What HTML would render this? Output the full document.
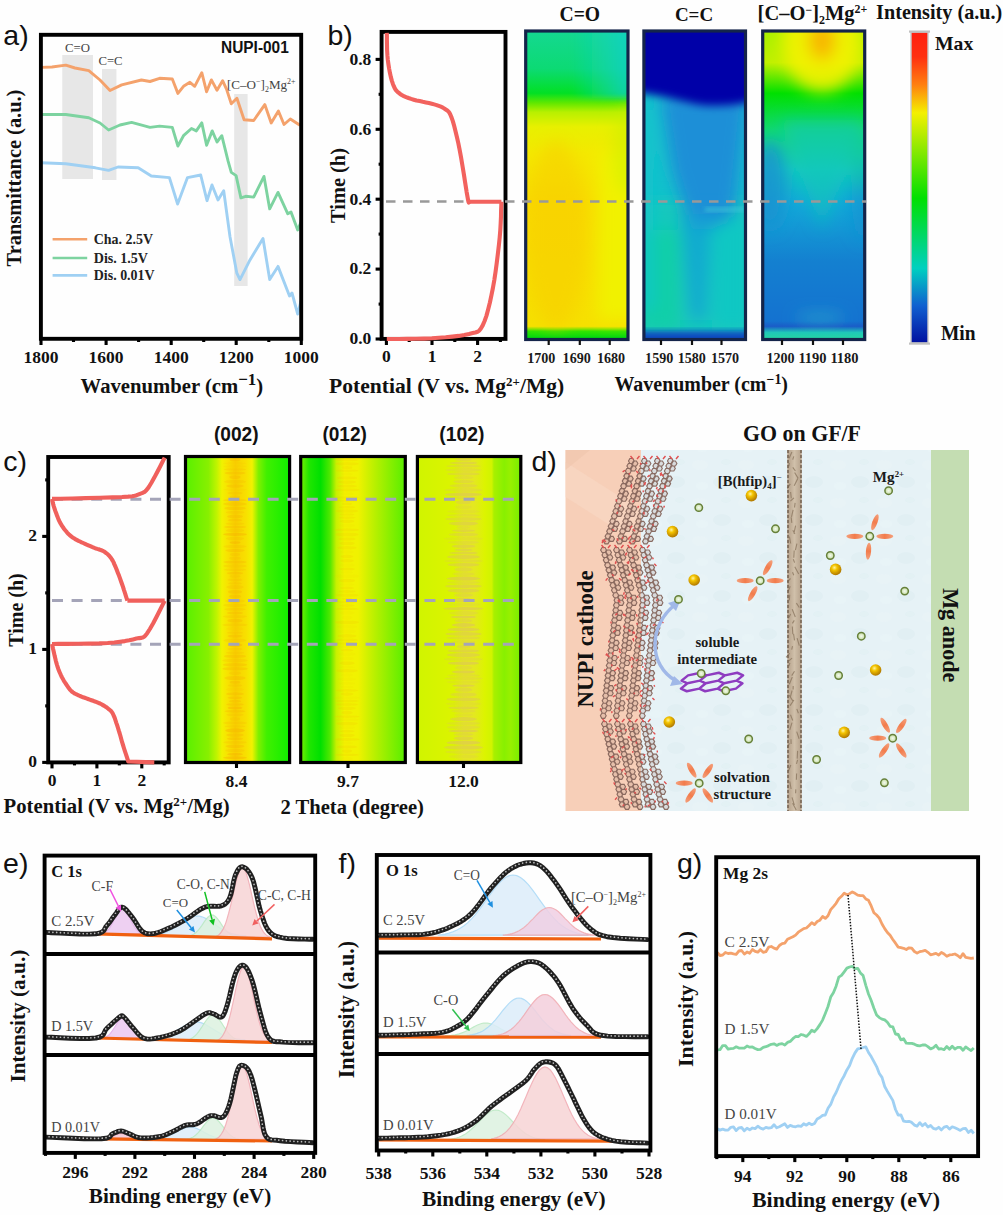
<!DOCTYPE html>
<html><head><meta charset="utf-8"><style>
html,body{margin:0;padding:0;background:#fff;width:1003px;height:1215px;overflow:hidden}
svg{display:block}
</style></head><body>
<svg width="1003" height="1215" viewBox="0 0 1003 1215">
<rect width="1003" height="1215" fill="#fefefe"/>
<rect x="62.3" y="55" width="30.7" height="124" fill="#dcdcdc" opacity="0.68"/>
<rect x="102" y="69" width="14.4" height="111" fill="#dcdcdc" opacity="0.68"/>
<rect x="234.2" y="94" width="13.4" height="192" fill="#dcdcdc" opacity="0.68"/>
<path d="M41,67.4 L52,67 L65.8,65.1 L75,68 L88.8,70.7 L100,80 L110,90.5 L121.7,84.9 L141.4,80 L150,81.5 L159.6,78.3 L172.3,79 L177.9,93.4 L183.5,86.3 L189.9,82.3 L194.7,86.3 L201.8,72.7 L206.6,91.8 L211.4,79.9 L217,90.2 L222.6,80.7 L226.6,89.4 L231.3,103.8 L236.9,98.2 L244.1,119.7 L253.7,120.5 L264.8,104.6 L271.2,122.9 L278.4,111 L284,124.5 L290.3,119 L300,125.3" fill="none" stroke="#f4a26c" stroke-width="2.9" stroke-linejoin="round"/>
<path d="M41,114.5 L65.8,114.5 L88.8,117.8 L100,123 L108.6,130 L120,125 L131.6,122.4 L150,127.4 L159.6,126.1 L172.3,127.4 L177.9,146 L183.5,135.7 L191.5,128.5 L196.3,130.9 L201.8,122.9 L206.6,145.3 L212.2,130.9 L217,142 L221.8,135.7 L228.1,161.2 L231.3,172.4 L236.1,175.6 L240.9,197.9 L245.7,196.3 L253.7,197.1 L264,176.4 L269.7,208.9 L278,192.4 L287.8,213.8 L291,212 L297.7,230 L301,222" fill="none" stroke="#7dd3a0" stroke-width="2.9" stroke-linejoin="round"/>
<path d="M41,162.8 L65.8,163.8 L95.4,167.8 L108.6,170.4 L118,167 L138.2,167.8 L151.3,176 L169.4,177.6 L177.6,204 L187.5,177.6 L200.7,175 L207,200.7 L212,185 L218,200 L223.7,190.8 L230,236.8 L236.8,273 L240,279.6 L250,259.9 L263,238.5 L269.7,279.6 L278,266.4 L289.5,296 L292,293 L297.7,314 L301,301" fill="none" stroke="#9fd0f3" stroke-width="2.9" stroke-linejoin="round"/>
<rect x="40.9" y="34.8" width="260.3" height="304" fill="none" stroke="#000" stroke-width="3.9"/>
<line x1="41" y1="339" x2="41" y2="345" stroke="#000" stroke-width="3.1"/>
<line x1="73.5" y1="339" x2="73.5" y2="342" stroke="#000" stroke-width="3.1"/>
<line x1="106.1" y1="339" x2="106.1" y2="345" stroke="#000" stroke-width="3.1"/>
<line x1="138.6" y1="339" x2="138.6" y2="342" stroke="#000" stroke-width="3.1"/>
<line x1="171.2" y1="339" x2="171.2" y2="345" stroke="#000" stroke-width="3.1"/>
<line x1="203.7" y1="339" x2="203.7" y2="342" stroke="#000" stroke-width="3.1"/>
<line x1="236.2" y1="339" x2="236.2" y2="345" stroke="#000" stroke-width="3.1"/>
<line x1="268.8" y1="339" x2="268.8" y2="342" stroke="#000" stroke-width="3.1"/>
<line x1="301.3" y1="339" x2="301.3" y2="345" stroke="#000" stroke-width="3.1"/>
<text id="tx1" x="41" y="362.7" font-family='"Liberation Serif", serif' font-size="17.50" font-weight="bold" text-anchor="middle" fill="#111">1800</text>
<text id="tx2" x="106.1" y="362.7" font-family='"Liberation Serif", serif' font-size="17.50" font-weight="bold" text-anchor="middle" fill="#111">1600</text>
<text id="tx3" x="171.2" y="362.7" font-family='"Liberation Serif", serif' font-size="17.50" font-weight="bold" text-anchor="middle" fill="#111">1400</text>
<text id="tx4" x="236.2" y="362.7" font-family='"Liberation Serif", serif' font-size="17.50" font-weight="bold" text-anchor="middle" fill="#111">1200</text>
<text id="tx5" x="301.3" y="362.7" font-family='"Liberation Serif", serif' font-size="17.50" font-weight="bold" text-anchor="middle" fill="#111">1000</text>
<text id="tx6" x="80.6" y="392.5" font-family='"Liberation Serif", serif' font-size="20.80" font-weight="bold" text-anchor="start" fill="#111" textLength="182.6" lengthAdjust="spacingAndGlyphs">Wavenumber (cm<tspan dy="-8" font-size="17">−1</tspan><tspan dy="8">)</tspan></text>
<text id="tx7" x="20.9" y="266.4" font-family='"Liberation Serif", serif' font-size="20.50" font-weight="bold" text-anchor="start" fill="#111" transform="rotate(-90 20.9 266.4)" textLength="176.8" lengthAdjust="spacingAndGlyphs">Transmittance (a.u.)</text>
<text id="tx8" x="65" y="51.6" font-family='"Liberation Serif", serif' font-size="13.32" font-weight="normal" text-anchor="start" fill="#444" textLength="25" lengthAdjust="spacingAndGlyphs">C=O</text>
<text id="tx9" x="98.4" y="65.3" font-family='"Liberation Serif", serif' font-size="13.18" font-weight="normal" text-anchor="start" fill="#444" textLength="24.2" lengthAdjust="spacingAndGlyphs">C=C</text>
<text id="tx10" x="227" y="89" font-family='"Liberation Serif", serif' font-size="13.17" font-weight="normal" text-anchor="start" fill="#444" textLength="68.5" lengthAdjust="spacingAndGlyphs">[C–O<tspan dy="-5" font-size="8">−</tspan><tspan dy="5">]</tspan><tspan dy="3" font-size="8">2</tspan><tspan dy="-3">Mg</tspan><tspan dy="-5" font-size="8">2+</tspan></text>
<text id="tx11" x="221" y="52.8" font-family='"Liberation Sans", sans-serif' font-size="15.60" font-weight="bold" text-anchor="start" fill="#111" textLength="67.8" lengthAdjust="spacingAndGlyphs">NUPI-001</text>
<line x1="52.6" y1="239.2" x2="87.2" y2="239.2" stroke="#f4a26c" stroke-width="2.6"/>
<text id="tx12" x="93.8" y="244.2" font-family='"Liberation Serif", serif' font-size="14.17" font-weight="bold" text-anchor="start" fill="#222" textLength="59.2" lengthAdjust="spacingAndGlyphs">Cha. 2.5V</text>
<line x1="52.6" y1="258" x2="87.2" y2="258" stroke="#7dd3a0" stroke-width="2.6"/>
<text id="tx13" x="93.8" y="263" font-family='"Liberation Serif", serif' font-size="14.09" font-weight="bold" text-anchor="start" fill="#222" textLength="54.2" lengthAdjust="spacingAndGlyphs">Dis. 1.5V</text>
<line x1="52.6" y1="275.4" x2="87.2" y2="275.4" stroke="#9fd0f3" stroke-width="2.6"/>
<text id="tx14" x="93.8" y="280.4" font-family='"Liberation Serif", serif' font-size="14.18" font-weight="bold" text-anchor="start" fill="#222" textLength="60.8" lengthAdjust="spacingAndGlyphs">Dis. 0.01V</text>
<text id="tx15" x="3.3" y="44.6" font-family='"Liberation Sans", sans-serif' font-size="28.50" font-weight="normal" text-anchor="start" fill="#111">a)</text>
<defs><linearGradient id="coV" gradientUnits="userSpaceOnUse" x1="0" y1="32" x2="0" y2="338">
<stop offset="0" stop-color="#14d890"/><stop offset="0.12" stop-color="#0cda74"/><stop offset="0.2" stop-color="#02e024"/>
<stop offset="0.232" stop-color="#60e800"/><stop offset="0.262" stop-color="#b8f000"/><stop offset="0.31" stop-color="#e8f000"/><stop offset="0.4" stop-color="#f4e800"/><stop offset="0.55" stop-color="#f8dc00"/>
<stop offset="0.962" stop-color="#f6e000"/><stop offset="0.978" stop-color="#30e400"/><stop offset="1" stop-color="#00d810"/></linearGradient>
<linearGradient id="coTeal" x1="0" y1="0" x2="1" y2="0"><stop offset="0" stop-color="#14d2c4" stop-opacity="0"/><stop offset="0.45" stop-color="#14d2c4" stop-opacity="0"/><stop offset="1" stop-color="#10d0c8" stop-opacity="0.85"/></linearGradient>
<linearGradient id="mgV" gradientUnits="userSpaceOnUse" x1="0" y1="32" x2="0" y2="338">
<stop offset="0" stop-color="#a8f000"/><stop offset="0.1" stop-color="#c0f000"/><stop offset="0.2" stop-color="#00e000"/>
<stop offset="0.32" stop-color="#10d870"/><stop offset="0.45" stop-color="#10c8c0"/><stop offset="0.56" stop-color="#12a8d8"/>
<stop offset="0.75" stop-color="#1480d0"/><stop offset="0.945" stop-color="#1472d0"/><stop offset="0.962" stop-color="#1a5cc8"/>
<stop offset="0.982" stop-color="#20c8b8"/><stop offset="1" stop-color="#24d4a4"/></linearGradient>
<filter id="blur4" x="-20%" y="-20%" width="140%" height="140%"><feGaussianBlur stdDeviation="4"/></filter>
<filter id="blur6" x="-20%" y="-20%" width="140%" height="140%"><feGaussianBlur stdDeviation="6"/></filter>
<filter id="blur8" x="-50%" y="-50%" width="200%" height="200%"><feGaussianBlur stdDeviation="8"/></filter>
<filter id="blur3" x="-20%" y="-20%" width="140%" height="140%"><feGaussianBlur stdDeviation="3"/></filter>
<filter id="blur2" x="-20%" y="-20%" width="140%" height="140%"><feGaussianBlur stdDeviation="2"/></filter>
<clipPath id="clipCO"><rect x="526" y="31.5" width="102" height="307.5"/></clipPath>
<clipPath id="clipCC"><rect x="644" y="31.5" width="101.5" height="307.5"/></clipPath>
<clipPath id="clipMG"><rect x="763" y="31.5" width="102" height="307.5"/></clipPath>
<linearGradient id="cbar" x1="0" y1="0" x2="0" y2="1">
<stop offset="0" stop-color="#ff2010"/><stop offset="0.08" stop-color="#ff3010"/><stop offset="0.17" stop-color="#ff8010"/><stop offset="0.26" stop-color="#f4f000"/>
<stop offset="0.535" stop-color="#00e000"/><stop offset="0.76" stop-color="#00d0c0"/><stop offset="0.88" stop-color="#1060d0"/><stop offset="1" stop-color="#0010a0"/></linearGradient>
</defs>
<g clip-path="url(#clipCO)">
<rect x="524" y="30" width="106" height="311" fill="url(#coV)"/>
<rect x="524" y="28" width="106" height="70" fill="url(#coTeal)" filter="url(#blur3)"/>
<g filter="url(#blur8)">
<ellipse cx="556" cy="235" rx="30" ry="95" fill="#f8c800" opacity="0.42"/>
<rect x="598" y="150" width="50" height="170" fill="#f0f400" opacity="0.85"/>
<ellipse cx="630" cy="150" rx="18" ry="45" fill="#c8f000" opacity="0.5"/>
</g></g>
<rect x="525.7" y="31" width="102.3" height="308.5" fill="none" stroke="#14244a" stroke-width="3.2"/>
<g clip-path="url(#clipCC)">
<rect x="642" y="30" width="106" height="311" fill="#14c0cc"/>
<rect x="642" y="200" width="106" height="140" fill="#12c8bc" filter="url(#blur8)"/>
<g filter="url(#blur8)">
<rect x="636" y="230" width="44" height="100" fill="#10d0a4" opacity="0.85"/>
<rect x="712" y="215" width="40" height="115" fill="#10c8c4" opacity="0.9"/>
<path d="M660,95 L748,95 L735,215 L712,228 L690,228 L672,170 Z" fill="#1a8cd8" opacity="0.95"/>
<path d="M680,215 L712,215 L706,320 L690,320 Z" fill="#14a4d4" opacity="0.8"/>
<rect x="640" y="110" width="14" height="200" fill="#12c6cc" opacity="0.8"/>
</g>
<rect x="705" y="207" width="42" height="5" fill="#40c8d8" opacity="0.6" filter="url(#blur2)"/>
<path d="M630,20 L760,20 L760,100 C735,106 710,108 690,103 C670,98 655,94 630,92 Z" fill="#0000a8" filter="url(#blur4)"/>
<rect x="630" y="331" width="130" height="20" fill="#1048c0" filter="url(#blur3)"/>
</g>
<rect x="643.9" y="31" width="101.6" height="308.5" fill="none" stroke="#14244a" stroke-width="3.2"/>
<g clip-path="url(#clipMG)">
<rect x="761" y="30" width="106" height="311" fill="url(#mgV)"/>
<g filter="url(#blur8)">
<ellipse cx="822" cy="40" rx="40" ry="52" fill="#f4f200" opacity="0.9"/>
<ellipse cx="822" cy="40" rx="13" ry="20" fill="#f8b400"/>
<path d="M780,120 L865,120 L822,230 Z" fill="#10c8b8" opacity="0.6"/>
<ellipse cx="770" cy="185" rx="16" ry="45" fill="#1890d0" opacity="0.8"/>
<ellipse cx="864" cy="200" rx="12" ry="40" fill="#1890d0" opacity="0.6"/>
<ellipse cx="862" cy="160" rx="10" ry="30" fill="#10c8a0" opacity="0.6"/>
<ellipse cx="820" cy="318" rx="25" ry="4" fill="#30c8c8" opacity="0.6"/>
</g></g>
<rect x="762.7" y="31" width="102" height="308.5" fill="none" stroke="#14244a" stroke-width="3.2"/>
<line x1="548.7" y1="340" x2="548.7" y2="345" stroke="#111" stroke-width="2.2"/>
<text id="tx16" x="541.3" y="362.5" font-family='"Liberation Serif", serif' font-size="14.50" font-weight="bold" text-anchor="middle" fill="#1a1a1a" textLength="28.2" lengthAdjust="spacingAndGlyphs">1700</text>
<line x1="579.8" y1="340" x2="579.8" y2="345" stroke="#111" stroke-width="2.2"/>
<text id="tx17" x="576.7" y="362.5" font-family='"Liberation Serif", serif' font-size="14.50" font-weight="bold" text-anchor="middle" fill="#1a1a1a" textLength="28.2" lengthAdjust="spacingAndGlyphs">1690</text>
<line x1="609.7" y1="340" x2="609.7" y2="345" stroke="#111" stroke-width="2.2"/>
<text id="tx18" x="611" y="362.5" font-family='"Liberation Serif", serif' font-size="14.50" font-weight="bold" text-anchor="middle" fill="#1a1a1a" textLength="28.2" lengthAdjust="spacingAndGlyphs">1680</text>
<line x1="661" y1="340" x2="661" y2="345" stroke="#111" stroke-width="2.2"/>
<text id="tx19" x="659.2" y="362.5" font-family='"Liberation Serif", serif' font-size="14.50" font-weight="bold" text-anchor="middle" fill="#1a1a1a" textLength="28.2" lengthAdjust="spacingAndGlyphs">1590</text>
<line x1="692" y1="340" x2="692" y2="345" stroke="#111" stroke-width="2.2"/>
<text id="tx20" x="691.8" y="362.5" font-family='"Liberation Serif", serif' font-size="14.50" font-weight="bold" text-anchor="middle" fill="#1a1a1a" textLength="28.2" lengthAdjust="spacingAndGlyphs">1580</text>
<line x1="721.5" y1="340" x2="721.5" y2="345" stroke="#111" stroke-width="2.2"/>
<text id="tx21" x="725" y="362.5" font-family='"Liberation Serif", serif' font-size="14.50" font-weight="bold" text-anchor="middle" fill="#1a1a1a" textLength="28.2" lengthAdjust="spacingAndGlyphs">1570</text>
<line x1="782" y1="340" x2="782" y2="345" stroke="#111" stroke-width="2.2"/>
<text id="tx22" x="780.5" y="362.5" font-family='"Liberation Serif", serif' font-size="14.50" font-weight="bold" text-anchor="middle" fill="#1a1a1a" textLength="28.2" lengthAdjust="spacingAndGlyphs">1200</text>
<line x1="813" y1="340" x2="813" y2="345" stroke="#111" stroke-width="2.2"/>
<text id="tx23" x="812.5" y="362.5" font-family='"Liberation Serif", serif' font-size="14.50" font-weight="bold" text-anchor="middle" fill="#1a1a1a" textLength="28.2" lengthAdjust="spacingAndGlyphs">1190</text>
<line x1="843" y1="340" x2="843" y2="345" stroke="#111" stroke-width="2.2"/>
<text id="tx24" x="844.5" y="362.5" font-family='"Liberation Serif", serif' font-size="14.50" font-weight="bold" text-anchor="middle" fill="#1a1a1a" textLength="28.2" lengthAdjust="spacingAndGlyphs">1180</text>
<text id="tx25" x="614.5" y="390.5" font-family='"Liberation Serif", serif' font-size="20.07" font-weight="bold" text-anchor="start" fill="#111" textLength="173.5" lengthAdjust="spacingAndGlyphs">Wavenumber (cm<tspan dy="-7" font-size="14">−1</tspan><tspan dy="7">)</tspan></text>
<text id="tx26" x="559.5" y="20.6" font-family='"Liberation Serif", serif' font-size="20.10" font-weight="bold" text-anchor="start" fill="#111" textLength="40.6" lengthAdjust="spacingAndGlyphs">C=O</text>
<text id="tx27" x="674.9" y="20.6" font-family='"Liberation Serif", serif' font-size="19.51" font-weight="bold" text-anchor="start" fill="#111" textLength="38.3" lengthAdjust="spacingAndGlyphs">C=C</text>
<text id="tx28" x="757.6" y="19.5" font-family='"Liberation Serif", serif' font-size="20.61" font-weight="bold" text-anchor="start" fill="#111" textLength="109.7" lengthAdjust="spacingAndGlyphs">[C–O<tspan dy="-6" font-size="12">−</tspan><tspan dy="6">]</tspan><tspan dy="4" font-size="12">2</tspan><tspan dy="-4">Mg</tspan><tspan dy="-7" font-size="12">2+</tspan></text>
<text id="tx29" x="876.1" y="18.9" font-family='"Liberation Serif", serif' font-size="20.35" font-weight="bold" text-anchor="start" fill="#111" textLength="126.2" lengthAdjust="spacingAndGlyphs">Intensity (a.u.)</text>
<rect x="911" y="32" width="17" height="311" fill="url(#cbar)" stroke="#c8c8c8" stroke-width="1.4"/><rect x="909" y="30.5" width="21" height="2.2" fill="#c0c0c0"/><rect x="909" y="342.5" width="21" height="2.2" fill="#c0c0c0"/>
<text id="tx30" x="935" y="50" font-family='"Liberation Serif", serif' font-size="19.78" font-weight="bold" text-anchor="start" fill="#111" textLength="38.3" lengthAdjust="spacingAndGlyphs">Max</text>
<text id="tx31" x="941" y="340" font-family='"Liberation Serif", serif' font-size="20.02" font-weight="bold" text-anchor="start" fill="#111" textLength="34.6" lengthAdjust="spacingAndGlyphs">Min</text>
<rect x="381.6" y="31.9" width="123.9" height="307" fill="none" stroke="#000" stroke-width="3.9"/>
<line x1="375.6" y1="339" x2="381.6" y2="339" stroke="#000" stroke-width="3.1"/>
<text id="tx32" x="371.3" y="344.3" font-family='"Liberation Serif", serif' font-size="17.50" font-weight="bold" text-anchor="end" fill="#111">0.0</text>
<line x1="378.6" y1="304.1" x2="381.6" y2="304.1" stroke="#000" stroke-width="3.1"/>
<line x1="375.6" y1="269.1" x2="381.6" y2="269.1" stroke="#000" stroke-width="3.1"/>
<text id="tx33" x="371.3" y="274.4" font-family='"Liberation Serif", serif' font-size="17.50" font-weight="bold" text-anchor="end" fill="#111">0.2</text>
<line x1="378.6" y1="234.1" x2="381.6" y2="234.1" stroke="#000" stroke-width="3.1"/>
<line x1="375.6" y1="199.2" x2="381.6" y2="199.2" stroke="#000" stroke-width="3.1"/>
<text id="tx34" x="371.3" y="204.5" font-family='"Liberation Serif", serif' font-size="17.50" font-weight="bold" text-anchor="end" fill="#111">0.4</text>
<line x1="378.6" y1="164.2" x2="381.6" y2="164.2" stroke="#000" stroke-width="3.1"/>
<line x1="375.6" y1="129.3" x2="381.6" y2="129.3" stroke="#000" stroke-width="3.1"/>
<text id="tx35" x="371.3" y="134.6" font-family='"Liberation Serif", serif' font-size="17.50" font-weight="bold" text-anchor="end" fill="#111">0.6</text>
<line x1="378.6" y1="94.3" x2="381.6" y2="94.3" stroke="#000" stroke-width="3.1"/>
<line x1="375.6" y1="59.4" x2="381.6" y2="59.4" stroke="#000" stroke-width="3.1"/>
<text id="tx36" x="371.3" y="64.7" font-family='"Liberation Serif", serif' font-size="17.50" font-weight="bold" text-anchor="end" fill="#111">0.8</text>
<line x1="386.4" y1="339" x2="386.4" y2="345" stroke="#000" stroke-width="3.1"/>
<text id="tx37" x="386.4" y="362.2" font-family='"Liberation Serif", serif' font-size="17.50" font-weight="bold" text-anchor="middle" fill="#111">0</text>
<line x1="409.2" y1="339" x2="409.2" y2="342" stroke="#000" stroke-width="3.1"/>
<line x1="432" y1="339" x2="432" y2="345" stroke="#000" stroke-width="3.1"/>
<text id="tx38" x="432" y="362.2" font-family='"Liberation Serif", serif' font-size="17.50" font-weight="bold" text-anchor="middle" fill="#111">1</text>
<line x1="454.8" y1="339" x2="454.8" y2="342" stroke="#000" stroke-width="3.1"/>
<line x1="477.6" y1="339" x2="477.6" y2="345" stroke="#000" stroke-width="3.1"/>
<text id="tx39" x="477.6" y="362.2" font-family='"Liberation Serif", serif' font-size="17.50" font-weight="bold" text-anchor="middle" fill="#111">2</text>
<line x1="500.4" y1="339" x2="500.4" y2="342" stroke="#000" stroke-width="3.1"/>
<line x1="386" y1="201.5" x2="866" y2="201.5" stroke="#999" stroke-width="2.6" stroke-dasharray="9.5 7.5"/>
<path d="M386.8,32.9 L386.9,35.9 L386.9,40 L387,44.9 L387.1,50.1 L387.4,55.2 L387.8,59.8 L388.4,64.1 L389.1,68.5 L389.9,72.8 L390.8,76.9 L391.8,80.6 L392.8,83.7 L393.8,86.2 L394.7,88.2 L395.7,89.8 L396.9,91.2 L398.2,92.4 L399.8,93.7 L401.7,95 L403.8,96.1 L406.1,97.1 L408.5,98 L411.1,98.9 L413.7,99.7 L416.5,100.5 L419.6,101.1 L422.8,101.8 L425.9,102.4 L428.9,103 L431.7,103.7 L434.2,104.4 L436.6,105.1 L438.8,105.9 L440.9,106.7 L442.9,107.6 L444.6,108.7 L446.1,109.7 L447.3,110.5 L448.4,111.5 L449.4,112.8 L450.4,114.7 L451.6,117.6 L452.9,121.4 L454.2,126 L455.5,131.2 L456.9,136.9 L458.3,143.1 L459.6,149.6 L461,157.2 L462.5,166 L464,175.2 L465.4,184.1 L466.6,191.8 L467.6,197.4 L468.2,200.7 L468.6,202.2 L468.8,202.5 L468.9,202.2 L468.9,201.7 L469,201.7" fill="none" stroke="#f2625e" stroke-width="4.1" stroke-linejoin="round"/>
<path d="M469,201.7 L501.4,201.7" fill="none" stroke="#f2625e" stroke-width="4.1"/>
<path d="M501.4,201.7 L501.3,205.4 L501.1,210.4 L501,216.3 L500.7,223 L500.3,230.1 L499.7,237.3 L498.9,245 L497.9,253.6 L496.8,262.5 L495.6,271.5 L494.3,280.1 L492.9,288 L491.4,295.3 L489.9,302.5 L488.2,309.3 L486.5,315.6 L484.6,321 L482.7,325.4 L480.9,328.5 L479.3,330.6 L477.5,331.8 L475.4,332.5 L472.7,333.1 L469,334 L464.3,335 L458.7,335.9 L452.4,336.6 L445.7,337.3 L438.8,337.8 L431.9,338.3 L424.3,338.6 L415.8,338.8 L407,338.9 L398.8,339 L391.8,339 L386.8,339" fill="none" stroke="#f2625e" stroke-width="4.1" stroke-linejoin="round"/>
<text id="tx40" x="329" y="392.7" font-family='"Liberation Serif", serif' font-size="21.69" font-weight="bold" text-anchor="start" fill="#111" textLength="235.3" lengthAdjust="spacingAndGlyphs">Potential (V vs. Mg<tspan dy="-7" font-size="13">2+</tspan><tspan dy="7">/Mg)</tspan></text>
<text id="tx41" x="345" y="223" font-family='"Liberation Serif", serif' font-size="20.67" font-weight="bold" text-anchor="start" fill="#111" transform="rotate(-90 345 223)" textLength="75" lengthAdjust="spacingAndGlyphs">Time (h)</text>
<text id="tx42" x="327.5" y="44.9" font-family='"Liberation Sans", sans-serif' font-size="28.50" font-weight="normal" text-anchor="start" fill="#111">b)</text>
<defs>
<linearGradient id="h002" x1="0" y1="0" x2="1" y2="0">
<stop offset="0" stop-color="#58f000"/><stop offset="0.22" stop-color="#88f000"/><stop offset="0.3" stop-color="#c0f400"/><stop offset="0.35" stop-color="#f0f200"/>
<stop offset="0.4" stop-color="#f8e400"/><stop offset="0.48" stop-color="#f8d000"/><stop offset="0.58" stop-color="#f8e000"/><stop offset="0.64" stop-color="#f0f200"/><stop offset="0.7" stop-color="#80f000"/><stop offset="0.78" stop-color="#40f000"/><stop offset="1" stop-color="#10ee00"/></linearGradient>
<linearGradient id="h012" x1="0" y1="0" x2="1" y2="0">
<stop offset="0" stop-color="#78f000"/><stop offset="0.08" stop-color="#20e600"/><stop offset="0.19" stop-color="#00e000"/><stop offset="0.28" stop-color="#50e800"/>
<stop offset="0.34" stop-color="#c8f000"/><stop offset="0.42" stop-color="#f4f200"/><stop offset="0.55" stop-color="#f0f200"/><stop offset="0.71" stop-color="#b8f000"/><stop offset="1" stop-color="#58ee00"/></linearGradient>
<linearGradient id="h102" x1="0" y1="0" x2="1" y2="0">
<stop offset="0" stop-color="#d0f400"/><stop offset="0.35" stop-color="#dcf400"/><stop offset="0.45" stop-color="#e4e820"/><stop offset="0.55" stop-color="#e4e820"/><stop offset="0.65" stop-color="#dcf400"/>
<stop offset="0.72" stop-color="#d0f400"/><stop offset="0.74" stop-color="#a8f000"/><stop offset="0.84" stop-color="#88f000"/><stop offset="0.9" stop-color="#98f000"/><stop offset="1" stop-color="#78ee00"/></linearGradient>
</defs>
<rect x="185.5" y="456.5" width="104.1" height="306" fill="url(#h002)"/>
<g opacity="0.9"><ellipse cx="235" cy="459.8" rx="5.3" ry="1.6" fill="#f4a800" opacity="0.3"/><ellipse cx="235" cy="463.3" rx="12.1" ry="1.3" fill="#f4a800" opacity="0.1"/><ellipse cx="235" cy="466.4" rx="11.7" ry="1.3" fill="#f4a800" opacity="0.1"/><ellipse cx="235" cy="469.6" rx="11.2" ry="1.4" fill="#f4a800" opacity="0.2"/><ellipse cx="235" cy="473.1" rx="10.8" ry="1.5" fill="#f4a800" opacity="0.3"/><ellipse cx="235" cy="477.1" rx="5.7" ry="1.9" fill="#f4a800" opacity="0.3"/><ellipse cx="235" cy="481.7" rx="11.1" ry="2" fill="#f4a800" opacity="0.2"/><ellipse cx="235" cy="486" rx="8.7" ry="1.7" fill="#f4a800" opacity="0.3"/><ellipse cx="235" cy="489.6" rx="11.8" ry="1.3" fill="#f4a800" opacity="0.1"/><ellipse cx="235" cy="493.1" rx="7.7" ry="1.6" fill="#f4a800" opacity="0.2"/><ellipse cx="235" cy="496.8" rx="5.2" ry="1.5" fill="#f4a800" opacity="0.2"/><ellipse cx="235" cy="500.2" rx="12" ry="1.3" fill="#f4a800" opacity="0.3"/><ellipse cx="235" cy="504" rx="11.9" ry="1.9" fill="#f4a800" opacity="0.3"/><ellipse cx="235" cy="508.3" rx="10.9" ry="1.8" fill="#f4a800" opacity="0.3"/><ellipse cx="235" cy="512.4" rx="9.5" ry="1.6" fill="#f4a800" opacity="0.2"/><ellipse cx="235" cy="516.4" rx="8" ry="1.8" fill="#f4a800" opacity="0.3"/><ellipse cx="235" cy="520.2" rx="7.4" ry="1.4" fill="#f4a800" opacity="0.3"/><ellipse cx="235" cy="523.7" rx="9.5" ry="1.5" fill="#f4a800" opacity="0.2"/><ellipse cx="235" cy="527" rx="11.3" ry="1.3" fill="#f4a800" opacity="0.3"/><ellipse cx="235" cy="530.5" rx="9.4" ry="1.7" fill="#f4a800" opacity="0.2"/><ellipse cx="235" cy="534.4" rx="12" ry="1.6" fill="#f4a800" opacity="0.4"/><ellipse cx="235" cy="538.6" rx="9.3" ry="1.9" fill="#f4a800" opacity="0.2"/><ellipse cx="235" cy="542.6" rx="5.5" ry="1.4" fill="#f4a800" opacity="0.4"/><ellipse cx="235" cy="546.5" rx="11.6" ry="1.8" fill="#f4a800" opacity="0.2"/><ellipse cx="235" cy="550.5" rx="9.7" ry="1.6" fill="#f4a800" opacity="0.3"/><ellipse cx="235" cy="554.4" rx="5.2" ry="1.6" fill="#f4a800" opacity="0.2"/><ellipse cx="235" cy="558.3" rx="6.1" ry="1.7" fill="#f4a800" opacity="0.2"/><ellipse cx="235" cy="562.1" rx="11.8" ry="1.5" fill="#f4a800" opacity="0.3"/><ellipse cx="235" cy="566" rx="11.8" ry="1.7" fill="#f4a800" opacity="0.2"/><ellipse cx="235" cy="569.8" rx="11.3" ry="1.5" fill="#f4a800" opacity="0.2"/><ellipse cx="235" cy="573.2" rx="8.3" ry="1.4" fill="#f4a800" opacity="0.3"/><ellipse cx="235" cy="576.5" rx="5.5" ry="1.4" fill="#f4a800" opacity="0.2"/><ellipse cx="235" cy="579.9" rx="7.6" ry="1.5" fill="#f4a800" opacity="0.2"/><ellipse cx="235" cy="583.3" rx="7.1" ry="1.3" fill="#f4a800" opacity="0.2"/><ellipse cx="235" cy="587.1" rx="8.9" ry="2" fill="#f4a800" opacity="0.2"/><ellipse cx="235" cy="591.8" rx="7.2" ry="1.9" fill="#f4a800" opacity="0.3"/><ellipse cx="235" cy="596.4" rx="6.2" ry="2" fill="#f4a800" opacity="0.3"/><ellipse cx="235" cy="601" rx="10.1" ry="1.9" fill="#f4a800" opacity="0.2"/><ellipse cx="235" cy="605.3" rx="11.9" ry="1.8" fill="#f4a800" opacity="0.2"/><ellipse cx="235" cy="609.3" rx="11" ry="1.6" fill="#f4a800" opacity="0.2"/><ellipse cx="235" cy="613" rx="8.2" ry="1.5" fill="#f4a800" opacity="0.3"/><ellipse cx="235" cy="616.6" rx="12.4" ry="1.5" fill="#f4a800" opacity="0.2"/><ellipse cx="235" cy="620.7" rx="7.7" ry="1.9" fill="#f4a800" opacity="0.3"/><ellipse cx="235" cy="624.9" rx="12.5" ry="1.6" fill="#f4a800" opacity="0.2"/><ellipse cx="235" cy="628.9" rx="8.6" ry="1.9" fill="#f4a800" opacity="0.1"/><ellipse cx="235" cy="632.7" rx="8.1" ry="1.3" fill="#f4a800" opacity="0.2"/><ellipse cx="235" cy="636.1" rx="7.5" ry="1.6" fill="#f4a800" opacity="0.3"/><ellipse cx="235" cy="640.4" rx="11.6" ry="2" fill="#f4a800" opacity="0.2"/><ellipse cx="235" cy="645" rx="7.4" ry="1.8" fill="#f4a800" opacity="0.4"/><ellipse cx="235" cy="649.1" rx="7.8" ry="1.6" fill="#f4a800" opacity="0.2"/><ellipse cx="235" cy="652.7" rx="9.2" ry="1.4" fill="#f4a800" opacity="0.2"/><ellipse cx="235" cy="656.3" rx="11.1" ry="1.7" fill="#f4a800" opacity="0.3"/><ellipse cx="235" cy="660.5" rx="12.7" ry="1.9" fill="#f4a800" opacity="0.2"/><ellipse cx="235" cy="664.7" rx="12.3" ry="1.7" fill="#f4a800" opacity="0.3"/><ellipse cx="235" cy="668.8" rx="12.7" ry="1.7" fill="#f4a800" opacity="0.3"/><ellipse cx="235" cy="673.2" rx="6.2" ry="2" fill="#f4a800" opacity="0.2"/><ellipse cx="235" cy="678" rx="10.8" ry="2" fill="#f4a800" opacity="0.3"/><ellipse cx="235" cy="682.2" rx="5.4" ry="1.5" fill="#f4a800" opacity="0.3"/><ellipse cx="235" cy="685.5" rx="7.4" ry="1.3" fill="#f4a800" opacity="0.2"/><ellipse cx="235" cy="689.5" rx="9" ry="2.1" fill="#f4a800" opacity="0.1"/><ellipse cx="235" cy="693.9" rx="8.9" ry="1.7" fill="#f4a800" opacity="0.3"/><ellipse cx="235" cy="697.7" rx="7.3" ry="1.5" fill="#f4a800" opacity="0.3"/><ellipse cx="235" cy="701.2" rx="6.2" ry="1.5" fill="#f4a800" opacity="0.3"/><ellipse cx="235" cy="704.5" rx="8.9" ry="1.3" fill="#f4a800" opacity="0.3"/><ellipse cx="235" cy="707.9" rx="7.4" ry="1.5" fill="#f4a800" opacity="0.4"/><ellipse cx="235" cy="711.3" rx="10.6" ry="1.4" fill="#f4a800" opacity="0.3"/><ellipse cx="235" cy="714.8" rx="8.9" ry="1.6" fill="#f4a800" opacity="0.2"/><ellipse cx="235" cy="718.9" rx="5.2" ry="1.9" fill="#f4a800" opacity="0.2"/><ellipse cx="235" cy="723" rx="12.1" ry="1.6" fill="#f4a800" opacity="0.2"/><ellipse cx="235" cy="726.4" rx="10.7" ry="1.3" fill="#f4a800" opacity="0.2"/><ellipse cx="235" cy="730.4" rx="9.9" ry="2.1" fill="#f4a800" opacity="0.4"/><ellipse cx="235" cy="735" rx="8.7" ry="1.8" fill="#f4a800" opacity="0.3"/><ellipse cx="235" cy="738.8" rx="8.1" ry="1.5" fill="#f4a800" opacity="0.3"/><ellipse cx="235" cy="742.4" rx="11.8" ry="1.5" fill="#f4a800" opacity="0.2"/><ellipse cx="235" cy="746.3" rx="9.5" ry="1.8" fill="#f4a800" opacity="0.3"/><ellipse cx="235" cy="750.5" rx="9.9" ry="1.7" fill="#f4a800" opacity="0.2"/><ellipse cx="235" cy="754.3" rx="7.9" ry="1.4" fill="#f4a800" opacity="0.4"/><ellipse cx="235" cy="757.8" rx="12.1" ry="1.5" fill="#f4a800" opacity="0.4"/><ellipse cx="235" cy="761.8" rx="7.4" ry="1.8" fill="#f4a800" opacity="0.3"/></g>
<rect x="185.5" y="456.5" width="104.1" height="306" fill="none" stroke="#000" stroke-width="3.2"/>
<rect x="300.7" y="456.5" width="104.6" height="306" fill="url(#h012)"/>
<g opacity="0.9"><ellipse cx="347" cy="459.9" rx="12.1" ry="1.6" fill="#f0c000" opacity="0.2"/><ellipse cx="347" cy="463.7" rx="11.9" ry="1.7" fill="#f0c000" opacity="0.2"/><ellipse cx="347" cy="467.5" rx="5.4" ry="1.5" fill="#f0c000" opacity="0.2"/><ellipse cx="347" cy="470.7" rx="11.6" ry="1.3" fill="#f0c000" opacity="0.2"/><ellipse cx="347" cy="474.1" rx="6.1" ry="1.5" fill="#f0c000" opacity="0.1"/><ellipse cx="347" cy="477.9" rx="10.2" ry="1.7" fill="#f0c000" opacity="0.2"/><ellipse cx="347" cy="482.1" rx="9.3" ry="1.8" fill="#f0c000" opacity="0.2"/><ellipse cx="347" cy="486.2" rx="9.8" ry="1.6" fill="#f0c000" opacity="0.2"/><ellipse cx="347" cy="489.9" rx="12.6" ry="1.6" fill="#f0c000" opacity="0.2"/><ellipse cx="347" cy="493.9" rx="6.9" ry="1.7" fill="#f0c000" opacity="0.1"/><ellipse cx="347" cy="497.5" rx="12" ry="1.3" fill="#f0c000" opacity="0.2"/><ellipse cx="347" cy="500.6" rx="10.9" ry="1.3" fill="#f0c000" opacity="0.2"/><ellipse cx="347" cy="503.9" rx="5.3" ry="1.4" fill="#f0c000" opacity="0.2"/><ellipse cx="347" cy="507.3" rx="8.4" ry="1.4" fill="#f0c000" opacity="0.2"/><ellipse cx="347" cy="511" rx="11.4" ry="1.7" fill="#f0c000" opacity="0.2"/><ellipse cx="347" cy="514.5" rx="7.4" ry="1.3" fill="#f0c000" opacity="0.2"/><ellipse cx="347" cy="517.6" rx="8.6" ry="1.3" fill="#f0c000" opacity="0.2"/><ellipse cx="347" cy="521.2" rx="7.5" ry="1.7" fill="#f0c000" opacity="0.2"/><ellipse cx="347" cy="525.5" rx="7.9" ry="2" fill="#f0c000" opacity="0.1"/><ellipse cx="347" cy="529.9" rx="12.4" ry="1.7" fill="#f0c000" opacity="0.2"/><ellipse cx="347" cy="534.5" rx="11.8" ry="2.1" fill="#f0c000" opacity="0.2"/><ellipse cx="347" cy="539" rx="8.5" ry="1.7" fill="#f0c000" opacity="0.2"/><ellipse cx="347" cy="543.4" rx="7.7" ry="1.9" fill="#f0c000" opacity="0.2"/><ellipse cx="347" cy="547.7" rx="9.6" ry="1.7" fill="#f0c000" opacity="0.2"/><ellipse cx="347" cy="552" rx="6.9" ry="1.9" fill="#f0c000" opacity="0.1"/><ellipse cx="347" cy="556.4" rx="6.3" ry="1.8" fill="#f0c000" opacity="0.2"/><ellipse cx="347" cy="560.7" rx="6.9" ry="1.8" fill="#f0c000" opacity="0.2"/><ellipse cx="347" cy="565.1" rx="7.9" ry="1.9" fill="#f0c000" opacity="0.1"/><ellipse cx="347" cy="569.1" rx="8" ry="1.5" fill="#f0c000" opacity="0.2"/><ellipse cx="347" cy="572.4" rx="6" ry="1.3" fill="#f0c000" opacity="0.1"/><ellipse cx="347" cy="576.2" rx="12.4" ry="1.9" fill="#f0c000" opacity="0.1"/><ellipse cx="347" cy="580.7" rx="8.2" ry="1.9" fill="#f0c000" opacity="0.2"/><ellipse cx="347" cy="584.6" rx="7.4" ry="1.4" fill="#f0c000" opacity="0.1"/><ellipse cx="347" cy="588" rx="7.2" ry="1.5" fill="#f0c000" opacity="0.2"/><ellipse cx="347" cy="591.5" rx="8.8" ry="1.5" fill="#f0c000" opacity="0.2"/><ellipse cx="347" cy="595.3" rx="11.7" ry="1.7" fill="#f0c000" opacity="0.2"/><ellipse cx="347" cy="598.9" rx="5.2" ry="1.4" fill="#f0c000" opacity="0.2"/><ellipse cx="347" cy="602.1" rx="10.3" ry="1.3" fill="#f0c000" opacity="0.2"/><ellipse cx="347" cy="605.5" rx="7.7" ry="1.5" fill="#f0c000" opacity="0.2"/><ellipse cx="347" cy="608.9" rx="12.1" ry="1.3" fill="#f0c000" opacity="0.2"/><ellipse cx="347" cy="612.8" rx="7.6" ry="2" fill="#f0c000" opacity="0.1"/><ellipse cx="347" cy="617.6" rx="5.1" ry="2.1" fill="#f0c000" opacity="0.1"/><ellipse cx="347" cy="622.3" rx="12.2" ry="1.9" fill="#f0c000" opacity="0.2"/><ellipse cx="347" cy="626.7" rx="10.2" ry="1.8" fill="#f0c000" opacity="0.1"/><ellipse cx="347" cy="631.3" rx="9.3" ry="2.1" fill="#f0c000" opacity="0.1"/><ellipse cx="347" cy="635.9" rx="9.5" ry="1.8" fill="#f0c000" opacity="0.2"/><ellipse cx="347" cy="639.9" rx="10.8" ry="1.6" fill="#f0c000" opacity="0.2"/><ellipse cx="347" cy="643.4" rx="11.3" ry="1.4" fill="#f0c000" opacity="0.2"/><ellipse cx="347" cy="646.8" rx="11.9" ry="1.5" fill="#f0c000" opacity="0.1"/><ellipse cx="347" cy="650.2" rx="6.4" ry="1.4" fill="#f0c000" opacity="0.2"/><ellipse cx="347" cy="654.1" rx="8.4" ry="1.8" fill="#f0c000" opacity="0.1"/><ellipse cx="347" cy="658.5" rx="6.9" ry="1.9" fill="#f0c000" opacity="0.1"/><ellipse cx="347" cy="663.2" rx="7.9" ry="2" fill="#f0c000" opacity="0.2"/><ellipse cx="347" cy="667.1" rx="7.8" ry="1.3" fill="#f0c000" opacity="0.1"/><ellipse cx="347" cy="670.7" rx="11" ry="1.7" fill="#f0c000" opacity="0.2"/><ellipse cx="347" cy="675" rx="6.1" ry="1.8" fill="#f0c000" opacity="0.1"/><ellipse cx="347" cy="679.3" rx="9" ry="1.8" fill="#f0c000" opacity="0.1"/><ellipse cx="347" cy="683.4" rx="8" ry="1.7" fill="#f0c000" opacity="0.1"/><ellipse cx="347" cy="687.1" rx="7.1" ry="1.4" fill="#f0c000" opacity="0.1"/><ellipse cx="347" cy="690.4" rx="11.5" ry="1.4" fill="#f0c000" opacity="0.2"/><ellipse cx="347" cy="694.1" rx="6.5" ry="1.8" fill="#f0c000" opacity="0.2"/><ellipse cx="347" cy="697.8" rx="12.9" ry="1.4" fill="#f0c000" opacity="0.1"/><ellipse cx="347" cy="701.1" rx="12.1" ry="1.4" fill="#f0c000" opacity="0.2"/><ellipse cx="347" cy="704.5" rx="11.4" ry="1.5" fill="#f0c000" opacity="0.2"/><ellipse cx="347" cy="708.2" rx="9" ry="1.7" fill="#f0c000" opacity="0.2"/><ellipse cx="347" cy="712.7" rx="5.6" ry="2" fill="#f0c000" opacity="0.2"/><ellipse cx="347" cy="716.6" rx="12.9" ry="1.3" fill="#f0c000" opacity="0.2"/><ellipse cx="347" cy="719.7" rx="12.1" ry="1.4" fill="#f0c000" opacity="0.1"/><ellipse cx="347" cy="723.6" rx="10.9" ry="1.9" fill="#f0c000" opacity="0.2"/><ellipse cx="347" cy="727.6" rx="8.4" ry="1.5" fill="#f0c000" opacity="0.1"/><ellipse cx="347" cy="731.2" rx="7.7" ry="1.5" fill="#f0c000" opacity="0.2"/><ellipse cx="347" cy="735.3" rx="7.9" ry="1.9" fill="#f0c000" opacity="0.2"/><ellipse cx="347" cy="739.4" rx="12.6" ry="1.5" fill="#f0c000" opacity="0.2"/><ellipse cx="347" cy="743" rx="5.8" ry="1.5" fill="#f0c000" opacity="0.1"/><ellipse cx="347" cy="746.9" rx="10.3" ry="1.7" fill="#f0c000" opacity="0.2"/><ellipse cx="347" cy="751.1" rx="5.1" ry="1.8" fill="#f0c000" opacity="0.2"/><ellipse cx="347" cy="754.8" rx="12.7" ry="1.3" fill="#f0c000" opacity="0.2"/><ellipse cx="347" cy="758.7" rx="5.8" ry="1.9" fill="#f0c000" opacity="0.1"/></g>
<rect x="300.7" y="456.5" width="104.6" height="306" fill="none" stroke="#000" stroke-width="3.2"/>
<rect x="417.4" y="456.5" width="103.4" height="306" fill="url(#h102)"/>
<g opacity="0.9"><ellipse cx="463.5" cy="459.7" rx="8.6" ry="1.4" fill="#dcc060" opacity="0.4"/><ellipse cx="463.5" cy="463" rx="14" ry="1.3" fill="#dcc060" opacity="0.5"/><ellipse cx="463.5" cy="466.1" rx="17.9" ry="1.3" fill="#dcc060" opacity="0.4"/><ellipse cx="463.5" cy="469.9" rx="18" ry="1.8" fill="#dcc060" opacity="0.3"/><ellipse cx="463.5" cy="473.9" rx="16.6" ry="1.6" fill="#dcc060" opacity="0.4"/><ellipse cx="463.5" cy="477.7" rx="10" ry="1.6" fill="#dcc060" opacity="0.3"/><ellipse cx="463.5" cy="481.6" rx="10.6" ry="1.6" fill="#dcc060" opacity="0.4"/><ellipse cx="463.5" cy="485.7" rx="14" ry="1.8" fill="#dcc060" opacity="0.4"/><ellipse cx="463.5" cy="490" rx="19" ry="1.9" fill="#dcc060" opacity="0.3"/><ellipse cx="463.5" cy="494.4" rx="18.6" ry="1.8" fill="#dcc060" opacity="0.6"/><ellipse cx="463.5" cy="498.1" rx="13.7" ry="1.4" fill="#dcc060" opacity="0.4"/><ellipse cx="463.5" cy="502.2" rx="7.9" ry="2.1" fill="#dcc060" opacity="0.4"/><ellipse cx="463.5" cy="507.1" rx="8.7" ry="1.9" fill="#dcc060" opacity="0.2"/><ellipse cx="463.5" cy="511.6" rx="16.4" ry="1.8" fill="#dcc060" opacity="0.2"/><ellipse cx="463.5" cy="515.3" rx="17.3" ry="1.3" fill="#dcc060" opacity="0.3"/><ellipse cx="463.5" cy="519" rx="18.3" ry="1.7" fill="#dcc060" opacity="0.4"/><ellipse cx="463.5" cy="523.5" rx="14.5" ry="2" fill="#dcc060" opacity="0.5"/><ellipse cx="463.5" cy="527.5" rx="6.8" ry="1.3" fill="#dcc060" opacity="0.3"/><ellipse cx="463.5" cy="530.7" rx="11.7" ry="1.3" fill="#dcc060" opacity="0.5"/><ellipse cx="463.5" cy="534.5" rx="14.7" ry="1.8" fill="#dcc060" opacity="0.4"/><ellipse cx="463.5" cy="538.7" rx="19.7" ry="1.6" fill="#dcc060" opacity="0.2"/><ellipse cx="463.5" cy="542.4" rx="15.5" ry="1.5" fill="#dcc060" opacity="0.3"/><ellipse cx="463.5" cy="546.3" rx="11.8" ry="1.7" fill="#dcc060" opacity="0.5"/><ellipse cx="463.5" cy="549.9" rx="9.2" ry="1.3" fill="#dcc060" opacity="0.5"/><ellipse cx="463.5" cy="553" rx="14.4" ry="1.3" fill="#dcc060" opacity="0.5"/><ellipse cx="463.5" cy="556.9" rx="16.4" ry="2" fill="#dcc060" opacity="0.5"/><ellipse cx="463.5" cy="560.9" rx="19.6" ry="1.4" fill="#dcc060" opacity="0.3"/><ellipse cx="463.5" cy="564.8" rx="15.9" ry="1.8" fill="#dcc060" opacity="0.5"/><ellipse cx="463.5" cy="569.4" rx="9.2" ry="2.1" fill="#dcc060" opacity="0.4"/><ellipse cx="463.5" cy="574" rx="11" ry="1.8" fill="#dcc060" opacity="0.3"/><ellipse cx="463.5" cy="578.6" rx="16.7" ry="2" fill="#dcc060" opacity="0.6"/><ellipse cx="463.5" cy="582.6" rx="16.4" ry="1.4" fill="#dcc060" opacity="0.3"/><ellipse cx="463.5" cy="586.3" rx="18.3" ry="1.7" fill="#dcc060" opacity="0.5"/><ellipse cx="463.5" cy="590.7" rx="15.8" ry="2" fill="#dcc060" opacity="0.5"/><ellipse cx="463.5" cy="595.2" rx="9.6" ry="1.9" fill="#dcc060" opacity="0.4"/><ellipse cx="463.5" cy="599.9" rx="10.1" ry="2.1" fill="#dcc060" opacity="0.5"/><ellipse cx="463.5" cy="604.5" rx="17.4" ry="1.8" fill="#dcc060" opacity="0.2"/><ellipse cx="463.5" cy="608.6" rx="19.9" ry="1.7" fill="#dcc060" opacity="0.6"/><ellipse cx="463.5" cy="613.1" rx="14.8" ry="2" fill="#dcc060" opacity="0.3"/><ellipse cx="463.5" cy="617.1" rx="12.8" ry="1.4" fill="#dcc060" opacity="0.6"/><ellipse cx="463.5" cy="620.8" rx="8.9" ry="1.7" fill="#dcc060" opacity="0.4"/><ellipse cx="463.5" cy="625" rx="11.7" ry="1.9" fill="#dcc060" opacity="0.6"/><ellipse cx="463.5" cy="629.5" rx="15.9" ry="1.9" fill="#dcc060" opacity="0.6"/><ellipse cx="463.5" cy="633.9" rx="18.3" ry="1.8" fill="#dcc060" opacity="0.5"/><ellipse cx="463.5" cy="637.9" rx="16.9" ry="1.5" fill="#dcc060" opacity="0.4"/><ellipse cx="463.5" cy="642" rx="12.1" ry="1.9" fill="#dcc060" opacity="0.3"/><ellipse cx="463.5" cy="646.7" rx="7" ry="2" fill="#dcc060" opacity="0.4"/><ellipse cx="463.5" cy="650.9" rx="16" ry="1.5" fill="#dcc060" opacity="0.5"/><ellipse cx="463.5" cy="655" rx="16.6" ry="2" fill="#dcc060" opacity="0.5"/><ellipse cx="463.5" cy="659.3" rx="19.5" ry="1.7" fill="#dcc060" opacity="0.3"/><ellipse cx="463.5" cy="663.3" rx="15.5" ry="1.7" fill="#dcc060" opacity="0.6"/><ellipse cx="463.5" cy="667.7" rx="8.8" ry="2" fill="#dcc060" opacity="0.3"/><ellipse cx="463.5" cy="672" rx="11.7" ry="1.6" fill="#dcc060" opacity="0.6"/><ellipse cx="463.5" cy="675.4" rx="16.3" ry="1.3" fill="#dcc060" opacity="0.3"/><ellipse cx="463.5" cy="678.5" rx="19.2" ry="1.4" fill="#dcc060" opacity="0.3"/><ellipse cx="463.5" cy="682.1" rx="17.4" ry="1.6" fill="#dcc060" opacity="0.2"/><ellipse cx="463.5" cy="685.7" rx="11.4" ry="1.3" fill="#dcc060" opacity="0.6"/><ellipse cx="463.5" cy="689.7" rx="9" ry="2.1" fill="#dcc060" opacity="0.4"/><ellipse cx="463.5" cy="694.6" rx="13.2" ry="2.1" fill="#dcc060" opacity="0.4"/><ellipse cx="463.5" cy="699.3" rx="16.9" ry="1.9" fill="#dcc060" opacity="0.5"/><ellipse cx="463.5" cy="703.8" rx="18.1" ry="2" fill="#dcc060" opacity="0.2"/><ellipse cx="463.5" cy="707.8" rx="15.1" ry="1.4" fill="#dcc060" opacity="0.5"/><ellipse cx="463.5" cy="711.2" rx="12.2" ry="1.6" fill="#dcc060" opacity="0.3"/><ellipse cx="463.5" cy="715" rx="9.8" ry="1.6" fill="#dcc060" opacity="0.2"/><ellipse cx="463.5" cy="719.1" rx="13.5" ry="2" fill="#dcc060" opacity="0.5"/><ellipse cx="463.5" cy="723.3" rx="17.1" ry="1.6" fill="#dcc060" opacity="0.3"/><ellipse cx="463.5" cy="727.2" rx="16.7" ry="1.7" fill="#dcc060" opacity="0.3"/><ellipse cx="463.5" cy="731" rx="14.9" ry="1.5" fill="#dcc060" opacity="0.6"/><ellipse cx="463.5" cy="734.4" rx="10.1" ry="1.4" fill="#dcc060" opacity="0.4"/><ellipse cx="463.5" cy="738.3" rx="9.8" ry="1.8" fill="#dcc060" opacity="0.5"/><ellipse cx="463.5" cy="742.7" rx="16.8" ry="2" fill="#dcc060" opacity="0.6"/><ellipse cx="463.5" cy="747.5" rx="19.5" ry="2" fill="#dcc060" opacity="0.5"/><ellipse cx="463.5" cy="752" rx="18.2" ry="1.8" fill="#dcc060" opacity="0.3"/><ellipse cx="463.5" cy="756.6" rx="15" ry="2" fill="#dcc060" opacity="0.2"/><ellipse cx="463.5" cy="761.5" rx="8.6" ry="2.1" fill="#dcc060" opacity="0.3"/></g>
<rect x="417.4" y="456.5" width="103.4" height="306" fill="none" stroke="#000" stroke-width="3.2"/>
<rect x="48.2" y="457" width="120.5" height="305.4" fill="none" stroke="#000" stroke-width="3.9"/>
<line x1="42.2" y1="762.4" x2="48.2" y2="762.4" stroke="#000" stroke-width="3.1"/>
<text id="tx43" x="37" y="767.4" font-family='"Liberation Serif", serif' font-size="17.50" font-weight="bold" text-anchor="end" fill="#111">0</text>
<line x1="45.2" y1="705.9" x2="48.2" y2="705.9" stroke="#000" stroke-width="3.1"/>
<line x1="42.2" y1="649.4" x2="48.2" y2="649.4" stroke="#000" stroke-width="3.1"/>
<text id="tx44" x="37" y="654.4" font-family='"Liberation Serif", serif' font-size="17.50" font-weight="bold" text-anchor="end" fill="#111">1</text>
<line x1="45.2" y1="592.9" x2="48.2" y2="592.9" stroke="#000" stroke-width="3.1"/>
<line x1="42.2" y1="536.4" x2="48.2" y2="536.4" stroke="#000" stroke-width="3.1"/>
<text id="tx45" x="37" y="541.4" font-family='"Liberation Serif", serif' font-size="17.50" font-weight="bold" text-anchor="end" fill="#111">2</text>
<line x1="45.2" y1="479.9" x2="48.2" y2="479.9" stroke="#000" stroke-width="3.1"/>
<line x1="52" y1="762.4" x2="52" y2="768.4" stroke="#000" stroke-width="3.1"/>
<text id="tx46" x="52" y="785.8" font-family='"Liberation Serif", serif' font-size="17.50" font-weight="bold" text-anchor="middle" fill="#111">0</text>
<line x1="74.5" y1="762.4" x2="74.5" y2="765.4" stroke="#000" stroke-width="3.1"/>
<line x1="96.9" y1="762.4" x2="96.9" y2="768.4" stroke="#000" stroke-width="3.1"/>
<text id="tx47" x="96.9" y="785.8" font-family='"Liberation Serif", serif' font-size="17.50" font-weight="bold" text-anchor="middle" fill="#111">1</text>
<line x1="119.3" y1="762.4" x2="119.3" y2="765.4" stroke="#000" stroke-width="3.1"/>
<line x1="141.8" y1="762.4" x2="141.8" y2="768.4" stroke="#000" stroke-width="3.1"/>
<text id="tx48" x="141.8" y="785.8" font-family='"Liberation Serif", serif' font-size="17.50" font-weight="bold" text-anchor="middle" fill="#111">2</text>
<line x1="164.2" y1="762.4" x2="164.2" y2="765.4" stroke="#000" stroke-width="3.1"/>
<line x1="236.5" y1="762.4" x2="236.5" y2="768" stroke="#000" stroke-width="3.1"/>
<text id="tx49" x="236.5" y="786.5" font-family='"Liberation Serif", serif' font-size="17.50" font-weight="bold" text-anchor="middle" fill="#111">8.4</text>
<line x1="348" y1="762.4" x2="348" y2="768" stroke="#000" stroke-width="3.1"/>
<text id="tx50" x="348" y="786.5" font-family='"Liberation Serif", serif' font-size="17.50" font-weight="bold" text-anchor="middle" fill="#111">9.7</text>
<line x1="463.5" y1="762.4" x2="463.5" y2="768" stroke="#000" stroke-width="3.1"/>
<text id="tx51" x="463.5" y="786.5" font-family='"Liberation Serif", serif' font-size="17.50" font-weight="bold" text-anchor="middle" fill="#111">12.0</text>
<line x1="52" y1="499.2" x2="515" y2="499.2" stroke="#a4a4b8" stroke-width="2.9" stroke-dasharray="11 8.6"/>
<line x1="52" y1="600.5" x2="515" y2="600.5" stroke="#a4a4b8" stroke-width="2.9" stroke-dasharray="11 8.6"/>
<line x1="52" y1="644.3" x2="515" y2="644.3" stroke="#a4a4b8" stroke-width="2.9" stroke-dasharray="11 8.6"/>
<path d="M52,644 L52.2,644.8 L52.4,645.9 L52.7,647.2 L53,648.7 L53.4,650.3 L53.8,652 L54.2,653.9 L54.7,656.1 L55.3,658.4 L55.8,660.7 L56.4,662.9 L57,665 L57.6,666.9 L58.2,668.7 L58.9,670.5 L59.6,672.2 L60.3,673.8 L61,675.4 L61.8,677 L62.6,678.4 L63.4,679.9 L64.2,681.3 L65.1,682.7 L66,684 L66.9,685.3 L67.8,686.7 L68.7,688 L69.7,689.3 L70.7,690.4 L71.8,691.5 L73,692.4 L74.3,693.3 L75.7,694 L77.1,694.7 L78.5,695.3 L80,696 L81.5,696.6 L83.1,697.3 L84.7,697.8 L86.4,698.4 L88,699 L89.7,699.6 L91.4,700.2 L93.2,700.8 L95,701.5 L96.7,702.1 L98.4,702.8 L100,703.5 L101.5,704.3 L102.9,705.1 L104.3,705.9 L105.6,706.8 L106.9,707.6 L108,708.5 L109,709.3 L109.9,710 L110.7,710.7 L111.4,711.5 L112.2,712.6 L113,714 L113.8,715.8 L114.7,717.9 L115.5,720.3 L116.3,722.8 L117.2,725.4 L118,728 L118.8,730.7 L119.7,733.5 L120.5,736.3 L121.3,739.3 L122.1,742.2 L123,745 L123.9,748 L124.9,751.1 L126,754.3 L126.9,757.2 L127.7,759.7 L128.3,761.5 L154.3,762.4" fill="none" stroke="#f0605c" stroke-width="4.1" stroke-linejoin="round"/>
<path d="M52,644 L58.4,643.9 L67.4,643.9 L78.1,643.8 L89.1,643.6 L99.3,643.4 L107.7,643 L114.3,642.5 L119.9,641.8 L124.9,641.1 L129.2,640.3 L133,639.4 L136.4,638.6 L139.2,638.1 L141.1,637.9 L142.5,637.6 L143.8,637 L145.2,635.7 L147.2,633.2 L149.9,629 L153.2,623.2 L156.6,616.7 L159.9,610.3 L162.7,604.7 L164.7,600.9" fill="none" stroke="#f0605c" stroke-width="4.1" stroke-linejoin="round"/>
<path d="M164.7,600.6 L127.4,600.6" fill="none" stroke="#f0605c" stroke-width="4.1"/>
<path d="M127.4,600.6 L126.8,598.8 L126,596.3 L125.1,593.3 L124,590.1 L123,586.9 L122,584 L121,581.2 L120,578.4 L119,575.6 L117.9,572.9 L116.9,570.3 L116,568 L115.1,565.9 L114.3,564.1 L113.6,562.4 L112.8,560.9 L111.9,559.4 L111,558 L110,556.7 L108.9,555.4 L107.7,554.3 L106.5,553.3 L105.2,552.3 L104,551.5 L102.7,550.8 L101.3,550.2 L100,549.8 L98.6,549.3 L97.2,548.9 L96,548.5 L94.9,548.1 L93.9,547.7 L93,547.3 L92,546.9 L90.9,546.4 L89.7,545.9 L88.3,545.3 L86.7,544.6 L85,543.8 L83.2,543 L81.6,542.3 L80,541.5 L78.5,540.8 L77.1,540.1 L75.7,539.4 L74.4,538.6 L73.1,537.8 L71.8,536.9 L70.6,535.9 L69.4,534.9 L68.2,533.7 L67.1,532.6 L66.1,531.3 L65,530 L64,528.7 L63,527.3 L62,525.9 L61.1,524.3 L60.1,522.7 L59.2,520.8 L58.2,518.6 L57.2,516.1 L56.3,513.5 L55.3,510.9 L54.5,508.5 L53.8,506.4 L53.3,504.7 L52.9,503.1 L52.6,501.7 L52.3,500.6 L52.2,499.6 L52,498.9" fill="none" stroke="#f0605c" stroke-width="4.1" stroke-linejoin="round"/>
<path d="M52,498.9 L60.2,498.7 L72.1,498.5 L85.9,498.1 L99.9,497.8 L112.5,497.4 L122,497 L128.1,496.6 L132.2,496.2 L134.8,495.7 L136.6,495.2 L138.1,494.6 L140,493.8 L141.9,493.1 L143.4,492.5 L144.6,491.9 L145.8,490.8 L147.2,489.2 L149,486.7 L151.4,482.8 L154.3,477.6 L157.4,471.7 L160.4,466 L162.9,461 L164.7,457.6" fill="none" stroke="#f0605c" stroke-width="4.1" stroke-linejoin="round"/>
<text id="tx52" x="3.6" y="812.8" font-family='"Liberation Serif", serif' font-size="20.79" font-weight="bold" text-anchor="start" fill="#111" textLength="226.1" lengthAdjust="spacingAndGlyphs">Potential (V vs. Mg<tspan dy="-7" font-size="13">2+</tspan><tspan dy="7">/Mg)</tspan></text>
<text id="tx53" x="280.4" y="813.5" font-family='"Liberation Serif", serif' font-size="20.79" font-weight="bold" text-anchor="start" fill="#111" textLength="143.6" lengthAdjust="spacingAndGlyphs">2 Theta (degree)</text>
<text id="tx54" x="22.6" y="646.8" font-family='"Liberation Serif", serif' font-size="20.31" font-weight="bold" text-anchor="start" fill="#111" transform="rotate(-90 22.6 646.8)" textLength="73.6" lengthAdjust="spacingAndGlyphs">Time (h)</text>
<text id="tx55" x="213.9" y="441" font-family='"Liberation Sans", sans-serif' font-size="19.57" font-weight="bold" text-anchor="start" fill="#111" textLength="44.7" lengthAdjust="spacingAndGlyphs">(002)</text>
<text id="tx56" x="322.4" y="441" font-family='"Liberation Sans", sans-serif' font-size="19.55" font-weight="bold" text-anchor="start" fill="#111" textLength="44.6" lengthAdjust="spacingAndGlyphs">(012)</text>
<text id="tx57" x="439.3" y="441" font-family='"Liberation Sans", sans-serif' font-size="19.75" font-weight="bold" text-anchor="start" fill="#111" textLength="45.1" lengthAdjust="spacingAndGlyphs">(102)</text>
<text id="tx58" x="3.3" y="471.4" font-family='"Liberation Sans", sans-serif' font-size="28.50" font-weight="normal" text-anchor="start" fill="#111">c)</text>
<defs>
<radialGradient id="goldG" cx="0.4" cy="0.35" r="0.65"><stop offset="0" stop-color="#fff4a0"/><stop offset="0.35" stop-color="#f4c400"/><stop offset="1" stop-color="#b07800"/></radialGradient>
<radialGradient id="grnG" cx="0.5" cy="0.5" r="0.5"><stop offset="0" stop-color="#f4faf0"/><stop offset="1" stop-color="#c4dca0"/></radialGradient>
<linearGradient id="petalG" x1="0" y1="0" x2="1" y2="0"><stop offset="0" stop-color="#f4a07c"/><stop offset="0.5" stop-color="#f27c4c"/><stop offset="1" stop-color="#f4a07c"/></linearGradient>
<linearGradient id="sepG" x1="0" y1="0" x2="1" y2="0"><stop offset="0" stop-color="#b4a08a"/><stop offset="0.5" stop-color="#d0c0aa"/><stop offset="1" stop-color="#b4a08a"/></linearGradient>
<pattern id="elecTex" width="46" height="38" patternUnits="userSpaceOnUse">
<rect width="46" height="38" fill="#e6f2f6"/>
<ellipse cx="10" cy="9" rx="8" ry="5" fill="#eaf4f7" opacity="0.6"/>
<ellipse cx="32" cy="26" rx="9" ry="6" fill="#dcecf1" opacity="0.45"/>
<ellipse cx="36" cy="6" rx="5" ry="3" fill="#dcecf1" opacity="0.35"/>
<ellipse cx="12" cy="30" rx="6" ry="4" fill="#eaf5f8" opacity="0.5"/>
</pattern>
</defs>
<rect x="565.5" y="450" width="75.5" height="361" fill="#f7cfb8"/>
<path d="M565.5,462 L641,510 L641,545 L565.5,497 Z" fill="#f9d8c4" opacity="0.6"/>
<path d="M565.5,450 L590,450 L565.5,470 Z" fill="#eec4ac" opacity="0.6"/>
<rect x="641" y="450" width="146.5" height="361" fill="url(#elecTex)"/>
<rect x="801.5" y="450" width="130" height="361" fill="url(#elecTex)"/>
<rect x="931" y="450" width="38" height="361" fill="#c4ddb2"/>
<rect x="787.3" y="450" width="14.4" height="361" fill="url(#sepG)"/>
<path d="M791.9,452 l-2.8,6.3 M793.8,456.4 l-1.1,3.3 M789.3,462.9 l-0.5,3.3 M792.8,467.4 l2.6,3.6 M794.6,472.5 l3.6,5.9 M797.8,478.5 l-3.6,7.3 M790.3,483.9 l-3.1,4.5 M790.6,492 l0.7,6.2 M793.9,497.8 l-3.5,3.3 M795.1,502.9 l-0.6,4.6 M793.1,509.8 l-1.6,7 M791.2,517.3 l0.6,5.6 M795.6,525.7 l-1.7,7.9 M792.8,530.3 l2.1,3.8 M789.4,536.7 l1.3,6.8 M796.9,543.6 l-1.5,6.5 M794.2,550.5 l-0.4,7.2 M793.3,559.3 l1.3,3.3 M794.8,566.8 l3.9,7.1 M792.5,572.2 l1.3,3.1 M790.5,578.5 l-3.1,3.3 M790.2,586.3 l-2,5 M789.7,594.7 l-0.4,5.7 M796.4,603.1 l2.9,4.4 M792.2,609.2 l3.1,7.8 M790.6,614 l-2.1,4.2 M794.3,620.4 l-1.9,3 M792.3,626.5 l0.5,7.8 M793.6,633.9 l0.9,6.4 M797.1,638.2 l2.2,7.4 M792.5,646.2 l-0.8,3.5 M789.6,653.4 l-3.5,4 M792.1,658.2 l-3.6,3 M789.9,662.9 l-1.1,3.1 M794.5,671.3 l-2.8,4.3 M792.3,677 l-3,7.2 M793.2,686 l-0.1,3.4 M792.1,690.5 l-1.9,7.1 M789.2,695.3 l3.6,5.6 M793.9,700 l-3.8,5.6 M796.8,708.9 l1.6,4.3 M790.5,714.8 l2.2,5.7 M792,722.7 l-2.2,7.1 M796.7,731.6 l2.4,7.1 M791,739.3 l0.1,4.8 M789.3,743.4 l-1.8,4.3 M797.6,750.9 l-0.4,7.7 M797.6,759.8 l-1.1,4.1 M790.8,765 l-2.4,6.1 M796.6,773.5 l-0.2,6.3 M789.8,781.5 l1.3,7.5 M795.8,789.4 l-0.2,3.9 M792,797.3 l2.4,7.9 M792.6,803.3 l3.6,6.6" stroke="#8c7862" stroke-width="1.1" fill="none" opacity="0.8"/>
<line x1="788" y1="450" x2="788" y2="811" stroke="#6e5c4c" stroke-width="1.4" stroke-dasharray="3 2"/>
<line x1="801" y1="450" x2="801" y2="811" stroke="#6e5c4c" stroke-width="1.4" stroke-dasharray="3 2"/>
<path d="M634.3,461 L632.8,463.5 L629.9,463.5 L628.5,461 L629.9,458.5 L632.8,458.5Z M637.9,463.5 L636.4,466 L633.5,466 L632.1,463.5 L633.5,461 L636.4,461Z M632.7,466 L631.3,468.5 L628.4,468.5 L626.9,466 L628.4,463.5 L631.3,463.5Z M636.3,468.5 L634.8,471 L631.9,471 L630.5,468.5 L631.9,466 L634.8,466Z M631.2,471 L629.7,473.6 L626.8,473.6 L625.4,471 L626.8,468.5 L629.7,468.5Z M629.6,476.1 L628.2,478.6 L625.3,478.6 L623.8,476.1 L625.3,473.6 L628.2,473.6Z M633.2,478.6 L631.7,481.1 L628.8,481.1 L627.4,478.6 L628.8,476.1 L631.7,476.1Z M628.1,481.1 L626.6,483.6 L623.7,483.6 L622.3,481.1 L623.7,478.6 L626.6,478.6Z M631.6,483.6 L630.2,486.1 L627.3,486.1 L625.8,483.6 L627.3,481.1 L630.2,481.1Z M626.5,486.1 L625,488.6 L622.1,488.6 L620.7,486.1 L622.1,483.6 L625,483.6Z M624.9,491.1 L623.5,493.6 L620.6,493.6 L619.1,491.1 L620.6,488.6 L623.5,488.6Z M628.5,493.6 L627.1,496.2 L624.2,496.2 L622.7,493.6 L624.2,491.1 L627.1,491.1Z M623.4,496.2 L621.9,498.7 L619,498.7 L617.6,496.2 L619,493.6 L621.9,493.6Z M627,498.7 L625.5,501.2 L622.6,501.2 L621.2,498.7 L622.6,496.2 L625.5,496.2Z M621.8,501.2 L620.4,503.7 L617.5,503.7 L616,501.2 L617.5,498.7 L620.4,498.7Z M620.3,506.2 L618.8,508.7 L615.9,508.7 L614.5,506.2 L615.9,503.7 L618.8,503.7Z M623.8,508.7 L622.4,511.2 L619.5,511.2 L618,508.7 L619.5,506.2 L622.4,506.2Z M618.7,511.2 L617.3,513.7 L614.4,513.7 L612.9,511.2 L614.4,508.7 L617.3,508.7Z M622.3,513.7 L620.8,516.3 L617.9,516.3 L616.5,513.7 L617.9,511.2 L620.8,511.2Z M617.2,516.3 L615.7,518.8 L612.8,518.8 L611.4,516.3 L612.8,513.7 L615.7,513.7Z M615.6,521.3 L614.1,523.8 L611.2,523.8 L609.8,521.3 L611.2,518.8 L614.1,518.8Z M619.2,523.8 L617.7,526.3 L614.8,526.3 L613.4,523.8 L614.8,521.3 L617.7,521.3Z M614,526.3 L612.6,528.8 L609.7,528.8 L608.2,526.3 L609.7,523.8 L612.6,523.8Z M617.6,528.8 L616.2,531.3 L613.3,531.3 L611.8,528.8 L613.3,526.3 L616.2,526.3Z M612.5,531.3 L611,533.8 L608.1,533.8 L606.7,531.3 L608.1,528.8 L611,528.8Z M610.9,536.3 L609.5,538.9 L606.6,538.9 L605.1,536.3 L606.6,533.8 L609.5,533.8Z M614.5,538.9 L613,541.4 L610.1,541.4 L608.7,538.9 L610.1,536.3 L613,536.3Z M609.4,541.4 L607.9,543.9 L605,543.9 L603.6,541.4 L605,538.9 L607.9,538.9Z M647.3,461 L645.8,463.5 L642.9,463.5 L641.5,461 L642.9,458.5 L645.8,458.5Z M650.9,463.5 L649.4,466 L646.5,466 L645.1,463.5 L646.5,461 L649.4,461Z M645.7,466 L644.3,468.5 L641.4,468.5 L639.9,466 L641.4,463.5 L644.3,463.5Z M649.3,468.5 L647.8,471 L644.9,471 L643.5,468.5 L644.9,466 L647.8,466Z M644.2,471 L642.7,473.6 L639.8,473.6 L638.4,471 L639.8,468.5 L642.7,468.5Z M642.6,476.1 L641.2,478.6 L638.3,478.6 L636.8,476.1 L638.3,473.6 L641.2,473.6Z M646.2,478.6 L644.7,481.1 L641.8,481.1 L640.4,478.6 L641.8,476.1 L644.7,476.1Z M641.1,481.1 L639.6,483.6 L636.7,483.6 L635.3,481.1 L636.7,478.6 L639.6,478.6Z M644.6,483.6 L643.2,486.1 L640.3,486.1 L638.8,483.6 L640.3,481.1 L643.2,481.1Z M639.5,486.1 L638,488.6 L635.1,488.6 L633.7,486.1 L635.1,483.6 L638,483.6Z M637.9,491.1 L636.5,493.6 L633.6,493.6 L632.1,491.1 L633.6,488.6 L636.5,488.6Z M641.5,493.6 L640.1,496.2 L637.2,496.2 L635.7,493.6 L637.2,491.1 L640.1,491.1Z M636.4,496.2 L634.9,498.7 L632,498.7 L630.6,496.2 L632,493.6 L634.9,493.6Z M640,498.7 L638.5,501.2 L635.6,501.2 L634.2,498.7 L635.6,496.2 L638.5,496.2Z M634.8,501.2 L633.4,503.7 L630.5,503.7 L629,501.2 L630.5,498.7 L633.4,498.7Z M633.3,506.2 L631.8,508.7 L628.9,508.7 L627.5,506.2 L628.9,503.7 L631.8,503.7Z M636.8,508.7 L635.4,511.2 L632.5,511.2 L631,508.7 L632.5,506.2 L635.4,506.2Z M631.7,511.2 L630.3,513.7 L627.4,513.7 L625.9,511.2 L627.4,508.7 L630.3,508.7Z M635.3,513.7 L633.8,516.3 L630.9,516.3 L629.5,513.7 L630.9,511.2 L633.8,511.2Z M630.2,516.3 L628.7,518.8 L625.8,518.8 L624.4,516.3 L625.8,513.7 L628.7,513.7Z M628.6,521.3 L627.1,523.8 L624.2,523.8 L622.8,521.3 L624.2,518.8 L627.1,518.8Z M632.2,523.8 L630.7,526.3 L627.8,526.3 L626.4,523.8 L627.8,521.3 L630.7,521.3Z M627,526.3 L625.6,528.8 L622.7,528.8 L621.2,526.3 L622.7,523.8 L625.6,523.8Z M630.6,528.8 L629.2,531.3 L626.3,531.3 L624.8,528.8 L626.3,526.3 L629.2,526.3Z M625.5,531.3 L624,533.8 L621.1,533.8 L619.7,531.3 L621.1,528.8 L624,528.8Z M623.9,536.3 L622.5,538.9 L619.6,538.9 L618.1,536.3 L619.6,533.8 L622.5,533.8Z M627.5,538.9 L626,541.4 L623.1,541.4 L621.7,538.9 L623.1,536.3 L626,536.3Z M622.4,541.4 L620.9,543.9 L618,543.9 L616.6,541.4 L618,538.9 L620.9,538.9Z M660.3,461 L658.8,463.5 L655.9,463.5 L654.5,461 L655.9,458.5 L658.8,458.5Z M663.9,463.5 L662.4,466 L659.5,466 L658.1,463.5 L659.5,461 L662.4,461Z M658.7,466 L657.3,468.5 L654.4,468.5 L652.9,466 L654.4,463.5 L657.3,463.5Z M662.3,468.5 L660.8,471 L657.9,471 L656.5,468.5 L657.9,466 L660.8,466Z M657.2,471 L655.7,473.6 L652.8,473.6 L651.4,471 L652.8,468.5 L655.7,468.5Z M655.6,476.1 L654.2,478.6 L651.3,478.6 L649.8,476.1 L651.3,473.6 L654.2,473.6Z M659.2,478.6 L657.7,481.1 L654.8,481.1 L653.4,478.6 L654.8,476.1 L657.7,476.1Z M654.1,481.1 L652.6,483.6 L649.7,483.6 L648.3,481.1 L649.7,478.6 L652.6,478.6Z M657.6,483.6 L656.2,486.1 L653.3,486.1 L651.8,483.6 L653.3,481.1 L656.2,481.1Z M652.5,486.1 L651,488.6 L648.1,488.6 L646.7,486.1 L648.1,483.6 L651,483.6Z M650.9,491.1 L649.5,493.6 L646.6,493.6 L645.1,491.1 L646.6,488.6 L649.5,488.6Z M654.5,493.6 L653.1,496.2 L650.2,496.2 L648.7,493.6 L650.2,491.1 L653.1,491.1Z M649.4,496.2 L647.9,498.7 L645,498.7 L643.6,496.2 L645,493.6 L647.9,493.6Z M653,498.7 L651.5,501.2 L648.6,501.2 L647.2,498.7 L648.6,496.2 L651.5,496.2Z M647.8,501.2 L646.4,503.7 L643.5,503.7 L642,501.2 L643.5,498.7 L646.4,498.7Z M646.3,506.2 L644.8,508.7 L641.9,508.7 L640.5,506.2 L641.9,503.7 L644.8,503.7Z M649.8,508.7 L648.4,511.2 L645.5,511.2 L644,508.7 L645.5,506.2 L648.4,506.2Z M644.7,511.2 L643.3,513.7 L640.4,513.7 L638.9,511.2 L640.4,508.7 L643.3,508.7Z M648.3,513.7 L646.8,516.3 L643.9,516.3 L642.5,513.7 L643.9,511.2 L646.8,511.2Z M643.2,516.3 L641.7,518.8 L638.8,518.8 L637.4,516.3 L638.8,513.7 L641.7,513.7Z M641.6,521.3 L640.1,523.8 L637.2,523.8 L635.8,521.3 L637.2,518.8 L640.1,518.8Z M645.2,523.8 L643.7,526.3 L640.8,526.3 L639.4,523.8 L640.8,521.3 L643.7,521.3Z M640,526.3 L638.6,528.8 L635.7,528.8 L634.2,526.3 L635.7,523.8 L638.6,523.8Z M643.6,528.8 L642.2,531.3 L639.3,531.3 L637.8,528.8 L639.3,526.3 L642.2,526.3Z M638.5,531.3 L637,533.8 L634.1,533.8 L632.7,531.3 L634.1,528.8 L637,528.8Z M636.9,536.3 L635.5,538.9 L632.6,538.9 L631.1,536.3 L632.6,533.8 L635.5,533.8Z M640.5,538.9 L639,541.4 L636.1,541.4 L634.7,538.9 L636.1,536.3 L639,536.3Z M635.4,541.4 L633.9,543.9 L631,543.9 L629.6,541.4 L631,538.9 L633.9,538.9Z M673.3,461 L671.8,463.5 L668.9,463.5 L667.5,461 L668.9,458.5 L671.8,458.5Z M676.9,463.5 L675.4,466 L672.5,466 L671.1,463.5 L672.5,461 L675.4,461Z M671.7,466 L670.3,468.5 L667.4,468.5 L665.9,466 L667.4,463.5 L670.3,463.5Z M675.3,468.5 L673.8,471 L670.9,471 L669.5,468.5 L670.9,466 L673.8,466Z M670.2,471 L668.7,473.6 L665.8,473.6 L664.4,471 L665.8,468.5 L668.7,468.5Z M668.6,476.1 L667.2,478.6 L664.3,478.6 L662.8,476.1 L664.3,473.6 L667.2,473.6Z M672.2,478.6 L670.7,481.1 L667.8,481.1 L666.4,478.6 L667.8,476.1 L670.7,476.1Z M667.1,481.1 L665.6,483.6 L662.7,483.6 L661.3,481.1 L662.7,478.6 L665.6,478.6Z M670.6,483.6 L669.2,486.1 L666.3,486.1 L664.8,483.6 L666.3,481.1 L669.2,481.1Z M665.5,486.1 L664,488.6 L661.1,488.6 L659.7,486.1 L661.1,483.6 L664,483.6Z M663.9,491.1 L662.5,493.6 L659.6,493.6 L658.1,491.1 L659.6,488.6 L662.5,488.6Z M667.5,493.6 L666.1,496.2 L663.2,496.2 L661.7,493.6 L663.2,491.1 L666.1,491.1Z M662.4,496.2 L660.9,498.7 L658,498.7 L656.6,496.2 L658,493.6 L660.9,493.6Z M666,498.7 L664.5,501.2 L661.6,501.2 L660.2,498.7 L661.6,496.2 L664.5,496.2Z M660.8,501.2 L659.4,503.7 L656.5,503.7 L655,501.2 L656.5,498.7 L659.4,498.7Z M659.3,506.2 L657.8,508.7 L654.9,508.7 L653.5,506.2 L654.9,503.7 L657.8,503.7Z M662.8,508.7 L661.4,511.2 L658.5,511.2 L657,508.7 L658.5,506.2 L661.4,506.2Z M657.7,511.2 L656.3,513.7 L653.4,513.7 L651.9,511.2 L653.4,508.7 L656.3,508.7Z M661.3,513.7 L659.8,516.3 L656.9,516.3 L655.5,513.7 L656.9,511.2 L659.8,511.2Z M656.2,516.3 L654.7,518.8 L651.8,518.8 L650.4,516.3 L651.8,513.7 L654.7,513.7Z M654.6,521.3 L653.1,523.8 L650.2,523.8 L648.8,521.3 L650.2,518.8 L653.1,518.8Z M658.2,523.8 L656.7,526.3 L653.8,526.3 L652.4,523.8 L653.8,521.3 L656.7,521.3Z M653,526.3 L651.6,528.8 L648.7,528.8 L647.2,526.3 L648.7,523.8 L651.6,523.8Z M656.6,528.8 L655.2,531.3 L652.3,531.3 L650.8,528.8 L652.3,526.3 L655.2,526.3Z M651.5,531.3 L650,533.8 L647.1,533.8 L645.7,531.3 L647.1,528.8 L650,528.8Z M649.9,536.3 L648.5,538.9 L645.6,538.9 L644.1,536.3 L645.6,533.8 L648.5,533.8Z M653.5,538.9 L652,541.4 L649.1,541.4 L647.7,538.9 L649.1,536.3 L652,536.3Z M648.4,541.4 L646.9,543.9 L644,543.9 L642.6,541.4 L644,538.9 L646.9,538.9Z M606.4,550 L605,552.5 L602.1,552.5 L600.6,550 L602.1,547.5 L605,547.5Z M611.5,552.5 L610,555 L607.1,555 L605.7,552.5 L607.1,550 L610,550Z M607.8,555 L606.3,557.5 L603.4,557.5 L602,555 L603.4,552.5 L606.3,552.5Z M612.8,557.5 L611.4,560 L608.5,560 L607,557.5 L608.5,555 L611.4,555Z M609.1,560 L607.7,562.6 L604.8,562.6 L603.3,560 L604.8,557.5 L607.7,557.5Z M610.5,565.1 L609,567.6 L606.1,567.6 L604.7,565.1 L606.1,562.6 L609,562.6Z M615.5,567.6 L614.1,570.1 L611.2,570.1 L609.7,567.6 L611.2,565.1 L614.1,565.1Z M611.8,570.1 L610.4,572.6 L607.5,572.6 L606,570.1 L607.5,567.6 L610.4,567.6Z M616.9,572.6 L615.4,575.1 L612.5,575.1 L611.1,572.6 L612.5,570.1 L615.4,570.1Z M613.2,575.1 L611.8,577.6 L608.9,577.6 L607.4,575.1 L608.9,572.6 L611.8,572.6Z M614.6,580.1 L613.1,582.6 L610.2,582.6 L608.8,580.1 L610.2,577.6 L613.1,577.6Z M619.6,582.6 L618.1,585.2 L615.2,585.2 L613.8,582.6 L615.2,580.1 L618.1,580.1Z M615.9,585.2 L614.5,587.7 L611.6,587.7 L610.1,585.2 L611.6,582.6 L614.5,582.6Z M620.9,587.7 L619.5,590.2 L616.6,590.2 L615.1,587.7 L616.6,585.2 L619.5,585.2Z M617.3,590.2 L615.8,592.7 L612.9,592.7 L611.5,590.2 L612.9,587.7 L615.8,587.7Z M618.6,595.2 L617.2,597.7 L614.3,597.7 L612.8,595.2 L614.3,592.7 L617.2,592.7Z M623.6,597.7 L622.2,600.2 L619.3,600.2 L617.8,597.7 L619.3,595.2 L622.2,595.2Z M619.9,600.2 L618.4,602.7 L615.5,602.7 L614.1,600.2 L615.5,597.7 L618.4,597.7Z M623.9,602.7 L622.5,605.3 L619.6,605.3 L618.1,602.7 L619.6,600.2 L622.5,600.2Z M619.3,605.3 L617.8,607.8 L614.9,607.8 L613.5,605.3 L614.9,602.7 L617.8,602.7Z M618.7,610.3 L617.2,612.8 L614.3,612.8 L612.9,610.3 L614.3,607.8 L617.2,607.8Z M622.7,612.8 L621.3,615.3 L618.4,615.3 L616.9,612.8 L618.4,610.3 L621.3,610.3Z M618.1,615.3 L616.6,617.8 L613.7,617.8 L612.3,615.3 L613.7,612.8 L616.6,612.8Z M622.1,617.8 L620.7,620.3 L617.8,620.3 L616.3,617.8 L617.8,615.3 L620.7,615.3Z M617.5,620.3 L616,622.8 L613.1,622.8 L611.7,620.3 L613.1,617.8 L616,617.8Z M616.9,625.3 L615.4,627.9 L612.5,627.9 L611.1,625.3 L612.5,622.8 L615.4,622.8Z M620.9,627.9 L619.5,630.4 L616.6,630.4 L615.1,627.9 L616.6,625.3 L619.5,625.3Z M616.3,630.4 L614.8,632.9 L611.9,632.9 L610.5,630.4 L611.9,627.9 L614.8,627.9Z M620.3,632.9 L618.9,635.4 L616,635.4 L614.5,632.9 L616,630.4 L618.9,630.4Z M615.7,635.4 L614.3,637.9 L611.4,637.9 L609.9,635.4 L611.4,632.9 L614.3,632.9Z M615.1,640.4 L613.7,642.9 L610.8,642.9 L609.3,640.4 L610.8,637.9 L613.7,637.9Z M619.2,642.9 L617.7,645.4 L614.8,645.4 L613.4,642.9 L614.8,640.4 L617.7,640.4Z M614.5,645.4 L613.1,647.9 L610.2,647.9 L608.7,645.4 L610.2,642.9 L613.1,642.9Z M618.6,647.9 L617.1,650.5 L614.2,650.5 L612.8,647.9 L614.2,645.4 L617.1,645.4Z M613.9,650.5 L612.5,653 L609.6,653 L608.1,650.5 L609.6,647.9 L612.5,647.9Z M613.3,655.5 L611.9,658 L609,658 L607.5,655.5 L609,653 L611.9,653Z M617.4,658 L615.9,660.5 L613,660.5 L611.6,658 L613,655.5 L615.9,655.5Z M612.7,660.5 L611.3,663 L608.4,663 L606.9,660.5 L608.4,658 L611.3,658Z M616.8,663 L615.3,665.5 L612.4,665.5 L611,663 L612.4,660.5 L615.3,660.5Z M612.1,665.5 L610.7,668 L607.8,668 L606.3,665.5 L607.8,663 L610.7,663Z M611.5,670.6 L610.1,673.1 L607.2,673.1 L605.7,670.6 L607.2,668 L610.1,668Z M615.6,673.1 L614.1,675.6 L611.2,675.6 L609.8,673.1 L611.2,670.6 L614.1,670.6Z M610.9,675.6 L609.5,678.1 L606.6,678.1 L605.1,675.6 L606.6,673.1 L609.5,673.1Z M615,678.1 L613.5,680.6 L610.6,680.6 L609.2,678.1 L610.6,675.6 L613.5,675.6Z M610.3,680.6 L608.9,683.1 L606,683.1 L604.5,680.6 L606,678.1 L608.9,678.1Z M609.7,685.6 L608.3,688.1 L605.4,688.1 L603.9,685.6 L605.4,683.1 L608.3,683.1Z M613.8,688.1 L612.3,690.6 L609.4,690.6 L608,688.1 L609.4,685.6 L612.3,685.6Z M609.1,690.6 L607.7,693.2 L604.8,693.2 L603.3,690.6 L604.8,688.1 L607.7,688.1Z M613.2,693.2 L611.7,695.7 L608.8,695.7 L607.4,693.2 L608.8,690.6 L611.7,690.6Z M608.5,695.7 L607.1,698.2 L604.2,698.2 L602.7,695.7 L604.2,693.2 L607.1,693.2Z M608,700.7 L606.5,703.2 L603.6,703.2 L602.2,700.7 L603.6,698.2 L606.5,698.2Z M612,703.2 L610.6,705.7 L607.7,705.7 L606.2,703.2 L607.7,700.7 L610.6,700.7Z M607.4,705.7 L605.9,708.2 L603,708.2 L601.6,705.7 L603,703.2 L605.9,703.2Z M611.4,708.2 L610,710.7 L607.1,710.7 L605.6,708.2 L607.1,705.7 L610,705.7Z M606.8,710.7 L605.3,713.2 L602.4,713.2 L601,710.7 L602.4,708.2 L605.3,708.2Z M606.2,715.8 L604.7,718.3 L601.8,718.3 L600.4,715.8 L601.8,713.2 L604.7,713.2Z M619.4,550 L618,552.5 L615.1,552.5 L613.6,550 L615.1,547.5 L618,547.5Z M624.5,552.5 L623,555 L620.1,555 L618.7,552.5 L620.1,550 L623,550Z M620.8,555 L619.3,557.5 L616.4,557.5 L615,555 L616.4,552.5 L619.3,552.5Z M625.8,557.5 L624.4,560 L621.5,560 L620,557.5 L621.5,555 L624.4,555Z M622.1,560 L620.7,562.6 L617.8,562.6 L616.3,560 L617.8,557.5 L620.7,557.5Z M623.5,565.1 L622,567.6 L619.1,567.6 L617.7,565.1 L619.1,562.6 L622,562.6Z M628.5,567.6 L627.1,570.1 L624.2,570.1 L622.7,567.6 L624.2,565.1 L627.1,565.1Z M624.8,570.1 L623.4,572.6 L620.5,572.6 L619,570.1 L620.5,567.6 L623.4,567.6Z M629.9,572.6 L628.4,575.1 L625.5,575.1 L624.1,572.6 L625.5,570.1 L628.4,570.1Z M626.2,575.1 L624.8,577.6 L621.9,577.6 L620.4,575.1 L621.9,572.6 L624.8,572.6Z M627.6,580.1 L626.1,582.6 L623.2,582.6 L621.8,580.1 L623.2,577.6 L626.1,577.6Z M632.6,582.6 L631.1,585.2 L628.2,585.2 L626.8,582.6 L628.2,580.1 L631.1,580.1Z M628.9,585.2 L627.5,587.7 L624.6,587.7 L623.1,585.2 L624.6,582.6 L627.5,582.6Z M633.9,587.7 L632.5,590.2 L629.6,590.2 L628.1,587.7 L629.6,585.2 L632.5,585.2Z M630.3,590.2 L628.8,592.7 L625.9,592.7 L624.5,590.2 L625.9,587.7 L628.8,587.7Z M631.6,595.2 L630.2,597.7 L627.3,597.7 L625.8,595.2 L627.3,592.7 L630.2,592.7Z M636.6,597.7 L635.2,600.2 L632.3,600.2 L630.8,597.7 L632.3,595.2 L635.2,595.2Z M632.9,600.2 L631.4,602.7 L628.5,602.7 L627.1,600.2 L628.5,597.7 L631.4,597.7Z M636.9,602.7 L635.5,605.3 L632.6,605.3 L631.1,602.7 L632.6,600.2 L635.5,600.2Z M632.3,605.3 L630.8,607.8 L627.9,607.8 L626.5,605.3 L627.9,602.7 L630.8,602.7Z M631.7,610.3 L630.2,612.8 L627.3,612.8 L625.9,610.3 L627.3,607.8 L630.2,607.8Z M635.7,612.8 L634.3,615.3 L631.4,615.3 L629.9,612.8 L631.4,610.3 L634.3,610.3Z M631.1,615.3 L629.6,617.8 L626.7,617.8 L625.3,615.3 L626.7,612.8 L629.6,612.8Z M635.1,617.8 L633.7,620.3 L630.8,620.3 L629.3,617.8 L630.8,615.3 L633.7,615.3Z M630.5,620.3 L629,622.8 L626.1,622.8 L624.7,620.3 L626.1,617.8 L629,617.8Z M629.9,625.3 L628.4,627.9 L625.5,627.9 L624.1,625.3 L625.5,622.8 L628.4,622.8Z M633.9,627.9 L632.5,630.4 L629.6,630.4 L628.1,627.9 L629.6,625.3 L632.5,625.3Z M629.3,630.4 L627.8,632.9 L624.9,632.9 L623.5,630.4 L624.9,627.9 L627.8,627.9Z M633.3,632.9 L631.9,635.4 L629,635.4 L627.5,632.9 L629,630.4 L631.9,630.4Z M628.7,635.4 L627.3,637.9 L624.4,637.9 L622.9,635.4 L624.4,632.9 L627.3,632.9Z M628.1,640.4 L626.7,642.9 L623.8,642.9 L622.3,640.4 L623.8,637.9 L626.7,637.9Z M632.2,642.9 L630.7,645.4 L627.8,645.4 L626.4,642.9 L627.8,640.4 L630.7,640.4Z M627.5,645.4 L626.1,647.9 L623.2,647.9 L621.7,645.4 L623.2,642.9 L626.1,642.9Z M631.6,647.9 L630.1,650.5 L627.2,650.5 L625.8,647.9 L627.2,645.4 L630.1,645.4Z M626.9,650.5 L625.5,653 L622.6,653 L621.1,650.5 L622.6,647.9 L625.5,647.9Z M626.3,655.5 L624.9,658 L622,658 L620.5,655.5 L622,653 L624.9,653Z M630.4,658 L628.9,660.5 L626,660.5 L624.6,658 L626,655.5 L628.9,655.5Z M625.7,660.5 L624.3,663 L621.4,663 L619.9,660.5 L621.4,658 L624.3,658Z M629.8,663 L628.3,665.5 L625.4,665.5 L624,663 L625.4,660.5 L628.3,660.5Z M625.1,665.5 L623.7,668 L620.8,668 L619.3,665.5 L620.8,663 L623.7,663Z M624.5,670.6 L623.1,673.1 L620.2,673.1 L618.7,670.6 L620.2,668 L623.1,668Z M628.6,673.1 L627.1,675.6 L624.2,675.6 L622.8,673.1 L624.2,670.6 L627.1,670.6Z M623.9,675.6 L622.5,678.1 L619.6,678.1 L618.1,675.6 L619.6,673.1 L622.5,673.1Z M628,678.1 L626.5,680.6 L623.6,680.6 L622.2,678.1 L623.6,675.6 L626.5,675.6Z M623.3,680.6 L621.9,683.1 L619,683.1 L617.5,680.6 L619,678.1 L621.9,678.1Z M622.7,685.6 L621.3,688.1 L618.4,688.1 L616.9,685.6 L618.4,683.1 L621.3,683.1Z M626.8,688.1 L625.3,690.6 L622.4,690.6 L621,688.1 L622.4,685.6 L625.3,685.6Z M622.1,690.6 L620.7,693.2 L617.8,693.2 L616.3,690.6 L617.8,688.1 L620.7,688.1Z M626.2,693.2 L624.7,695.7 L621.8,695.7 L620.4,693.2 L621.8,690.6 L624.7,690.6Z M621.5,695.7 L620.1,698.2 L617.2,698.2 L615.7,695.7 L617.2,693.2 L620.1,693.2Z M621,700.7 L619.5,703.2 L616.6,703.2 L615.2,700.7 L616.6,698.2 L619.5,698.2Z M625,703.2 L623.6,705.7 L620.7,705.7 L619.2,703.2 L620.7,700.7 L623.6,700.7Z M620.4,705.7 L618.9,708.2 L616,708.2 L614.6,705.7 L616,703.2 L618.9,703.2Z M624.4,708.2 L623,710.7 L620.1,710.7 L618.6,708.2 L620.1,705.7 L623,705.7Z M619.8,710.7 L618.3,713.2 L615.4,713.2 L614,710.7 L615.4,708.2 L618.3,708.2Z M619.2,715.8 L617.7,718.3 L614.8,718.3 L613.4,715.8 L614.8,713.2 L617.7,713.2Z M632.4,550 L631,552.5 L628.1,552.5 L626.6,550 L628.1,547.5 L631,547.5Z M637.5,552.5 L636,555 L633.1,555 L631.7,552.5 L633.1,550 L636,550Z M633.8,555 L632.3,557.5 L629.4,557.5 L628,555 L629.4,552.5 L632.3,552.5Z M638.8,557.5 L637.4,560 L634.5,560 L633,557.5 L634.5,555 L637.4,555Z M635.1,560 L633.7,562.6 L630.8,562.6 L629.3,560 L630.8,557.5 L633.7,557.5Z M636.5,565.1 L635,567.6 L632.1,567.6 L630.7,565.1 L632.1,562.6 L635,562.6Z M641.5,567.6 L640.1,570.1 L637.2,570.1 L635.7,567.6 L637.2,565.1 L640.1,565.1Z M637.8,570.1 L636.4,572.6 L633.5,572.6 L632,570.1 L633.5,567.6 L636.4,567.6Z M642.9,572.6 L641.4,575.1 L638.5,575.1 L637.1,572.6 L638.5,570.1 L641.4,570.1Z M639.2,575.1 L637.8,577.6 L634.9,577.6 L633.4,575.1 L634.9,572.6 L637.8,572.6Z M640.6,580.1 L639.1,582.6 L636.2,582.6 L634.8,580.1 L636.2,577.6 L639.1,577.6Z M645.6,582.6 L644.1,585.2 L641.2,585.2 L639.8,582.6 L641.2,580.1 L644.1,580.1Z M641.9,585.2 L640.5,587.7 L637.6,587.7 L636.1,585.2 L637.6,582.6 L640.5,582.6Z M646.9,587.7 L645.5,590.2 L642.6,590.2 L641.1,587.7 L642.6,585.2 L645.5,585.2Z M643.3,590.2 L641.8,592.7 L638.9,592.7 L637.5,590.2 L638.9,587.7 L641.8,587.7Z M644.6,595.2 L643.2,597.7 L640.3,597.7 L638.8,595.2 L640.3,592.7 L643.2,592.7Z M649.6,597.7 L648.2,600.2 L645.3,600.2 L643.8,597.7 L645.3,595.2 L648.2,595.2Z M645.9,600.2 L644.4,602.7 L641.5,602.7 L640.1,600.2 L641.5,597.7 L644.4,597.7Z M649.9,602.7 L648.5,605.3 L645.6,605.3 L644.1,602.7 L645.6,600.2 L648.5,600.2Z M645.3,605.3 L643.8,607.8 L640.9,607.8 L639.5,605.3 L640.9,602.7 L643.8,602.7Z M644.7,610.3 L643.2,612.8 L640.3,612.8 L638.9,610.3 L640.3,607.8 L643.2,607.8Z M648.7,612.8 L647.3,615.3 L644.4,615.3 L642.9,612.8 L644.4,610.3 L647.3,610.3Z M644.1,615.3 L642.6,617.8 L639.7,617.8 L638.3,615.3 L639.7,612.8 L642.6,612.8Z M648.1,617.8 L646.7,620.3 L643.8,620.3 L642.3,617.8 L643.8,615.3 L646.7,615.3Z M643.5,620.3 L642,622.8 L639.1,622.8 L637.7,620.3 L639.1,617.8 L642,617.8Z M642.9,625.3 L641.4,627.9 L638.5,627.9 L637.1,625.3 L638.5,622.8 L641.4,622.8Z M646.9,627.9 L645.5,630.4 L642.6,630.4 L641.1,627.9 L642.6,625.3 L645.5,625.3Z M642.3,630.4 L640.8,632.9 L637.9,632.9 L636.5,630.4 L637.9,627.9 L640.8,627.9Z M646.3,632.9 L644.9,635.4 L642,635.4 L640.5,632.9 L642,630.4 L644.9,630.4Z M641.7,635.4 L640.3,637.9 L637.4,637.9 L635.9,635.4 L637.4,632.9 L640.3,632.9Z M641.1,640.4 L639.7,642.9 L636.8,642.9 L635.3,640.4 L636.8,637.9 L639.7,637.9Z M645.2,642.9 L643.7,645.4 L640.8,645.4 L639.4,642.9 L640.8,640.4 L643.7,640.4Z M640.5,645.4 L639.1,647.9 L636.2,647.9 L634.7,645.4 L636.2,642.9 L639.1,642.9Z M644.6,647.9 L643.1,650.5 L640.2,650.5 L638.8,647.9 L640.2,645.4 L643.1,645.4Z M639.9,650.5 L638.5,653 L635.6,653 L634.1,650.5 L635.6,647.9 L638.5,647.9Z M639.3,655.5 L637.9,658 L635,658 L633.5,655.5 L635,653 L637.9,653Z M643.4,658 L641.9,660.5 L639,660.5 L637.6,658 L639,655.5 L641.9,655.5Z M638.7,660.5 L637.3,663 L634.4,663 L632.9,660.5 L634.4,658 L637.3,658Z M642.8,663 L641.3,665.5 L638.4,665.5 L637,663 L638.4,660.5 L641.3,660.5Z M638.1,665.5 L636.7,668 L633.8,668 L632.3,665.5 L633.8,663 L636.7,663Z M637.5,670.6 L636.1,673.1 L633.2,673.1 L631.7,670.6 L633.2,668 L636.1,668Z M641.6,673.1 L640.1,675.6 L637.2,675.6 L635.8,673.1 L637.2,670.6 L640.1,670.6Z M636.9,675.6 L635.5,678.1 L632.6,678.1 L631.1,675.6 L632.6,673.1 L635.5,673.1Z M641,678.1 L639.5,680.6 L636.6,680.6 L635.2,678.1 L636.6,675.6 L639.5,675.6Z M636.3,680.6 L634.9,683.1 L632,683.1 L630.5,680.6 L632,678.1 L634.9,678.1Z M635.7,685.6 L634.3,688.1 L631.4,688.1 L629.9,685.6 L631.4,683.1 L634.3,683.1Z M639.8,688.1 L638.3,690.6 L635.4,690.6 L634,688.1 L635.4,685.6 L638.3,685.6Z M635.1,690.6 L633.7,693.2 L630.8,693.2 L629.3,690.6 L630.8,688.1 L633.7,688.1Z M639.2,693.2 L637.7,695.7 L634.8,695.7 L633.4,693.2 L634.8,690.6 L637.7,690.6Z M634.5,695.7 L633.1,698.2 L630.2,698.2 L628.7,695.7 L630.2,693.2 L633.1,693.2Z M634,700.7 L632.5,703.2 L629.6,703.2 L628.2,700.7 L629.6,698.2 L632.5,698.2Z M638,703.2 L636.6,705.7 L633.7,705.7 L632.2,703.2 L633.7,700.7 L636.6,700.7Z M633.4,705.7 L631.9,708.2 L629,708.2 L627.6,705.7 L629,703.2 L631.9,703.2Z M637.4,708.2 L636,710.7 L633.1,710.7 L631.6,708.2 L633.1,705.7 L636,705.7Z M632.8,710.7 L631.3,713.2 L628.4,713.2 L627,710.7 L628.4,708.2 L631.3,708.2Z M632.2,715.8 L630.7,718.3 L627.8,718.3 L626.4,715.8 L627.8,713.2 L630.7,713.2Z M645.4,550 L644,552.5 L641.1,552.5 L639.6,550 L641.1,547.5 L644,547.5Z M650.5,552.5 L649,555 L646.1,555 L644.7,552.5 L646.1,550 L649,550Z M646.8,555 L645.3,557.5 L642.4,557.5 L641,555 L642.4,552.5 L645.3,552.5Z M651.8,557.5 L650.4,560 L647.5,560 L646,557.5 L647.5,555 L650.4,555Z M648.1,560 L646.7,562.6 L643.8,562.6 L642.3,560 L643.8,557.5 L646.7,557.5Z M649.5,565.1 L648,567.6 L645.1,567.6 L643.7,565.1 L645.1,562.6 L648,562.6Z M654.5,567.6 L653.1,570.1 L650.2,570.1 L648.7,567.6 L650.2,565.1 L653.1,565.1Z M650.8,570.1 L649.4,572.6 L646.5,572.6 L645,570.1 L646.5,567.6 L649.4,567.6Z M655.9,572.6 L654.4,575.1 L651.5,575.1 L650.1,572.6 L651.5,570.1 L654.4,570.1Z M652.2,575.1 L650.8,577.6 L647.9,577.6 L646.4,575.1 L647.9,572.6 L650.8,572.6Z M653.6,580.1 L652.1,582.6 L649.2,582.6 L647.8,580.1 L649.2,577.6 L652.1,577.6Z M658.6,582.6 L657.1,585.2 L654.2,585.2 L652.8,582.6 L654.2,580.1 L657.1,580.1Z M654.9,585.2 L653.5,587.7 L650.6,587.7 L649.1,585.2 L650.6,582.6 L653.5,582.6Z M659.9,587.7 L658.5,590.2 L655.6,590.2 L654.1,587.7 L655.6,585.2 L658.5,585.2Z M656.3,590.2 L654.8,592.7 L651.9,592.7 L650.5,590.2 L651.9,587.7 L654.8,587.7Z M657.6,595.2 L656.2,597.7 L653.3,597.7 L651.8,595.2 L653.3,592.7 L656.2,592.7Z M662.6,597.7 L661.2,600.2 L658.3,600.2 L656.8,597.7 L658.3,595.2 L661.2,595.2Z M658.9,600.2 L657.4,602.7 L654.5,602.7 L653.1,600.2 L654.5,597.7 L657.4,597.7Z M662.9,602.7 L661.5,605.3 L658.6,605.3 L657.1,602.7 L658.6,600.2 L661.5,600.2Z M658.3,605.3 L656.8,607.8 L653.9,607.8 L652.5,605.3 L653.9,602.7 L656.8,602.7Z M657.7,610.3 L656.2,612.8 L653.3,612.8 L651.9,610.3 L653.3,607.8 L656.2,607.8Z M661.7,612.8 L660.3,615.3 L657.4,615.3 L655.9,612.8 L657.4,610.3 L660.3,610.3Z M657.1,615.3 L655.6,617.8 L652.7,617.8 L651.3,615.3 L652.7,612.8 L655.6,612.8Z M661.1,617.8 L659.7,620.3 L656.8,620.3 L655.3,617.8 L656.8,615.3 L659.7,615.3Z M656.5,620.3 L655,622.8 L652.1,622.8 L650.7,620.3 L652.1,617.8 L655,617.8Z M655.9,625.3 L654.4,627.9 L651.5,627.9 L650.1,625.3 L651.5,622.8 L654.4,622.8Z M659.9,627.9 L658.5,630.4 L655.6,630.4 L654.1,627.9 L655.6,625.3 L658.5,625.3Z M655.3,630.4 L653.8,632.9 L650.9,632.9 L649.5,630.4 L650.9,627.9 L653.8,627.9Z M659.3,632.9 L657.9,635.4 L655,635.4 L653.5,632.9 L655,630.4 L657.9,630.4Z M654.7,635.4 L653.3,637.9 L650.4,637.9 L648.9,635.4 L650.4,632.9 L653.3,632.9Z M654.1,640.4 L652.7,642.9 L649.8,642.9 L648.3,640.4 L649.8,637.9 L652.7,637.9Z M658.2,642.9 L656.7,645.4 L653.8,645.4 L652.4,642.9 L653.8,640.4 L656.7,640.4Z M653.5,645.4 L652.1,647.9 L649.2,647.9 L647.7,645.4 L649.2,642.9 L652.1,642.9Z M657.6,647.9 L656.1,650.5 L653.2,650.5 L651.8,647.9 L653.2,645.4 L656.1,645.4Z M652.9,650.5 L651.5,653 L648.6,653 L647.1,650.5 L648.6,647.9 L651.5,647.9Z M652.3,655.5 L650.9,658 L648,658 L646.5,655.5 L648,653 L650.9,653Z M656.4,658 L654.9,660.5 L652,660.5 L650.6,658 L652,655.5 L654.9,655.5Z M651.7,660.5 L650.3,663 L647.4,663 L645.9,660.5 L647.4,658 L650.3,658Z M655.8,663 L654.3,665.5 L651.4,665.5 L650,663 L651.4,660.5 L654.3,660.5Z M651.1,665.5 L649.7,668 L646.8,668 L645.3,665.5 L646.8,663 L649.7,663Z M650.5,670.6 L649.1,673.1 L646.2,673.1 L644.7,670.6 L646.2,668 L649.1,668Z M654.6,673.1 L653.1,675.6 L650.2,675.6 L648.8,673.1 L650.2,670.6 L653.1,670.6Z M649.9,675.6 L648.5,678.1 L645.6,678.1 L644.1,675.6 L645.6,673.1 L648.5,673.1Z M654,678.1 L652.5,680.6 L649.6,680.6 L648.2,678.1 L649.6,675.6 L652.5,675.6Z M649.3,680.6 L647.9,683.1 L645,683.1 L643.5,680.6 L645,678.1 L647.9,678.1Z M648.7,685.6 L647.3,688.1 L644.4,688.1 L642.9,685.6 L644.4,683.1 L647.3,683.1Z M652.8,688.1 L651.3,690.6 L648.4,690.6 L647,688.1 L648.4,685.6 L651.3,685.6Z M648.1,690.6 L646.7,693.2 L643.8,693.2 L642.3,690.6 L643.8,688.1 L646.7,688.1Z M652.2,693.2 L650.7,695.7 L647.8,695.7 L646.4,693.2 L647.8,690.6 L650.7,690.6Z M647.5,695.7 L646.1,698.2 L643.2,698.2 L641.7,695.7 L643.2,693.2 L646.1,693.2Z M647,700.7 L645.5,703.2 L642.6,703.2 L641.2,700.7 L642.6,698.2 L645.5,698.2Z M651,703.2 L649.6,705.7 L646.7,705.7 L645.2,703.2 L646.7,700.7 L649.6,700.7Z M646.4,705.7 L644.9,708.2 L642,708.2 L640.6,705.7 L642,703.2 L644.9,703.2Z M650.4,708.2 L649,710.7 L646.1,710.7 L644.6,708.2 L646.1,705.7 L649,705.7Z M645.8,710.7 L644.3,713.2 L641.4,713.2 L640,710.7 L641.4,708.2 L644.3,708.2Z M645.2,715.8 L643.7,718.3 L640.8,718.3 L639.4,715.8 L640.8,713.2 L643.7,713.2Z M607.3,724 L605.9,726.5 L603,726.5 L601.5,724 L603,721.5 L605.9,721.5Z M612.2,726.5 L610.8,729 L607.9,729 L606.4,726.5 L607.9,724 L610.8,724Z M608.4,729 L607,731.5 L604.1,731.5 L602.6,729 L604.1,726.5 L607,726.5Z M613.3,731.5 L611.9,734 L609,734 L607.5,731.5 L609,729 L611.9,729Z M609.6,734 L608.1,736.6 L605.2,736.6 L603.8,734 L605.2,731.5 L608.1,731.5Z M610.7,739.1 L609.2,741.6 L606.3,741.6 L604.9,739.1 L606.3,736.6 L609.2,736.6Z M615.6,741.6 L614.1,744.1 L611.2,744.1 L609.8,741.6 L611.2,739.1 L614.1,739.1Z M611.8,744.1 L610.3,746.6 L607.4,746.6 L606,744.1 L607.4,741.6 L610.3,741.6Z M616.7,746.6 L615.2,749.1 L612.3,749.1 L610.9,746.6 L612.3,744.1 L615.2,744.1Z M612.9,749.1 L611.4,751.6 L608.5,751.6 L607.1,749.1 L608.5,746.6 L611.4,746.6Z M614,754.1 L612.5,756.6 L609.6,756.6 L608.2,754.1 L609.6,751.6 L612.5,751.6Z M618.9,756.6 L617.4,759.2 L614.5,759.2 L613.1,756.6 L614.5,754.1 L617.4,754.1Z M615.1,759.2 L613.6,761.7 L610.7,761.7 L609.3,759.2 L610.7,756.6 L613.6,756.6Z M620,761.7 L618.5,764.2 L615.6,764.2 L614.2,761.7 L615.6,759.2 L618.5,759.2Z M616.2,764.2 L614.7,766.7 L611.8,766.7 L610.4,764.2 L611.8,761.7 L614.7,761.7Z M617.3,769.2 L615.8,771.7 L612.9,771.7 L611.5,769.2 L612.9,766.7 L615.8,766.7Z M622.2,771.7 L620.7,774.2 L617.8,774.2 L616.4,771.7 L617.8,769.2 L620.7,769.2Z M618.4,774.2 L616.9,776.7 L614,776.7 L612.6,774.2 L614,771.7 L616.9,771.7Z M623.3,776.7 L621.8,779.3 L618.9,779.3 L617.5,776.7 L618.9,774.2 L621.8,774.2Z M619.5,779.3 L618,781.8 L615.1,781.8 L613.7,779.3 L615.1,776.7 L618,776.7Z M620.6,784.3 L619.2,786.8 L616.3,786.8 L614.8,784.3 L616.3,781.8 L619.2,781.8Z M625.5,786.8 L624.1,789.3 L621.2,789.3 L619.7,786.8 L621.2,784.3 L624.1,784.3Z M621.7,789.3 L620.3,791.8 L617.4,791.8 L615.9,789.3 L617.4,786.8 L620.3,786.8Z M626.6,791.8 L625.2,794.3 L622.3,794.3 L620.8,791.8 L622.3,789.3 L625.2,789.3Z M622.8,794.3 L621.4,796.8 L618.5,796.8 L617,794.3 L618.5,791.8 L621.4,791.8Z M623.9,799.3 L622.5,801.9 L619.6,801.9 L618.1,799.3 L619.6,796.8 L622.5,796.8Z M628.8,801.9 L627.4,804.4 L624.5,804.4 L623,801.9 L624.5,799.3 L627.4,799.3Z M625,804.4 L623.6,806.9 L620.7,806.9 L619.2,804.4 L620.7,801.9 L623.6,801.9Z M629.9,806.9 L628.5,809.4 L625.6,809.4 L624.1,806.9 L625.6,804.4 L628.5,804.4Z M620.3,724 L618.9,726.5 L616,726.5 L614.5,724 L616,721.5 L618.9,721.5Z M625.2,726.5 L623.8,729 L620.9,729 L619.4,726.5 L620.9,724 L623.8,724Z M621.4,729 L620,731.5 L617.1,731.5 L615.6,729 L617.1,726.5 L620,726.5Z M626.3,731.5 L624.9,734 L622,734 L620.5,731.5 L622,729 L624.9,729Z M622.6,734 L621.1,736.6 L618.2,736.6 L616.8,734 L618.2,731.5 L621.1,731.5Z M623.7,739.1 L622.2,741.6 L619.3,741.6 L617.9,739.1 L619.3,736.6 L622.2,736.6Z M628.6,741.6 L627.1,744.1 L624.2,744.1 L622.8,741.6 L624.2,739.1 L627.1,739.1Z M624.8,744.1 L623.3,746.6 L620.4,746.6 L619,744.1 L620.4,741.6 L623.3,741.6Z M629.7,746.6 L628.2,749.1 L625.3,749.1 L623.9,746.6 L625.3,744.1 L628.2,744.1Z M625.9,749.1 L624.4,751.6 L621.5,751.6 L620.1,749.1 L621.5,746.6 L624.4,746.6Z M627,754.1 L625.5,756.6 L622.6,756.6 L621.2,754.1 L622.6,751.6 L625.5,751.6Z M631.9,756.6 L630.4,759.2 L627.5,759.2 L626.1,756.6 L627.5,754.1 L630.4,754.1Z M628.1,759.2 L626.6,761.7 L623.7,761.7 L622.3,759.2 L623.7,756.6 L626.6,756.6Z M633,761.7 L631.5,764.2 L628.6,764.2 L627.2,761.7 L628.6,759.2 L631.5,759.2Z M629.2,764.2 L627.7,766.7 L624.8,766.7 L623.4,764.2 L624.8,761.7 L627.7,761.7Z M630.3,769.2 L628.8,771.7 L625.9,771.7 L624.5,769.2 L625.9,766.7 L628.8,766.7Z M635.2,771.7 L633.7,774.2 L630.8,774.2 L629.4,771.7 L630.8,769.2 L633.7,769.2Z M631.4,774.2 L629.9,776.7 L627,776.7 L625.6,774.2 L627,771.7 L629.9,771.7Z M636.3,776.7 L634.8,779.3 L631.9,779.3 L630.5,776.7 L631.9,774.2 L634.8,774.2Z M632.5,779.3 L631,781.8 L628.1,781.8 L626.7,779.3 L628.1,776.7 L631,776.7Z M633.6,784.3 L632.2,786.8 L629.3,786.8 L627.8,784.3 L629.3,781.8 L632.2,781.8Z M638.5,786.8 L637.1,789.3 L634.2,789.3 L632.7,786.8 L634.2,784.3 L637.1,784.3Z M634.7,789.3 L633.3,791.8 L630.4,791.8 L628.9,789.3 L630.4,786.8 L633.3,786.8Z M639.6,791.8 L638.2,794.3 L635.3,794.3 L633.8,791.8 L635.3,789.3 L638.2,789.3Z M635.8,794.3 L634.4,796.8 L631.5,796.8 L630,794.3 L631.5,791.8 L634.4,791.8Z M636.9,799.3 L635.5,801.9 L632.6,801.9 L631.1,799.3 L632.6,796.8 L635.5,796.8Z M641.8,801.9 L640.4,804.4 L637.5,804.4 L636,801.9 L637.5,799.3 L640.4,799.3Z M638,804.4 L636.6,806.9 L633.7,806.9 L632.2,804.4 L633.7,801.9 L636.6,801.9Z M642.9,806.9 L641.5,809.4 L638.6,809.4 L637.1,806.9 L638.6,804.4 L641.5,804.4Z M633.3,724 L631.9,726.5 L629,726.5 L627.5,724 L629,721.5 L631.9,721.5Z M638.2,726.5 L636.8,729 L633.9,729 L632.4,726.5 L633.9,724 L636.8,724Z M634.4,729 L633,731.5 L630.1,731.5 L628.6,729 L630.1,726.5 L633,726.5Z M639.3,731.5 L637.9,734 L635,734 L633.5,731.5 L635,729 L637.9,729Z M635.6,734 L634.1,736.6 L631.2,736.6 L629.8,734 L631.2,731.5 L634.1,731.5Z M636.7,739.1 L635.2,741.6 L632.3,741.6 L630.9,739.1 L632.3,736.6 L635.2,736.6Z M641.6,741.6 L640.1,744.1 L637.2,744.1 L635.8,741.6 L637.2,739.1 L640.1,739.1Z M637.8,744.1 L636.3,746.6 L633.4,746.6 L632,744.1 L633.4,741.6 L636.3,741.6Z M642.7,746.6 L641.2,749.1 L638.3,749.1 L636.9,746.6 L638.3,744.1 L641.2,744.1Z M638.9,749.1 L637.4,751.6 L634.5,751.6 L633.1,749.1 L634.5,746.6 L637.4,746.6Z M640,754.1 L638.5,756.6 L635.6,756.6 L634.2,754.1 L635.6,751.6 L638.5,751.6Z M644.9,756.6 L643.4,759.2 L640.5,759.2 L639.1,756.6 L640.5,754.1 L643.4,754.1Z M641.1,759.2 L639.6,761.7 L636.7,761.7 L635.3,759.2 L636.7,756.6 L639.6,756.6Z M646,761.7 L644.5,764.2 L641.6,764.2 L640.2,761.7 L641.6,759.2 L644.5,759.2Z M642.2,764.2 L640.7,766.7 L637.8,766.7 L636.4,764.2 L637.8,761.7 L640.7,761.7Z M643.3,769.2 L641.8,771.7 L638.9,771.7 L637.5,769.2 L638.9,766.7 L641.8,766.7Z M648.2,771.7 L646.7,774.2 L643.8,774.2 L642.4,771.7 L643.8,769.2 L646.7,769.2Z M644.4,774.2 L642.9,776.7 L640,776.7 L638.6,774.2 L640,771.7 L642.9,771.7Z M649.3,776.7 L647.8,779.3 L644.9,779.3 L643.5,776.7 L644.9,774.2 L647.8,774.2Z M645.5,779.3 L644,781.8 L641.1,781.8 L639.7,779.3 L641.1,776.7 L644,776.7Z M646.6,784.3 L645.2,786.8 L642.3,786.8 L640.8,784.3 L642.3,781.8 L645.2,781.8Z M651.5,786.8 L650.1,789.3 L647.2,789.3 L645.7,786.8 L647.2,784.3 L650.1,784.3Z M647.7,789.3 L646.3,791.8 L643.4,791.8 L641.9,789.3 L643.4,786.8 L646.3,786.8Z M652.6,791.8 L651.2,794.3 L648.3,794.3 L646.8,791.8 L648.3,789.3 L651.2,789.3Z M648.8,794.3 L647.4,796.8 L644.5,796.8 L643,794.3 L644.5,791.8 L647.4,791.8Z M649.9,799.3 L648.5,801.9 L645.6,801.9 L644.1,799.3 L645.6,796.8 L648.5,796.8Z M654.8,801.9 L653.4,804.4 L650.5,804.4 L649,801.9 L650.5,799.3 L653.4,799.3Z M651,804.4 L649.6,806.9 L646.7,806.9 L645.2,804.4 L646.7,801.9 L649.6,801.9Z M655.9,806.9 L654.5,809.4 L651.6,809.4 L650.1,806.9 L651.6,804.4 L654.5,804.4Z M646.3,724 L644.9,726.5 L642,726.5 L640.5,724 L642,721.5 L644.9,721.5Z M651.2,726.5 L649.8,729 L646.9,729 L645.4,726.5 L646.9,724 L649.8,724Z M647.4,729 L646,731.5 L643.1,731.5 L641.6,729 L643.1,726.5 L646,726.5Z M652.3,731.5 L650.9,734 L648,734 L646.5,731.5 L648,729 L650.9,729Z M648.6,734 L647.1,736.6 L644.2,736.6 L642.8,734 L644.2,731.5 L647.1,731.5Z M649.7,739.1 L648.2,741.6 L645.3,741.6 L643.9,739.1 L645.3,736.6 L648.2,736.6Z M654.6,741.6 L653.1,744.1 L650.2,744.1 L648.8,741.6 L650.2,739.1 L653.1,739.1Z M650.8,744.1 L649.3,746.6 L646.4,746.6 L645,744.1 L646.4,741.6 L649.3,741.6Z M655.7,746.6 L654.2,749.1 L651.3,749.1 L649.9,746.6 L651.3,744.1 L654.2,744.1Z M651.9,749.1 L650.4,751.6 L647.5,751.6 L646.1,749.1 L647.5,746.6 L650.4,746.6Z M653,754.1 L651.5,756.6 L648.6,756.6 L647.2,754.1 L648.6,751.6 L651.5,751.6Z M657.9,756.6 L656.4,759.2 L653.5,759.2 L652.1,756.6 L653.5,754.1 L656.4,754.1Z M654.1,759.2 L652.6,761.7 L649.7,761.7 L648.3,759.2 L649.7,756.6 L652.6,756.6Z M659,761.7 L657.5,764.2 L654.6,764.2 L653.2,761.7 L654.6,759.2 L657.5,759.2Z M655.2,764.2 L653.7,766.7 L650.8,766.7 L649.4,764.2 L650.8,761.7 L653.7,761.7Z M656.3,769.2 L654.8,771.7 L651.9,771.7 L650.5,769.2 L651.9,766.7 L654.8,766.7Z M661.2,771.7 L659.7,774.2 L656.8,774.2 L655.4,771.7 L656.8,769.2 L659.7,769.2Z M657.4,774.2 L655.9,776.7 L653,776.7 L651.6,774.2 L653,771.7 L655.9,771.7Z M662.3,776.7 L660.8,779.3 L657.9,779.3 L656.5,776.7 L657.9,774.2 L660.8,774.2Z M658.5,779.3 L657,781.8 L654.1,781.8 L652.7,779.3 L654.1,776.7 L657,776.7Z M659.6,784.3 L658.2,786.8 L655.3,786.8 L653.8,784.3 L655.3,781.8 L658.2,781.8Z M664.5,786.8 L663.1,789.3 L660.2,789.3 L658.7,786.8 L660.2,784.3 L663.1,784.3Z M660.7,789.3 L659.3,791.8 L656.4,791.8 L654.9,789.3 L656.4,786.8 L659.3,786.8Z M665.6,791.8 L664.2,794.3 L661.3,794.3 L659.8,791.8 L661.3,789.3 L664.2,789.3Z M661.8,794.3 L660.4,796.8 L657.5,796.8 L656,794.3 L657.5,791.8 L660.4,791.8Z M662.9,799.3 L661.5,801.9 L658.6,801.9 L657.1,799.3 L658.6,796.8 L661.5,796.8Z M667.8,801.9 L666.4,804.4 L663.5,804.4 L662,801.9 L663.5,799.3 L666.4,799.3Z M664,804.4 L662.6,806.9 L659.7,806.9 L658.2,804.4 L659.7,801.9 L662.6,801.9Z M668.9,806.9 L667.5,809.4 L664.6,809.4 L663.1,806.9 L664.6,804.4 L667.5,804.4Z" fill="#9a7a70" fill-opacity="0.2" stroke="#826258" stroke-width="1.15" opacity="0.92"/>
<path d="M633,459 l-2.5,-3 M637,459 l2.5,-3 M617.6,511.8 l-0.7,2.2 M612.2,529.3 l2.1,1.5 M616,499.2 l0.7,2.4 M636.3,471.1 l1.8,1.9 M625,470.2 l-2.4,1.7 M632.1,484.4 l-1.7,2.3 M629.6,473.1 l-0.3,1.6 M603.5,539.8 l-1.5,1.7 M603.2,540.6 l-1.1,2.5 M619.7,505.1 l0.6,1.7 M603.5,539.5 l2.3,2.4 M631.7,485.9 l-0.4,2.4 M646,459 l-2.5,-3 M650,459 l2.5,-3 M645.5,483.1 l-1,2.1 M646,462.3 l1,1.6 M643.3,490.4 l-0.1,1.8 M634.1,500.5 l-1.6,1.8 M622.8,537.1 l-0.7,1.9 M638.5,505.9 l-0.7,2.1 M640.3,462.7 l1,2.1 M616.9,538.4 l1.3,2.4 M628.7,537.4 l0.1,2.4 M645.8,482.1 l-2,2.2 M632.3,525.8 l-2.3,2.4 M649.8,469.3 l0.1,1.9 M659,459 l-2.5,-3 M663,459 l2.5,-3 M661.4,473.9 l2.1,2 M657.3,487 l-1,2.3 M643.5,512.1 l0.9,2.5 M649.6,474.9 l-2.1,2.1 M630.7,535.9 l-1.3,2.1 M644.6,528.1 l0.8,1.6 M634.8,540.3 l-2.3,2 M632.8,529.1 l2.4,2.1 M661.8,472.6 l-2,1.9 M661.4,473.9 l-1,2 M628.8,541.9 l2.4,2 M647,501.1 l-0.9,1.8 M672,459 l-2.5,-3 M676,459 l2.5,-3 M654.9,499.6 l-1.9,2.3 M653.4,504.5 l0.6,2 M658.2,489.1 l-0,2 M658.5,505.8 l-0.7,2.3 M652.9,524 l0.4,1.5 M664.5,486.5 l1,1.8 M660,500.9 l1.1,2.5 M658.1,489.2 l0.4,1.5 M664.5,505.8 l-0.9,1.8 M664.9,485.1 l0.7,2.3 M663.4,489.8 l-0.8,2.4 M656.4,494.7 l1.8,2.2 M604,548 l-2.5,-3 M608,548 l2.5,-3 M611.8,711.1 l0.1,2 M619.1,578.3 l2.2,2 M611.4,664.4 l0.9,1.9 M612.8,652.2 l0.1,2.4 M618.9,600.6 l1.4,2.1 M605.3,669.1 l-1.5,2.1 M607.2,653.3 l-1.4,2.2 M607,654.5 l2.4,2.5 M607.6,578.2 l-1.9,2.5 M615.4,630.2 l-2.3,2 M617.4,613.4 l-2.1,1.7 M616.8,668.8 l-2.5,1.9 M624.1,596.7 l1.8,2.2 M608.7,640.7 l0.2,1.8 M618.8,599.4 l-0.8,2.1 M600.7,708.2 l-0.4,2.3 M618.3,656.3 l-0.2,1.7 M623.4,613.8 l2.3,2.5 M619,650.8 l1.6,2.2 M623.4,613.6 l0.3,2.1 M612,574.1 l1.9,2.1 M611,621.4 l-0,2 M617,667.2 l2.3,2.4 M619.2,648.7 l1.2,1.8 M617,548 l-2.5,-3 M621,548 l2.5,-3 M624.4,592.2 l-0.9,2.5 M634.2,631.6 l-1.8,1.5 M631,659.2 l-1.3,1.5 M630.8,573.4 l-2.4,2 M636.9,595.9 l1.4,1.7 M625.1,594.9 l1.1,1.8 M634.2,631.7 l0.1,2.4 M615.2,695.4 l-2.4,1.6 M631.3,597.3 l-0.8,1.8 M633.5,637.9 l-0.8,2.2 M616.5,684.3 l-2.3,1.8 M623.4,625.7 l1.9,2 M625.5,553.4 l0.5,2.2 M619.3,707.3 l-0.1,2.4 M636.3,614.2 l0.9,2.2 M626.3,698.4 l1.7,1.6 M621.5,688.1 l1.4,2.1 M631.2,657.3 l2.1,1.6 M628.5,629.5 l1.9,2.5 M633.3,639.2 l0.4,2.3 M616.3,562.2 l-1.2,1.6 M616.1,561.3 l-0.8,1.9 M627.8,562.3 l1,1.5 M615.9,689.1 l0.6,2.3 M630,548 l-2.5,-3 M634,548 l2.5,-3 M631.2,569.2 l2.5,2.2 M636.8,622.8 l0.6,1.9 M638.9,577.4 l-1.4,2.1 M638,659.3 l-2.1,1.6 M639.6,645.3 l-0.5,2.1 M626.7,552.6 l-0.9,2.1 M641.3,631.3 l-0.6,1.6 M631.7,665.4 l0.3,2.2 M644.6,598.6 l0.2,1.7 M629.1,561.4 l-1.2,2.3 M635.3,635.8 l1.5,2.4 M648,625.3 l-1.6,2.2 M632.6,658.4 l0.4,1.5 M634,692.6 l0.5,1.7 M639.8,694.8 l2.3,1.6 M640.5,638 l1.1,1.6 M644.5,575.7 l0.9,1.7 M636.9,570 l-0,1.7 M643.2,666 l-0.7,1.7 M644.3,605.7 l1,2.3 M643.5,613 l1.7,2.1 M641.2,682.9 l2.3,1.9 M633.4,557 l-1.4,1.7 M629.1,561.4 l-2.3,1.7 M643,548 l-2.5,-3 M647,548 l2.5,-3 M652.5,557.5 l0.8,1.8 M661.5,621 l1.9,2.1 M661.5,621.3 l-0.2,1.7 M645.6,658.2 l-0.6,1.9 M641.2,695.4 l0.3,1.6 M653.9,685.2 l0.9,1.5 M652.4,698 l2.1,1.9 M645.6,704.8 l-2.4,2 M641.8,690.2 l-1.9,2.2 M657.7,598.7 l-1.3,2.5 M646.3,556.5 l-2.4,1.7 M654.3,563.8 l2.1,2.2 M645.1,662.6 l-0.2,1.8 M649.6,671.1 l-0.2,2.3 M647.1,579.8 l2.2,2.1 M661.4,621.6 l-2.5,1.6 M654.7,678.8 l-1.7,1.5 M647.6,688 l0.3,2.4 M644.4,668.5 l2,2 M640.1,704.5 l0.9,2.1 M648.6,632.6 l-2.3,2.3 M655.1,624.1 l-2.2,1.5 M639.4,710.3 l1,2.1 M647.6,581.8 l-2.1,1.8 M605,722 l-2.5,-3 M609,722 l2.5,-3 M608.6,733.9 l2.4,1.7 M608,731.2 l-1.4,1.5 M622.4,769.2 l-0.4,2.3 M610.6,767.8 l1.1,2.4 M618.2,750.2 l2,2.5 M611.2,770.5 l-0.9,1.6 M626.6,788.3 l-0.9,1.6 M602.6,731.7 l1,2.3 M624.1,804.4 l-1.3,1.6 M613.8,782.4 l1,2.3 M617.1,797.4 l-2.1,2.3 M613.5,756.1 l-2.5,1.8 M618,722 l-2.5,-3 M622,722 l2.5,-3 M631.1,802.1 l0.4,1.9 M634.4,792 l1.4,1.5 M626.5,728.9 l-1.2,2.3 M621.1,756.4 l-0.9,1.8 M628.1,736.3 l0.9,1.8 M620.8,730.2 l0.3,1.5 M615.1,729.2 l1.6,1.9 M624.3,746.2 l-2.4,2 M616.4,735.3 l-0.8,1.5 M624.7,772.9 l1.1,1.6 M623.7,768.5 l0.7,1.6 M639.5,787.7 l1.5,1.6 M631,722 l-2.5,-3 M635,722 l2.5,-3 M632.9,751 l-0.2,1.9 M640.6,761.2 l2.2,2 M650.2,804.5 l-2.5,1.6 M648,794.7 l-2.2,2.5 M633.3,727.7 l-1.3,2.2 M645.1,754.1 l-1.4,1.8 M636.3,741.5 l0.1,2.3 M652.8,789.4 l-0.7,1.7 M644.9,805.6 l0.6,1.9 M629.7,736.7 l-0,1.5 M630.2,738.9 l1.3,1.8 M655.3,800.5 l-0.1,2 M644,722 l-2.5,-3 M648,722 l2.5,-3 M649.8,768.8 l1.5,1.9 M645.8,725.8 l0.5,2.1 M654.8,791.7 l-0.9,1.5 M657.3,750.6 l0,2 M664.1,781.6 l2.4,2.3 M662.3,800.8 l0.3,1.6 M654.3,737 l-0.7,2.1 M657.9,780.7 l-1.5,1.8 M652.2,727.2 l0.6,2.4 M668.6,802.2 l-1,2.4 M650.6,747.5 l-1.3,1.5 M653.3,732.2 l2,2.2" fill="none" stroke="#e05050" stroke-width="1.4"/>
<path d="M676,604 C648,625 648,665 676,681" fill="none" stroke="#a0b8e8" stroke-width="3.4"/>
<path d="M681,599 L668,603 L676,611 Z" fill="#a0b8e8"/>
<path d="M683,684 L670,686 L674,676 Z" fill="#a0b8e8"/>
<g transform="matrix(1,0,-0.62,0.5,712,682)"><path d="M-13.8,-2.7 L-22.9,2.7 L-32.1,-2.7 L-32.1,-13.2 L-22.9,-18.5 L-13.8,-13.3Z M4.6,-2.7 L-4.6,2.7 L-13.8,-2.7 L-13.8,-13.2 L-4.6,-18.5 L4.6,-13.3Z M22.9,-2.7 L13.8,2.7 L4.6,-2.7 L4.6,-13.2 L13.8,-18.5 L22.9,-13.3Z M-4.6,13.2 L-13.8,18.5 L-22.9,13.2 L-22.9,2.6 L-13.8,-2.7 L-4.6,2.6Z M13.8,13.2 L4.6,18.5 L-4.6,13.2 L-4.6,2.6 L4.6,-2.7 L13.8,2.6Z M32.1,13.2 L22.9,18.5 L13.8,13.2 L13.8,2.6 L22.9,-2.7 L32.1,2.6Z" fill="none" stroke="#8e3cc0" stroke-width="2.5" stroke-linejoin="round" vector-effect="non-scaling-stroke"/></g>
<circle cx="751.4" cy="495.6" r="5.8" fill="url(#goldG)"/>
<circle cx="672.5" cy="531.6" r="5.8" fill="url(#goldG)"/>
<circle cx="694.2" cy="580" r="5.8" fill="url(#goldG)"/>
<circle cx="669.3" cy="722" r="5.8" fill="url(#goldG)"/>
<circle cx="835.6" cy="569.4" r="5.8" fill="url(#goldG)"/>
<circle cx="875.6" cy="670" r="5.8" fill="url(#goldG)"/>
<circle cx="844.2" cy="732.4" r="5.8" fill="url(#goldG)"/>
<circle cx="698.8" cy="507.6" r="3.7" fill="url(#grnG)" stroke="#66803a" stroke-width="1.5"/>
<circle cx="775.5" cy="528.8" r="3.7" fill="url(#grnG)" stroke="#66803a" stroke-width="1.5"/>
<circle cx="678.5" cy="599.4" r="3.7" fill="url(#grnG)" stroke="#66803a" stroke-width="1.5"/>
<circle cx="701.2" cy="673.5" r="3.7" fill="url(#grnG)" stroke="#66803a" stroke-width="1.5"/>
<circle cx="725.8" cy="690.8" r="3.7" fill="url(#grnG)" stroke="#66803a" stroke-width="1.5"/>
<circle cx="748.7" cy="739" r="3.7" fill="url(#grnG)" stroke="#66803a" stroke-width="1.5"/>
<circle cx="888.6" cy="490.7" r="3.7" fill="url(#grnG)" stroke="#66803a" stroke-width="1.5"/>
<circle cx="830.3" cy="555.5" r="3.7" fill="url(#grnG)" stroke="#66803a" stroke-width="1.5"/>
<circle cx="904.7" cy="591.1" r="3.7" fill="url(#grnG)" stroke="#66803a" stroke-width="1.5"/>
<circle cx="861.3" cy="636.2" r="3.7" fill="url(#grnG)" stroke="#66803a" stroke-width="1.5"/>
<circle cx="838.6" cy="675.5" r="3.7" fill="url(#grnG)" stroke="#66803a" stroke-width="1.5"/>
<circle cx="816.6" cy="759.5" r="3.7" fill="url(#grnG)" stroke="#66803a" stroke-width="1.5"/>
<circle cx="884.4" cy="782.8" r="3.7" fill="url(#grnG)" stroke="#66803a" stroke-width="1.5"/>
<ellipse cx="745.2" cy="580.7" rx="8.5" ry="2.6" fill="url(#petalG)" transform="rotate(-180 745.2 580.7)"/><ellipse cx="775.2" cy="580.7" rx="8.5" ry="2.6" fill="url(#petalG)" transform="rotate(0 775.2 580.7)"/><ellipse cx="767.7" cy="567.7" rx="8.5" ry="2.6" fill="url(#petalG)" transform="rotate(-60 767.7 567.7)"/><ellipse cx="752.7" cy="593.7" rx="8.5" ry="2.6" fill="url(#petalG)" transform="rotate(-240 752.7 593.7)"/><circle cx="760.2" cy="580.7" r="3.7" fill="url(#grnG)" stroke="#66803a" stroke-width="1.5"/>
<ellipse cx="854.8" cy="536.3" rx="8.5" ry="2.6" fill="url(#petalG)" transform="rotate(-180 854.8 536.3)"/><ellipse cx="884.8" cy="536.3" rx="8.5" ry="2.6" fill="url(#petalG)" transform="rotate(0 884.8 536.3)"/><ellipse cx="874.9" cy="522.2" rx="8.5" ry="2.6" fill="url(#petalG)" transform="rotate(-70 874.9 522.2)"/><ellipse cx="868.5" cy="551.2" rx="8.5" ry="2.6" fill="url(#petalG)" transform="rotate(-265 868.5 551.2)"/><circle cx="869.8" cy="536.3" r="3.7" fill="url(#grnG)" stroke="#66803a" stroke-width="1.5"/>
<ellipse cx="877.7" cy="738.2" rx="8.5" ry="2.6" fill="url(#petalG)" transform="rotate(-180 877.7 738.2)"/><ellipse cx="901.3" cy="725.9" rx="8.5" ry="2.6" fill="url(#petalG)" transform="rotate(-55 901.3 725.9)"/><ellipse cx="885.2" cy="725.2" rx="8.5" ry="2.6" fill="url(#petalG)" transform="rotate(-120 885.2 725.2)"/><ellipse cx="884.1" cy="750.5" rx="8.5" ry="2.6" fill="url(#petalG)" transform="rotate(-235 884.1 750.5)"/><ellipse cx="901.3" cy="750.5" rx="8.5" ry="2.6" fill="url(#petalG)" transform="rotate(-305 901.3 750.5)"/><circle cx="892.7" cy="738.2" r="3.7" fill="url(#grnG)" stroke="#66803a" stroke-width="1.5"/>
<ellipse cx="684.2" cy="783.2" rx="8.5" ry="2.6" fill="url(#petalG)" transform="rotate(-180 684.2 783.2)"/><ellipse cx="707.8" cy="770.9" rx="8.5" ry="2.6" fill="url(#petalG)" transform="rotate(-55 707.8 770.9)"/><ellipse cx="691.7" cy="770.2" rx="8.5" ry="2.6" fill="url(#petalG)" transform="rotate(-120 691.7 770.2)"/><ellipse cx="690.6" cy="795.5" rx="8.5" ry="2.6" fill="url(#petalG)" transform="rotate(-235 690.6 795.5)"/><ellipse cx="707.8" cy="795.5" rx="8.5" ry="2.6" fill="url(#petalG)" transform="rotate(-305 707.8 795.5)"/><circle cx="699.2" cy="783.2" r="3.7" fill="url(#grnG)" stroke="#66803a" stroke-width="1.5"/>
<text id="tx59" x="743" y="440.6" font-family='"Liberation Serif", serif' font-size="22.08" font-weight="bold" text-anchor="start" fill="#111" textLength="118" lengthAdjust="spacingAndGlyphs">GO on GF/F</text>
<text id="tx60" x="717.8" y="485.5" font-family='"Liberation Serif", serif' font-size="14.82" font-weight="bold" text-anchor="start" fill="#1a1a1a" textLength="63.7" lengthAdjust="spacingAndGlyphs">[B(hfip)<tspan dy="3" font-size="9">4</tspan><tspan dy="-3">]</tspan><tspan dy="-6" font-size="9" font-weight="normal">−</tspan></text>
<text id="tx61" x="872.8" y="481.5" font-family='"Liberation Serif", serif' font-size="15.56" font-weight="bold" text-anchor="start" fill="#1a1a1a" textLength="31.2" lengthAdjust="spacingAndGlyphs">Mg<tspan dy="-5" font-size="9">2+</tspan></text>
<text id="tx62" x="695.4" y="647.2" font-family='"Liberation Serif", serif' font-size="14.83" font-weight="bold" text-anchor="start" fill="#1a1a1a" textLength="43.9" lengthAdjust="spacingAndGlyphs">soluble</text>
<text id="tx63" x="677.3" y="664.4" font-family='"Liberation Serif", serif' font-size="14.78" font-weight="bold" text-anchor="start" fill="#1a1a1a" textLength="79.8" lengthAdjust="spacingAndGlyphs">intermediate</text>
<text id="tx64" x="714" y="782.1" font-family='"Liberation Serif", serif' font-size="14.68" font-weight="bold" text-anchor="start" fill="#1a1a1a" textLength="56" lengthAdjust="spacingAndGlyphs">solvation</text>
<text id="tx65" x="713.5" y="799.4" font-family='"Liberation Serif", serif' font-size="14.84" font-weight="bold" text-anchor="start" fill="#1a1a1a" textLength="57.6" lengthAdjust="spacingAndGlyphs">structure</text>
<text id="tx66" x="592.6" y="707.4" font-family='"Liberation Serif", serif' font-size="22.88" font-weight="bold" text-anchor="start" fill="#111" transform="rotate(-90 592.6 707.4)" textLength="136.9" lengthAdjust="spacingAndGlyphs">NUPI cathode</text>
<text id="tx67" x="942.7" y="588.2" font-family='"Liberation Serif", serif' font-size="22.40" font-weight="bold" text-anchor="start" fill="#111" transform="rotate(90 942.7 588.2)" textLength="94.2" lengthAdjust="spacingAndGlyphs">Mg anode</text>
<text id="tx68" x="531.5" y="470.5" font-family='"Liberation Sans", sans-serif' font-size="28.50" font-weight="normal" text-anchor="start" fill="#111">d)</text>
<path d="M100.7,933.6 L101.7,933.4 L102.8,933.1 L103.9,932.8 L105,932.2 L106.1,931.6 L107.2,930.7 L108.3,929.6 L109.4,928.3 L110.4,926.7 L111.5,924.9 L112.6,922.9 L113.7,920.7 L114.8,918.5 L115.9,916.2 L117,914 L118.1,912 L119.1,910.3 L120.2,909.1 L121.3,908.3 L122.4,908 L123.5,908.3 L124.6,909.1 L125.7,910.3 L126.8,912 L127.8,914 L128.9,916.2 L130,918.5 L131.1,920.7 L132.2,922.9 L133.3,924.9 L134.4,926.7 L135.4,928.3 L136.5,929.6 L137.6,930.7 L138.7,931.6 L139.8,932.2 L140.9,932.8 L142,933.1 L143.1,933.4 L144.2,933.6 Z" fill="#ecc8f0" stroke="#e0a8e8" stroke-width="1.2" opacity="0.85"/>
<path d="M147.7,935.7 L150.2,935.6 L152.6,935.3 L155.1,935 L157.6,934.6 L160,934.1 L162.5,933.5 L165,932.6 L167.4,931.6 L169.9,930.4 L172.3,929 L174.8,927.5 L177.3,925.8 L179.7,924.1 L182.2,922.3 L184.7,920.6 L187.1,919.1 L189.6,917.8 L192.1,916.8 L194.5,916.2 L197,916 L199.5,916.2 L201.9,916.8 L204.4,917.8 L206.9,919.1 L209.3,920.6 L211.8,922.3 L214.3,924.1 L216.7,925.8 L219.2,927.5 L221.7,929 L224.1,930.4 L226.6,931.6 L229,932.6 L231.5,933.5 L234,934.1 L236.4,934.6 L238.9,935 L241.4,935.3 L243.8,935.6 L246.3,935.7 Z" fill="#dcedfa" stroke="#a8d8f6" stroke-width="1.2" opacity="0.85"/>
<path d="M185.9,936.7 L187.2,936.5 L188.5,936.3 L189.8,935.9 L191.1,935.5 L192.4,934.9 L193.7,934.2 L195,933.3 L196.3,932.2 L197.6,930.8 L198.9,929.3 L200.3,927.6 L201.6,925.8 L202.9,923.9 L204.2,921.9 L205.5,920.1 L206.8,918.4 L208.1,917 L209.4,915.9 L210.7,915.2 L212,915 L213.3,915.2 L214.6,915.9 L215.9,917 L217.2,918.4 L218.5,920.1 L219.8,921.9 L221.1,923.9 L222.4,925.8 L223.7,927.6 L225.1,929.3 L226.4,930.8 L227.7,932.2 L229,933.3 L230.3,934.2 L231.6,934.9 L232.9,935.5 L234.2,935.9 L235.5,936.3 L236.8,936.5 L238.1,936.7 Z" fill="#dcf2e0" stroke="#b8e8c0" stroke-width="1.2" opacity="0.85"/>
<path d="M214.8,937 L216.2,936.4 L217.6,935.7 L219,934.6 L220.4,933.3 L221.7,931.4 L223.1,929.1 L224.5,926.2 L225.9,922.6 L227.2,918.4 L228.6,913.5 L230,908.1 L231.4,902.3 L232.8,896.2 L234.1,890.1 L235.5,884.2 L236.9,878.8 L238.3,874.3 L239.6,870.9 L241,868.7 L242.4,868 L243.8,868.7 L245.2,870.9 L246.5,874.3 L247.9,878.8 L249.3,884.2 L250.7,890.1 L252,896.2 L253.4,902.3 L254.8,908.1 L256.2,913.5 L257.6,918.4 L258.9,922.6 L260.3,926.2 L261.7,929.1 L263.1,931.4 L264.4,933.3 L265.8,934.6 L267.2,935.7 L268.6,936.4 L269.9,937 Z" fill="#f8d4d6" stroke="#f0a8b0" stroke-width="1.2" opacity="0.85"/>
<line x1="96" y1="933.8" x2="272" y2="938.8" stroke="#f06010" stroke-width="3.2"/>
<path d="M45.6,932.4 L51.5,932.7 L60.1,933.1 L70,933.6 L80.1,934 L89.1,934.1 L95.8,933.8 L100,933 L102.5,931.8 L104,930.4 L104.9,928.8 L105.7,927.1 L107,925.4 L108.6,923.6 L110.1,921.7 L111.5,919.7 L112.8,917.7 L114.1,915.9 L115.4,914.2 L116.6,912.6 L117.7,910.9 L118.8,909.4 L119.9,908.1 L121.1,907.3 L122.4,907.2 L123.9,907.8 L125.4,909.1 L127.1,910.8 L128.8,912.8 L130.4,914.9 L132.1,917 L133.7,919.2 L135.4,921.8 L137,924.4 L138.6,927 L140.3,929.3 L141.9,931 L143.5,932.2 L145,933 L146.5,933.5 L148.1,933.8 L149.8,933.9 L151.7,933.8 L153.7,933.6 L155.8,933.1 L158,932.5 L160.4,931.7 L162.9,930.7 L165.6,929.6 L168.5,928.3 L171.7,926.9 L175.1,925.2 L178.5,923.5 L181.9,921.7 L185.2,919.8 L188.5,917.7 L191.8,915.4 L195.1,913 L198.4,910.7 L201.6,908.7 L204.7,907.2 L207.8,906.4 L210.8,906.2 L213.8,906.2 L216.6,906.4 L219.2,906.3 L221.5,905.8 L223.4,905 L225,904.1 L226.3,903 L227.5,901.6 L228.7,899.8 L229.8,897.5 L230.9,894.4 L231.8,890.6 L232.7,886.3 L233.5,882 L234.4,878.2 L235.4,875.1 L236.5,872.7 L237.5,870.6 L238.6,868.9 L239.8,867.6 L241.1,866.9 L242.4,866.8 L243.9,867.3 L245.5,868.2 L247.2,869.7 L248.9,871.8 L250.6,874.5 L252.2,877.9 L253.7,882.3 L255.1,887.9 L256.5,894.1 L257.9,900.4 L259.2,906.4 L260.6,911.4 L261.9,915.6 L263.2,919.4 L264.4,922.9 L265.7,925.9 L267.2,928.6 L268.9,931 L270.7,932.9 L272.5,934.4 L274.5,935.6 L276.8,936.5 L279.6,937.2 L282.9,937.9 L287.3,938.5 L292.9,938.8 L298.8,939 L304.6,939.1 L309.5,939.2 L313,939.3" fill="none" stroke="#202020" stroke-width="4.9" stroke-linejoin="round" stroke-linecap="round"/><path d="M45.6,932.4 L51.5,932.7 L60.1,933.1 L70,933.6 L80.1,934 L89.1,934.1 L95.8,933.8 L100,933 L102.5,931.8 L104,930.4 L104.9,928.8 L105.7,927.1 L107,925.4 L108.6,923.6 L110.1,921.7 L111.5,919.7 L112.8,917.7 L114.1,915.9 L115.4,914.2 L116.6,912.6 L117.7,910.9 L118.8,909.4 L119.9,908.1 L121.1,907.3 L122.4,907.2 L123.9,907.8 L125.4,909.1 L127.1,910.8 L128.8,912.8 L130.4,914.9 L132.1,917 L133.7,919.2 L135.4,921.8 L137,924.4 L138.6,927 L140.3,929.3 L141.9,931 L143.5,932.2 L145,933 L146.5,933.5 L148.1,933.8 L149.8,933.9 L151.7,933.8 L153.7,933.6 L155.8,933.1 L158,932.5 L160.4,931.7 L162.9,930.7 L165.6,929.6 L168.5,928.3 L171.7,926.9 L175.1,925.2 L178.5,923.5 L181.9,921.7 L185.2,919.8 L188.5,917.7 L191.8,915.4 L195.1,913 L198.4,910.7 L201.6,908.7 L204.7,907.2 L207.8,906.4 L210.8,906.2 L213.8,906.2 L216.6,906.4 L219.2,906.3 L221.5,905.8 L223.4,905 L225,904.1 L226.3,903 L227.5,901.6 L228.7,899.8 L229.8,897.5 L230.9,894.4 L231.8,890.6 L232.7,886.3 L233.5,882 L234.4,878.2 L235.4,875.1 L236.5,872.7 L237.5,870.6 L238.6,868.9 L239.8,867.6 L241.1,866.9 L242.4,866.8 L243.9,867.3 L245.5,868.2 L247.2,869.7 L248.9,871.8 L250.6,874.5 L252.2,877.9 L253.7,882.3 L255.1,887.9 L256.5,894.1 L257.9,900.4 L259.2,906.4 L260.6,911.4 L261.9,915.6 L263.2,919.4 L264.4,922.9 L265.7,925.9 L267.2,928.6 L268.9,931 L270.7,932.9 L272.5,934.4 L274.5,935.6 L276.8,936.5 L279.6,937.2 L282.9,937.9 L287.3,938.5 L292.9,938.8 L298.8,939 L304.6,939.1 L309.5,939.2 L313,939.3" fill="none" stroke="#bdbdbd" stroke-width="1.7" stroke-dasharray="0 3.8" stroke-linecap="round" transform="translate(-0.3,-0.5)"/>
<path d="M101.2,1038.2 L102.3,1038 L103.4,1037.8 L104.5,1037.5 L105.6,1037.1 L106.7,1036.5 L107.8,1035.8 L108.9,1034.9 L110,1033.9 L111,1032.6 L112.1,1031.2 L113.2,1029.5 L114.3,1027.8 L115.4,1026 L116.5,1024.1 L117.6,1022.4 L118.7,1020.8 L119.7,1019.4 L120.8,1018.4 L121.9,1017.7 L123,1017.5 L124.1,1017.7 L125.2,1018.4 L126.3,1019.4 L127.3,1020.8 L128.4,1022.4 L129.5,1024.1 L130.6,1026 L131.7,1027.8 L132.8,1029.5 L133.9,1031.2 L135,1032.6 L136.1,1033.9 L137.1,1034.9 L138.2,1035.8 L139.3,1036.5 L140.4,1037.1 L141.5,1037.5 L142.6,1037.8 L143.7,1038 L144.8,1038.2 Z" fill="#ecc8f0" stroke="#e0a8e8" stroke-width="1.2" opacity="0.85"/>
<path d="M146.7,1039.7 L149.2,1039.6 L151.6,1039.4 L154.1,1039.1 L156.6,1038.8 L159,1038.3 L161.5,1037.7 L164,1037 L166.4,1036 L168.9,1035 L171.3,1033.7 L173.8,1032.3 L176.3,1030.8 L178.7,1029.2 L181.2,1027.7 L183.7,1026.2 L186.1,1024.8 L188.6,1023.6 L191.1,1022.7 L193.5,1022.2 L196,1022 L198.5,1022.2 L200.9,1022.7 L203.4,1023.6 L205.9,1024.8 L208.3,1026.2 L210.8,1027.7 L213.3,1029.2 L215.7,1030.8 L218.2,1032.3 L220.7,1033.7 L223.1,1035 L225.6,1036 L228,1037 L230.5,1037.7 L233,1038.3 L235.4,1038.8 L237.9,1039.1 L240.4,1039.4 L242.8,1039.6 L245.3,1039.7 Z" fill="#dcedfa" stroke="#a8d8f6" stroke-width="1.2" opacity="0.85"/>
<path d="M184,1040.6 L185.4,1040.4 L186.9,1040.1 L188.3,1039.8 L189.8,1039.2 L191.2,1038.6 L192.7,1037.7 L194.2,1036.6 L195.6,1035.3 L197.1,1033.7 L198.5,1031.9 L199.9,1029.9 L201.4,1027.7 L202.8,1025.5 L204.3,1023.2 L205.8,1021 L207.2,1019 L208.7,1017.3 L210.1,1016.1 L211.6,1015.3 L213,1015 L214.4,1015.3 L215.9,1016.1 L217.3,1017.3 L218.8,1019 L220.2,1021 L221.7,1023.2 L223.2,1025.5 L224.6,1027.7 L226.1,1029.9 L227.5,1031.9 L228.9,1033.7 L230.4,1035.3 L231.8,1036.6 L233.3,1037.7 L234.8,1038.6 L236.2,1039.2 L237.7,1039.8 L239.1,1040.1 L240.6,1040.4 L242,1040.6 Z" fill="#dcf2e0" stroke="#b8e8c0" stroke-width="1.2" opacity="0.85"/>
<path d="M216.2,1040.9 L217.6,1040.3 L219,1039.5 L220.4,1038.4 L221.8,1036.9 L223.1,1035 L224.5,1032.4 L225.9,1029.3 L227.3,1025.5 L228.6,1021 L230,1015.8 L231.4,1010 L232.8,1003.7 L234.2,997.2 L235.5,990.6 L236.9,984.3 L238.3,978.6 L239.7,973.8 L241,970.1 L242.4,967.8 L243.8,967 L245.2,967.8 L246.6,970.1 L247.9,973.8 L249.3,978.6 L250.7,984.3 L252.1,990.6 L253.4,997.2 L254.8,1003.7 L256.2,1010 L257.6,1015.8 L259,1021 L260.3,1025.5 L261.7,1029.3 L263.1,1032.4 L264.5,1035 L265.8,1036.9 L267.2,1038.4 L268.6,1039.5 L270,1040.3 L271.4,1040.9 Z" fill="#f8d4d6" stroke="#f0a8b0" stroke-width="1.2" opacity="0.85"/>
<line x1="96" y1="1038" x2="272" y2="1042.5" stroke="#f06010" stroke-width="3.2"/>
<path d="M45.6,1037.1 L51.5,1037.3 L60.1,1037.7 L70,1038.2 L80.1,1038.5 L89.1,1038.5 L95.8,1038 L99.9,1037 L102.4,1035.6 L103.8,1033.9 L104.6,1032 L105.5,1030 L107,1028.2 L109.1,1026.3 L111.4,1024.2 L113.7,1022 L116,1020 L118,1018.2 L119.6,1017 L120.7,1016.2 L121.5,1015.8 L122,1015.7 L122.4,1015.9 L123,1016.3 L123.8,1017 L124.9,1018 L126.2,1019.5 L127.5,1021.2 L129,1023.1 L130.5,1025 L132.1,1026.8 L133.8,1028.7 L135.5,1030.8 L137.3,1033 L139.3,1035 L141.2,1036.8 L143.3,1038 L145.4,1038.7 L147.5,1039.1 L149.6,1039.1 L151.9,1038.9 L154.5,1038.5 L157.3,1038 L160.5,1037.4 L164,1036.5 L167.8,1035.5 L171.7,1034.3 L175.6,1032.8 L179.6,1031 L183.8,1028.6 L188.4,1025.5 L193,1022.2 L197.5,1019 L201.5,1016.2 L204.7,1014.2 L207.1,1013.1 L208.7,1012.7 L209.9,1012.7 L210.9,1013 L211.9,1013.4 L213.1,1013.7 L214.5,1014.2 L216,1015.1 L217.5,1016 L218.9,1016.8 L220.3,1017.2 L221.5,1017 L222.6,1016.2 L223.4,1015.1 L224.2,1013.6 L225.1,1011.6 L225.9,1009 L227,1005.8 L228.2,1001.4 L229.6,995.8 L231,989.6 L232.5,983.4 L234,977.9 L235.4,973.7 L236.8,970.7 L238.2,968.3 L239.6,966.6 L241,965.5 L242.4,965.1 L243.8,965.4 L245.2,966.4 L246.6,968.1 L248,970.4 L249.4,973.4 L250.8,976.8 L252.2,980.7 L253.6,985.3 L255,990.9 L256.4,996.9 L257.8,1003.1 L259.2,1009 L260.6,1014.2 L261.9,1019 L263.2,1023.6 L264.4,1027.9 L265.7,1031.9 L267.2,1035.3 L268.9,1038 L270.7,1039.9 L272.5,1041 L274.5,1041.5 L276.8,1041.7 L279.6,1041.8 L282.9,1042.1 L287.3,1042.4 L292.9,1042.6 L298.8,1042.7 L304.6,1042.7 L309.5,1042.7 L313,1042.7" fill="none" stroke="#202020" stroke-width="4.9" stroke-linejoin="round" stroke-linecap="round"/><path d="M45.6,1037.1 L51.5,1037.3 L60.1,1037.7 L70,1038.2 L80.1,1038.5 L89.1,1038.5 L95.8,1038 L99.9,1037 L102.4,1035.6 L103.8,1033.9 L104.6,1032 L105.5,1030 L107,1028.2 L109.1,1026.3 L111.4,1024.2 L113.7,1022 L116,1020 L118,1018.2 L119.6,1017 L120.7,1016.2 L121.5,1015.8 L122,1015.7 L122.4,1015.9 L123,1016.3 L123.8,1017 L124.9,1018 L126.2,1019.5 L127.5,1021.2 L129,1023.1 L130.5,1025 L132.1,1026.8 L133.8,1028.7 L135.5,1030.8 L137.3,1033 L139.3,1035 L141.2,1036.8 L143.3,1038 L145.4,1038.7 L147.5,1039.1 L149.6,1039.1 L151.9,1038.9 L154.5,1038.5 L157.3,1038 L160.5,1037.4 L164,1036.5 L167.8,1035.5 L171.7,1034.3 L175.6,1032.8 L179.6,1031 L183.8,1028.6 L188.4,1025.5 L193,1022.2 L197.5,1019 L201.5,1016.2 L204.7,1014.2 L207.1,1013.1 L208.7,1012.7 L209.9,1012.7 L210.9,1013 L211.9,1013.4 L213.1,1013.7 L214.5,1014.2 L216,1015.1 L217.5,1016 L218.9,1016.8 L220.3,1017.2 L221.5,1017 L222.6,1016.2 L223.4,1015.1 L224.2,1013.6 L225.1,1011.6 L225.9,1009 L227,1005.8 L228.2,1001.4 L229.6,995.8 L231,989.6 L232.5,983.4 L234,977.9 L235.4,973.7 L236.8,970.7 L238.2,968.3 L239.6,966.6 L241,965.5 L242.4,965.1 L243.8,965.4 L245.2,966.4 L246.6,968.1 L248,970.4 L249.4,973.4 L250.8,976.8 L252.2,980.7 L253.6,985.3 L255,990.9 L256.4,996.9 L257.8,1003.1 L259.2,1009 L260.6,1014.2 L261.9,1019 L263.2,1023.6 L264.4,1027.9 L265.7,1031.9 L267.2,1035.3 L268.9,1038 L270.7,1039.9 L272.5,1041 L274.5,1041.5 L276.8,1041.7 L279.6,1041.8 L282.9,1042.1 L287.3,1042.4 L292.9,1042.6 L298.8,1042.7 L304.6,1042.7 L309.5,1042.7 L313,1042.7" fill="none" stroke="#bdbdbd" stroke-width="1.7" stroke-dasharray="0 3.8" stroke-linecap="round" transform="translate(-0.3,-0.5)"/>
<path d="M100.7,1138.4 L101.7,1138.4 L102.7,1138.3 L103.7,1138.3 L104.8,1138.2 L105.8,1138 L106.8,1137.9 L107.8,1137.7 L108.8,1137.4 L109.8,1137.1 L110.9,1136.8 L111.9,1136.4 L112.9,1135.9 L113.9,1135.5 L114.9,1135.1 L115.9,1134.7 L116.9,1134.3 L118,1134 L119,1133.7 L120,1133.6 L121,1133.5 L122,1133.6 L123,1133.7 L124,1134 L125.1,1134.3 L126.1,1134.7 L127.1,1135.1 L128.1,1135.5 L129.1,1135.9 L130.1,1136.4 L131.2,1136.8 L132.2,1137.1 L133.2,1137.4 L134.2,1137.7 L135.2,1137.9 L136.2,1138 L137.2,1138.2 L138.3,1138.3 L139.3,1138.3 L140.3,1138.4 L141.3,1138.4 Z" fill="#f4c8d8" stroke="#e8a0b0" stroke-width="1.2" opacity="0.85"/>
<path d="M152.3,1138.8 L154.2,1138.7 L156.1,1138.6 L158,1138.4 L159.8,1138.2 L161.7,1137.9 L163.6,1137.5 L165.5,1137 L167.4,1136.4 L169.3,1135.6 L171.2,1134.8 L173,1133.9 L174.9,1132.9 L176.8,1131.8 L178.7,1130.8 L180.6,1129.8 L182.5,1128.9 L184.3,1128.1 L186.2,1127.5 L188.1,1127.1 L190,1127 L191.9,1127.1 L193.8,1127.5 L195.7,1128.1 L197.5,1128.9 L199.4,1129.8 L201.3,1130.8 L203.2,1131.8 L205.1,1132.9 L207,1133.9 L208.8,1134.8 L210.7,1135.6 L212.6,1136.4 L214.5,1137 L216.4,1137.5 L218.3,1137.9 L220.2,1138.2 L222,1138.4 L223.9,1138.6 L225.8,1138.7 L227.7,1138.8 Z" fill="#dcedfa" stroke="#a8d8f6" stroke-width="1.2" opacity="0.85"/>
<path d="M184,1139.7 L185.4,1139.5 L186.9,1139.3 L188.3,1138.9 L189.8,1138.5 L191.2,1137.9 L192.7,1137.2 L194.2,1136.3 L195.6,1135.2 L197.1,1133.8 L198.5,1132.3 L199.9,1130.6 L201.4,1128.8 L202.8,1126.9 L204.3,1124.9 L205.8,1123.1 L207.2,1121.4 L208.7,1120 L210.1,1118.9 L211.6,1118.2 L213,1118 L214.4,1118.2 L215.9,1118.9 L217.3,1120 L218.8,1121.4 L220.2,1123.1 L221.7,1124.9 L223.2,1126.9 L224.6,1128.8 L226.1,1130.6 L227.5,1132.3 L228.9,1133.8 L230.4,1135.2 L231.8,1136.3 L233.3,1137.2 L234.8,1137.9 L236.2,1138.5 L237.7,1138.9 L239.1,1139.3 L240.6,1139.5 L242,1139.7 Z" fill="#dcf2e0" stroke="#b8e8c0" stroke-width="1.2" opacity="0.85"/>
<path d="M214.8,1139.4 L216.2,1138.8 L217.6,1138 L219,1137 L220.4,1135.5 L221.7,1133.5 L223.1,1131.1 L224.5,1128 L225.9,1124.2 L227.2,1119.8 L228.6,1114.6 L230,1108.9 L231.4,1102.7 L232.8,1096.3 L234.1,1089.8 L235.5,1083.6 L236.9,1078 L238.3,1073.2 L239.6,1069.5 L241,1067.3 L242.4,1066.5 L243.8,1067.3 L245.2,1069.5 L246.5,1073.2 L247.9,1078 L249.3,1083.6 L250.7,1089.8 L252,1096.3 L253.4,1102.7 L254.8,1108.9 L256.2,1114.6 L257.6,1119.8 L258.9,1124.2 L260.3,1128 L261.7,1131.1 L263.1,1133.5 L264.4,1135.5 L265.8,1137 L267.2,1138 L268.6,1138.8 L269.9,1139.4 Z" fill="#f8d4d6" stroke="#f0a8b0" stroke-width="1.2" opacity="0.85"/>
<line x1="101" y1="1138.8" x2="272" y2="1141" stroke="#f06010" stroke-width="3.2"/>
<path d="M45.6,1137.1 L52.2,1137.4 L61.7,1137.8 L72.8,1138.3 L84,1138.7 L94,1138.9 L101.4,1138.8 L105.9,1138.3 L108.5,1137.5 L110,1136.6 L110.7,1135.6 L111.4,1134.6 L112.6,1133.8 L114.2,1133.1 L115.6,1132.5 L117,1131.9 L118.3,1131.4 L119.6,1131.1 L121,1131 L122.4,1131.1 L123.7,1131.5 L125,1132 L126.3,1132.6 L127.8,1133.2 L129.3,1133.8 L130.9,1134.5 L132.5,1135.3 L134.2,1136.1 L136,1136.9 L138.1,1137.5 L140.5,1137.9 L143.3,1138 L146.6,1138 L150.1,1137.8 L153.6,1137.5 L157,1137 L160,1136.5 L162.7,1135.8 L165.2,1135 L167.5,1134 L169.7,1133 L171.9,1132 L174,1131 L176,1130 L177.9,1129 L179.8,1127.9 L181.6,1127 L183.4,1126.1 L185.2,1125.4 L187.1,1125 L188.9,1124.8 L190.7,1124.8 L192.6,1124.7 L194.4,1124.5 L196.3,1124 L198.2,1123.1 L200.2,1121.9 L202.2,1120.5 L204.2,1119.1 L206,1117.9 L207.5,1117 L208.7,1116.4 L209.6,1116 L210.4,1115.8 L211.1,1115.7 L212,1115.6 L213.1,1115.6 L214.5,1115.8 L216.2,1116.4 L217.9,1117.1 L219.7,1117.6 L221.4,1117.6 L222.9,1117 L224.2,1115.8 L225.4,1114.1 L226.5,1112 L227.6,1109.5 L228.7,1106.5 L229.8,1103 L231,1098.6 L232.2,1093.1 L233.4,1087.2 L234.6,1081.4 L235.7,1076.2 L236.8,1072.3 L237.8,1069.6 L238.7,1067.6 L239.5,1066.3 L240.4,1065.6 L241.3,1065.3 L242.4,1065.4 L243.6,1065.7 L244.9,1066.3 L246.3,1067.4 L247.8,1069.1 L249.3,1071.6 L250.8,1075.1 L252.4,1080.1 L254.1,1086.6 L255.9,1093.9 L257.6,1101.3 L259.2,1108.3 L260.6,1114.2 L261.7,1119.1 L262.4,1123.5 L263.1,1127.5 L263.8,1131 L264.7,1134 L266.1,1136.5 L267.7,1138.3 L269.4,1139.3 L271.4,1139.9 L273.7,1140.1 L276.6,1140.3 L280.1,1140.7 L284.9,1141.2 L290.9,1141.6 L297.4,1142 L303.8,1142.3 L309.2,1142.5 L313,1142.7" fill="none" stroke="#202020" stroke-width="4.9" stroke-linejoin="round" stroke-linecap="round"/><path d="M45.6,1137.1 L52.2,1137.4 L61.7,1137.8 L72.8,1138.3 L84,1138.7 L94,1138.9 L101.4,1138.8 L105.9,1138.3 L108.5,1137.5 L110,1136.6 L110.7,1135.6 L111.4,1134.6 L112.6,1133.8 L114.2,1133.1 L115.6,1132.5 L117,1131.9 L118.3,1131.4 L119.6,1131.1 L121,1131 L122.4,1131.1 L123.7,1131.5 L125,1132 L126.3,1132.6 L127.8,1133.2 L129.3,1133.8 L130.9,1134.5 L132.5,1135.3 L134.2,1136.1 L136,1136.9 L138.1,1137.5 L140.5,1137.9 L143.3,1138 L146.6,1138 L150.1,1137.8 L153.6,1137.5 L157,1137 L160,1136.5 L162.7,1135.8 L165.2,1135 L167.5,1134 L169.7,1133 L171.9,1132 L174,1131 L176,1130 L177.9,1129 L179.8,1127.9 L181.6,1127 L183.4,1126.1 L185.2,1125.4 L187.1,1125 L188.9,1124.8 L190.7,1124.8 L192.6,1124.7 L194.4,1124.5 L196.3,1124 L198.2,1123.1 L200.2,1121.9 L202.2,1120.5 L204.2,1119.1 L206,1117.9 L207.5,1117 L208.7,1116.4 L209.6,1116 L210.4,1115.8 L211.1,1115.7 L212,1115.6 L213.1,1115.6 L214.5,1115.8 L216.2,1116.4 L217.9,1117.1 L219.7,1117.6 L221.4,1117.6 L222.9,1117 L224.2,1115.8 L225.4,1114.1 L226.5,1112 L227.6,1109.5 L228.7,1106.5 L229.8,1103 L231,1098.6 L232.2,1093.1 L233.4,1087.2 L234.6,1081.4 L235.7,1076.2 L236.8,1072.3 L237.8,1069.6 L238.7,1067.6 L239.5,1066.3 L240.4,1065.6 L241.3,1065.3 L242.4,1065.4 L243.6,1065.7 L244.9,1066.3 L246.3,1067.4 L247.8,1069.1 L249.3,1071.6 L250.8,1075.1 L252.4,1080.1 L254.1,1086.6 L255.9,1093.9 L257.6,1101.3 L259.2,1108.3 L260.6,1114.2 L261.7,1119.1 L262.4,1123.5 L263.1,1127.5 L263.8,1131 L264.7,1134 L266.1,1136.5 L267.7,1138.3 L269.4,1139.3 L271.4,1139.9 L273.7,1140.1 L276.6,1140.3 L280.1,1140.7 L284.9,1141.2 L290.9,1141.6 L297.4,1142 L303.8,1142.3 L309.2,1142.5 L313,1142.7" fill="none" stroke="#bdbdbd" stroke-width="1.7" stroke-dasharray="0 3.8" stroke-linecap="round" transform="translate(-0.3,-0.5)"/>
<rect x="44.6" y="855.6" width="270.6" height="297.3" fill="none" stroke="#000" stroke-width="3.9"/><line x1="44.6" y1="954" x2="315.2" y2="954" stroke="#000" stroke-width="3.9"/><line x1="44.6" y1="1055" x2="315.2" y2="1055" stroke="#000" stroke-width="3.9"/>
<line x1="45.5" y1="1152.9" x2="45.5" y2="1155.9" stroke="#000" stroke-width="3.1"/>
<line x1="75.3" y1="1152.9" x2="75.3" y2="1158.9" stroke="#000" stroke-width="3.1"/>
<line x1="105.1" y1="1152.9" x2="105.1" y2="1155.9" stroke="#000" stroke-width="3.1"/>
<line x1="134.9" y1="1152.9" x2="134.9" y2="1158.9" stroke="#000" stroke-width="3.1"/>
<line x1="164.7" y1="1152.9" x2="164.7" y2="1155.9" stroke="#000" stroke-width="3.1"/>
<line x1="194.5" y1="1152.9" x2="194.5" y2="1158.9" stroke="#000" stroke-width="3.1"/>
<line x1="224.3" y1="1152.9" x2="224.3" y2="1155.9" stroke="#000" stroke-width="3.1"/>
<line x1="254.1" y1="1152.9" x2="254.1" y2="1158.9" stroke="#000" stroke-width="3.1"/>
<line x1="283.9" y1="1152.9" x2="283.9" y2="1155.9" stroke="#000" stroke-width="3.1"/>
<line x1="313.7" y1="1152.9" x2="313.7" y2="1158.9" stroke="#000" stroke-width="3.1"/>
<text id="tx69" x="75.3" y="1177.6" font-family='"Liberation Serif", serif' font-size="17.50" font-weight="bold" text-anchor="middle" fill="#111">296</text>
<text id="tx70" x="134.9" y="1177.6" font-family='"Liberation Serif", serif' font-size="17.50" font-weight="bold" text-anchor="middle" fill="#111">292</text>
<text id="tx71" x="194.5" y="1177.6" font-family='"Liberation Serif", serif' font-size="17.50" font-weight="bold" text-anchor="middle" fill="#111">288</text>
<text id="tx72" x="254.1" y="1177.6" font-family='"Liberation Serif", serif' font-size="17.50" font-weight="bold" text-anchor="middle" fill="#111">284</text>
<text id="tx73" x="313.7" y="1177.6" font-family='"Liberation Serif", serif' font-size="17.50" font-weight="bold" text-anchor="middle" fill="#111">280</text>
<text id="tx74" x="88.8" y="1203" font-family='"Liberation Serif", serif' font-size="21.30" font-weight="bold" text-anchor="start" fill="#111" textLength="182.4" lengthAdjust="spacingAndGlyphs">Binding energy (eV)</text>
<text id="tx75" x="25.3" y="1082.6" font-family='"Liberation Serif", serif' font-size="21.42" font-weight="bold" text-anchor="start" fill="#111" transform="rotate(-90 25.3 1082.6)" textLength="132.9" lengthAdjust="spacingAndGlyphs">Intensity (a.u.)</text>
<text id="tx76" x="51.2" y="876.5" font-family='"Liberation Serif", serif' font-size="16.79" font-weight="bold" text-anchor="start" fill="#111" textLength="30.7" lengthAdjust="spacingAndGlyphs">C 1s</text>
<text id="tx77" x="91.6" y="890.5" font-family='"Liberation Serif", serif' font-size="14.46" font-weight="normal" text-anchor="start" fill="#444" textLength="21.5" lengthAdjust="spacingAndGlyphs">C-F</text>
<text id="tx78" x="162.8" y="907.2" font-family='"Liberation Serif", serif' font-size="13.20" font-weight="normal" text-anchor="start" fill="#444" textLength="25.2" lengthAdjust="spacingAndGlyphs">C=O</text>
<text id="tx79" x="176.8" y="889" font-family='"Liberation Serif", serif' font-size="13.66" font-weight="normal" text-anchor="start" fill="#444" textLength="53" lengthAdjust="spacingAndGlyphs">C-O, C-N</text>
<text id="tx80" x="257.8" y="900" font-family='"Liberation Serif", serif' font-size="13.90" font-weight="normal" text-anchor="start" fill="#444" textLength="53" lengthAdjust="spacingAndGlyphs">C-C, C-H</text>
<text id="tx81" x="51.2" y="926" font-family='"Liberation Serif", serif' font-size="15.31" font-weight="normal" text-anchor="start" fill="#444" textLength="43.2" lengthAdjust="spacingAndGlyphs">C 2.5V</text>
<text id="tx82" x="51.2" y="1031" font-family='"Liberation Serif", serif' font-size="14.33" font-weight="normal" text-anchor="start" fill="#444" textLength="41.8" lengthAdjust="spacingAndGlyphs">D 1.5V</text>
<text id="tx83" x="51.2" y="1131.5" font-family='"Liberation Serif", serif' font-size="14.27" font-weight="normal" text-anchor="start" fill="#444" textLength="48.8" lengthAdjust="spacingAndGlyphs">D 0.01V</text>
<line x1="109.8" y1="889" x2="118.3" y2="906" stroke="#f050e0" stroke-width="1.5"/><path d="M121,911.4 L115.6,907.4 L121,904.7 Z" fill="#f050e0"/>
<line x1="176.8" y1="910" x2="191.2" y2="927.7" stroke="#2090e0" stroke-width="1.5"/><path d="M195,932.4 L188.9,929.6 L193.5,925.9 Z" fill="#2090e0"/>
<line x1="204.7" y1="891.9" x2="212.1" y2="919.6" stroke="#10c020" stroke-width="1.5"/><path d="M213.6,925.4 L209.2,920.4 L215,918.8 Z" fill="#10c020"/>
<line x1="274.5" y1="904.4" x2="256.6" y2="921.3" stroke="#f06060" stroke-width="1.5"/><path d="M252.2,925.4 L254.5,919.1 L258.6,923.5 Z" fill="#f06060"/>
<text id="tx84" x="3.1" y="872.6" font-family='"Liberation Sans", sans-serif' font-size="28.50" font-weight="normal" text-anchor="start" fill="#111">e)</text>
<path d="M437.6,935.1 L441.4,934.6 L445.1,934 L448.9,933.1 L452.7,931.9 L456.5,930.3 L460.2,928.2 L464,925.7 L467.8,922.6 L471.5,918.9 L475.3,914.7 L479.1,910 L482.8,904.9 L486.6,899.6 L490.4,894.2 L494.1,889.1 L497.9,884.4 L501.7,880.5 L505.5,877.5 L509.2,875.6 L513,875 L516.8,875.6 L520.5,877.5 L524.3,880.5 L528.1,884.4 L531.9,889.1 L535.6,894.2 L539.4,899.6 L543.2,904.9 L546.9,910 L550.7,914.7 L554.5,918.9 L558.2,922.6 L562,925.7 L565.8,928.2 L569.5,930.3 L573.3,931.9 L577.1,933.1 L580.9,934 L584.6,934.6 L588.4,935.1 Z" fill="#dcedfa" stroke="#a8d8f6" stroke-width="1.2" opacity="0.85"/>
<path d="M502.8,935.1 L505.1,934.9 L507.4,934.6 L509.8,934.2 L512.1,933.6 L514.4,932.9 L516.7,931.9 L519,930.8 L521.4,929.3 L523.7,927.7 L526,925.7 L528.3,923.6 L530.6,921.2 L533,918.8 L535.3,916.3 L537.6,914 L539.9,911.8 L542.2,910 L544.6,908.7 L546.9,907.8 L549.2,907.5 L551.5,907.8 L553.8,908.7 L556.2,910 L558.5,911.8 L560.8,914 L563.1,916.3 L565.4,918.8 L567.8,921.2 L570.1,923.6 L572.4,925.7 L574.7,927.7 L577,929.3 L579.4,930.8 L581.7,931.9 L584,932.9 L586.3,933.6 L588.6,934.2 L591,934.6 L593.3,934.9 L595.6,935.1 Z" fill="#f0d0e4" stroke="#f0a8b0" stroke-width="1.2" opacity="0.85"/>
<line x1="378.7" y1="938.2" x2="601" y2="939" stroke="#f06010" stroke-width="3.2"/>
<path d="M378.7,935.3 L380.9,935.3 L384,935.3 L387.6,935.2 L391.6,935.2 L395.8,935.1 L400,935 L404.3,934.9 L409,934.9 L413.8,934.8 L418.6,934.7 L423.4,934.4 L427.8,933.8 L432,933 L436,932.1 L439.9,930.9 L443.7,929.7 L447.4,928.2 L451,926.6 L454.5,924.9 L458,923.2 L461.3,921.3 L464.6,919.1 L467.9,916.6 L471.2,913.6 L474.6,909.9 L478,905.6 L481.5,900.9 L484.9,896.1 L488.2,891.6 L491.4,887.6 L494.5,884.1 L497.4,880.8 L500.3,877.7 L503.1,874.9 L505.9,872.4 L508.8,870.2 L511.7,868.3 L514.7,866.7 L517.6,865.3 L520.5,864.3 L523.4,863.5 L526.1,863 L528.7,862.7 L531.1,862.7 L533.5,863 L535.9,863.6 L538.2,864.5 L540.6,865.9 L543,867.7 L545.3,869.9 L547.6,872.4 L550,875.3 L552.4,878.4 L555,881.8 L557.7,885.6 L560.6,889.9 L563.5,894.5 L566.5,899.2 L569.5,903.7 L572.4,907.8 L575.3,911.6 L578.2,915.4 L581.1,919 L583.9,922.4 L586.8,925.5 L589.7,928.1 L592.3,930.3 L594.6,932 L596.9,933.5 L599.5,934.7 L602.8,935.7 L607,936.7 L612.9,937.5 L620.3,938.2 L628.3,938.7 L636.1,939.1 L642.8,939.4 L647.5,939.6" fill="none" stroke="#202020" stroke-width="4.9" stroke-linejoin="round" stroke-linecap="round"/><path d="M378.7,935.3 L380.9,935.3 L384,935.3 L387.6,935.2 L391.6,935.2 L395.8,935.1 L400,935 L404.3,934.9 L409,934.9 L413.8,934.8 L418.6,934.7 L423.4,934.4 L427.8,933.8 L432,933 L436,932.1 L439.9,930.9 L443.7,929.7 L447.4,928.2 L451,926.6 L454.5,924.9 L458,923.2 L461.3,921.3 L464.6,919.1 L467.9,916.6 L471.2,913.6 L474.6,909.9 L478,905.6 L481.5,900.9 L484.9,896.1 L488.2,891.6 L491.4,887.6 L494.5,884.1 L497.4,880.8 L500.3,877.7 L503.1,874.9 L505.9,872.4 L508.8,870.2 L511.7,868.3 L514.7,866.7 L517.6,865.3 L520.5,864.3 L523.4,863.5 L526.1,863 L528.7,862.7 L531.1,862.7 L533.5,863 L535.9,863.6 L538.2,864.5 L540.6,865.9 L543,867.7 L545.3,869.9 L547.6,872.4 L550,875.3 L552.4,878.4 L555,881.8 L557.7,885.6 L560.6,889.9 L563.5,894.5 L566.5,899.2 L569.5,903.7 L572.4,907.8 L575.3,911.6 L578.2,915.4 L581.1,919 L583.9,922.4 L586.8,925.5 L589.7,928.1 L592.3,930.3 L594.6,932 L596.9,933.5 L599.5,934.7 L602.8,935.7 L607,936.7 L612.9,937.5 L620.3,938.2 L628.3,938.7 L636.1,939.1 L642.8,939.4 L647.5,939.6" fill="none" stroke="#bdbdbd" stroke-width="1.7" stroke-dasharray="0 3.8" stroke-linecap="round" transform="translate(-0.3,-0.5)"/>
<path d="M445,1035.8 L447,1035.7 L449.1,1035.6 L451.1,1035.4 L453.1,1035.1 L455.1,1034.8 L457.2,1034.3 L459.2,1033.8 L461.2,1033.1 L463.3,1032.4 L465.3,1031.5 L467.3,1030.5 L469.4,1029.4 L471.4,1028.2 L473.4,1027.1 L475.5,1026 L477.5,1025 L479.5,1024.2 L481.5,1023.5 L483.6,1023.1 L485.6,1023 L487.6,1023.1 L489.7,1023.5 L491.7,1024.2 L493.7,1025 L495.8,1026 L497.8,1027.1 L499.8,1028.2 L501.8,1029.4 L503.9,1030.5 L505.9,1031.5 L507.9,1032.4 L510,1033.1 L512,1033.8 L514,1034.3 L516.1,1034.8 L518.1,1035.1 L520.1,1035.4 L522.1,1035.6 L524.2,1035.7 L526.2,1035.8 Z" fill="#dcf2e0" stroke="#b8e8c0" stroke-width="1.2" opacity="0.85"/>
<path d="M466.7,1035.4 L469.3,1035.1 L471.9,1034.7 L474.5,1034.2 L477.1,1033.4 L479.8,1032.4 L482.4,1031.2 L485,1029.6 L487.6,1027.6 L490.2,1025.3 L492.8,1022.7 L495.4,1019.8 L498,1016.6 L500.6,1013.3 L503.2,1010 L505.9,1006.8 L508.5,1003.9 L511.1,1001.4 L513.7,999.6 L516.3,998.4 L518.9,998 L521.5,998.4 L524.1,999.6 L526.7,1001.4 L529.3,1003.9 L532,1006.8 L534.6,1010 L537.2,1013.3 L539.8,1016.6 L542.4,1019.8 L545,1022.7 L547.6,1025.3 L550.2,1027.6 L552.8,1029.6 L555.4,1031.2 L558.1,1032.4 L560.7,1033.4 L563.3,1034.2 L565.9,1034.7 L568.5,1035.1 L571.1,1035.4 Z" fill="#dcedfa" stroke="#a8d8f6" stroke-width="1.2" opacity="0.85"/>
<path d="M492.7,1035.9 L495.3,1035.6 L497.9,1035.1 L500.5,1034.5 L503.1,1033.7 L505.8,1032.6 L508.4,1031.1 L511,1029.4 L513.6,1027.3 L516.2,1024.7 L518.8,1021.8 L521.4,1018.6 L524,1015.1 L526.6,1011.4 L529.2,1007.7 L531.9,1004.2 L534.5,1001 L537.1,998.3 L539.7,996.2 L542.3,994.9 L544.9,994.5 L547.5,994.9 L550.1,996.2 L552.7,998.3 L555.3,1001 L558,1004.2 L560.6,1007.7 L563.2,1011.4 L565.8,1015.1 L568.4,1018.6 L571,1021.8 L573.6,1024.7 L576.2,1027.3 L578.8,1029.4 L581.4,1031.1 L584.1,1032.6 L586.7,1033.7 L589.3,1034.5 L591.9,1035.1 L594.5,1035.6 L597.1,1035.9 Z" fill="#f4d0dc" stroke="#f0a8b0" stroke-width="1.2" opacity="0.85"/>
<line x1="378.7" y1="1036.8" x2="601" y2="1037.2" stroke="#f06010" stroke-width="3.2"/>
<path d="M378.7,1035.3 L381,1035.2 L384.3,1035.2 L388.1,1035.1 L392.2,1035 L396.3,1034.9 L400,1034.8 L403.4,1034.7 L406.7,1034.6 L409.9,1034.5 L413.2,1034.3 L416.5,1034.2 L420,1034 L423.7,1033.8 L427.6,1033.7 L431.5,1033.5 L435.4,1033.3 L439,1032.9 L442.3,1032.4 L445.2,1031.7 L447.8,1030.9 L450.2,1029.9 L452.4,1028.9 L454.6,1027.8 L456.7,1026.6 L458.7,1025.5 L460.6,1024.4 L462.3,1023.3 L464.1,1021.9 L466.1,1020.2 L468.3,1018 L470.9,1015.1 L473.6,1011.7 L476.6,1007.9 L479.6,1003.9 L482.6,1000 L485.6,996.3 L488.5,992.7 L491.4,989.1 L494.3,985.5 L497.2,982.1 L500.1,978.9 L503,976 L506,973.5 L509,971.2 L512,969.2 L515,967.4 L517.7,965.8 L520.3,964.5 L522.6,963.4 L524.6,962.6 L526.5,962.1 L528.2,961.7 L530,961.6 L531.9,961.6 L533.8,961.8 L535.7,962.1 L537.5,962.6 L539.4,963.3 L541.4,964.4 L543.5,965.9 L545.7,967.8 L548.1,970 L550.5,972.5 L553,975.3 L555.5,978.4 L557.9,981.8 L560.3,985.6 L562.7,990 L565.1,994.7 L567.6,999.4 L570,1003.8 L572.4,1007.8 L574.8,1011.3 L577.2,1014.5 L579.6,1017.5 L582,1020.3 L584.4,1022.8 L586.8,1025.2 L588.8,1027.4 L590.5,1029.4 L592.1,1031.3 L594.1,1032.8 L597,1034.2 L601.3,1035.3 L607.7,1036.1 L616.1,1036.5 L625.3,1036.6 L634.3,1036.7 L642.1,1036.6 L647.5,1036.7" fill="none" stroke="#202020" stroke-width="4.9" stroke-linejoin="round" stroke-linecap="round"/><path d="M378.7,1035.3 L381,1035.2 L384.3,1035.2 L388.1,1035.1 L392.2,1035 L396.3,1034.9 L400,1034.8 L403.4,1034.7 L406.7,1034.6 L409.9,1034.5 L413.2,1034.3 L416.5,1034.2 L420,1034 L423.7,1033.8 L427.6,1033.7 L431.5,1033.5 L435.4,1033.3 L439,1032.9 L442.3,1032.4 L445.2,1031.7 L447.8,1030.9 L450.2,1029.9 L452.4,1028.9 L454.6,1027.8 L456.7,1026.6 L458.7,1025.5 L460.6,1024.4 L462.3,1023.3 L464.1,1021.9 L466.1,1020.2 L468.3,1018 L470.9,1015.1 L473.6,1011.7 L476.6,1007.9 L479.6,1003.9 L482.6,1000 L485.6,996.3 L488.5,992.7 L491.4,989.1 L494.3,985.5 L497.2,982.1 L500.1,978.9 L503,976 L506,973.5 L509,971.2 L512,969.2 L515,967.4 L517.7,965.8 L520.3,964.5 L522.6,963.4 L524.6,962.6 L526.5,962.1 L528.2,961.7 L530,961.6 L531.9,961.6 L533.8,961.8 L535.7,962.1 L537.5,962.6 L539.4,963.3 L541.4,964.4 L543.5,965.9 L545.7,967.8 L548.1,970 L550.5,972.5 L553,975.3 L555.5,978.4 L557.9,981.8 L560.3,985.6 L562.7,990 L565.1,994.7 L567.6,999.4 L570,1003.8 L572.4,1007.8 L574.8,1011.3 L577.2,1014.5 L579.6,1017.5 L582,1020.3 L584.4,1022.8 L586.8,1025.2 L588.8,1027.4 L590.5,1029.4 L592.1,1031.3 L594.1,1032.8 L597,1034.2 L601.3,1035.3 L607.7,1036.1 L616.1,1036.5 L625.3,1036.6 L634.3,1036.7 L642.1,1036.6 L647.5,1036.7" fill="none" stroke="#bdbdbd" stroke-width="1.7" stroke-dasharray="0 3.8" stroke-linecap="round" transform="translate(-0.3,-0.5)"/>
<path d="M446.5,1139.6 L449,1139.3 L451.4,1139 L453.9,1138.6 L456.4,1138 L458.8,1137.2 L461.3,1136.2 L463.8,1134.9 L466.2,1133.4 L468.7,1131.6 L471.1,1129.5 L473.6,1127.2 L476.1,1124.7 L478.5,1122.1 L481,1119.5 L483.5,1116.9 L485.9,1114.6 L488.4,1112.7 L490.9,1111.2 L493.3,1110.3 L495.8,1110 L498.3,1110.3 L500.7,1111.2 L503.2,1112.7 L505.7,1114.6 L508.1,1116.9 L510.6,1119.5 L513.1,1122.1 L515.5,1124.7 L518,1127.2 L520.5,1129.5 L522.9,1131.6 L525.4,1133.4 L527.8,1134.9 L530.3,1136.2 L532.8,1137.2 L535.2,1138 L537.7,1138.6 L540.2,1139 L542.6,1139.3 L545.1,1139.6 Z" fill="#dcf2e0" stroke="#b8e8c0" stroke-width="1.2" opacity="0.85"/>
<path d="M491.2,1138.9 L493.9,1138.4 L496.6,1137.6 L499.3,1136.5 L502,1135.1 L504.7,1133.1 L507.3,1130.7 L510,1127.6 L512.7,1123.9 L515.4,1119.5 L518.1,1114.5 L520.8,1108.8 L523.4,1102.7 L526.1,1096.4 L528.8,1090 L531.5,1083.9 L534.2,1078.3 L536.9,1073.6 L539.5,1070 L542.2,1067.8 L544.9,1067 L547.6,1067.8 L550.3,1070 L552.9,1073.6 L555.6,1078.3 L558.3,1083.9 L561,1090 L563.7,1096.4 L566.4,1102.7 L569,1108.8 L571.7,1114.5 L574.4,1119.5 L577.1,1123.9 L579.8,1127.6 L582.5,1130.7 L585.1,1133.1 L587.8,1135.1 L590.5,1136.5 L593.2,1137.6 L595.9,1138.4 L598.5,1138.9 Z" fill="#f8d4d6" stroke="#f0a8b0" stroke-width="1.2" opacity="0.85"/>
<line x1="378.7" y1="1139.8" x2="615" y2="1141.2" stroke="#f06010" stroke-width="3.2"/>
<path d="M378.7,1138.2 L380.9,1138.2 L384,1138.1 L387.6,1138.1 L391.6,1138 L395.8,1137.9 L400,1137.8 L404.3,1137.7 L408.9,1137.6 L413.6,1137.5 L418.4,1137.3 L423.2,1137.1 L427.8,1136.7 L432.3,1136.2 L436.8,1135.7 L441.3,1135.1 L445.6,1134.4 L449.8,1133.5 L453.8,1132.4 L457.5,1131.1 L461.1,1129.7 L464.5,1128.1 L467.8,1126.3 L471,1124.4 L474.1,1122.3 L477.2,1120 L480.1,1117.3 L482.9,1114.5 L485.7,1111.7 L488.5,1108.9 L491.4,1106.4 L494.3,1104.1 L497.2,1101.9 L500.1,1099.7 L503,1097.6 L505.9,1095.5 L508.8,1093.4 L511.8,1091.2 L514.9,1089 L518,1086.8 L521,1084.6 L523.7,1082.5 L526.1,1080.4 L528,1078.3 L529.6,1076.2 L531,1074.2 L532.2,1072.3 L533.4,1070.4 L534.8,1068.8 L536.2,1067.3 L537.6,1065.9 L539,1064.6 L540.4,1063.5 L541.9,1062.6 L543.5,1062.1 L545.3,1061.8 L547.2,1061.8 L549.2,1062 L551.3,1062.5 L553.2,1063.3 L555,1064.5 L556.6,1066.2 L558.1,1068.3 L559.5,1070.8 L560.9,1073.4 L562.3,1076.2 L563.7,1078.9 L565.1,1081.6 L566.5,1084.3 L567.9,1087.1 L569.3,1090 L570.8,1093 L572.4,1096.3 L574.2,1099.9 L576,1103.9 L578,1108 L580,1112.1 L581.9,1116 L583.9,1119.4 L585.7,1122.4 L587.4,1125.1 L589.2,1127.6 L591,1129.8 L593.1,1131.9 L595.5,1133.8 L598.2,1135.5 L601.2,1137 L604.3,1138.2 L607.8,1139.3 L611.6,1140.3 L615.7,1141.1 L620.7,1141.8 L626.6,1142.2 L632.9,1142.6 L638.8,1142.8 L643.9,1142.9 L647.5,1143.1" fill="none" stroke="#202020" stroke-width="4.9" stroke-linejoin="round" stroke-linecap="round"/><path d="M378.7,1138.2 L380.9,1138.2 L384,1138.1 L387.6,1138.1 L391.6,1138 L395.8,1137.9 L400,1137.8 L404.3,1137.7 L408.9,1137.6 L413.6,1137.5 L418.4,1137.3 L423.2,1137.1 L427.8,1136.7 L432.3,1136.2 L436.8,1135.7 L441.3,1135.1 L445.6,1134.4 L449.8,1133.5 L453.8,1132.4 L457.5,1131.1 L461.1,1129.7 L464.5,1128.1 L467.8,1126.3 L471,1124.4 L474.1,1122.3 L477.2,1120 L480.1,1117.3 L482.9,1114.5 L485.7,1111.7 L488.5,1108.9 L491.4,1106.4 L494.3,1104.1 L497.2,1101.9 L500.1,1099.7 L503,1097.6 L505.9,1095.5 L508.8,1093.4 L511.8,1091.2 L514.9,1089 L518,1086.8 L521,1084.6 L523.7,1082.5 L526.1,1080.4 L528,1078.3 L529.6,1076.2 L531,1074.2 L532.2,1072.3 L533.4,1070.4 L534.8,1068.8 L536.2,1067.3 L537.6,1065.9 L539,1064.6 L540.4,1063.5 L541.9,1062.6 L543.5,1062.1 L545.3,1061.8 L547.2,1061.8 L549.2,1062 L551.3,1062.5 L553.2,1063.3 L555,1064.5 L556.6,1066.2 L558.1,1068.3 L559.5,1070.8 L560.9,1073.4 L562.3,1076.2 L563.7,1078.9 L565.1,1081.6 L566.5,1084.3 L567.9,1087.1 L569.3,1090 L570.8,1093 L572.4,1096.3 L574.2,1099.9 L576,1103.9 L578,1108 L580,1112.1 L581.9,1116 L583.9,1119.4 L585.7,1122.4 L587.4,1125.1 L589.2,1127.6 L591,1129.8 L593.1,1131.9 L595.5,1133.8 L598.2,1135.5 L601.2,1137 L604.3,1138.2 L607.8,1139.3 L611.6,1140.3 L615.7,1141.1 L620.7,1141.8 L626.6,1142.2 L632.9,1142.6 L638.8,1142.8 L643.9,1142.9 L647.5,1143.1" fill="none" stroke="#bdbdbd" stroke-width="1.7" stroke-dasharray="0 3.8" stroke-linecap="round" transform="translate(-0.3,-0.5)"/>
<rect x="376.8" y="855" width="273.6" height="295.5" fill="none" stroke="#000" stroke-width="3.9"/><line x1="376.8" y1="952.5" x2="650.4" y2="952.5" stroke="#000" stroke-width="3.9"/><line x1="376.8" y1="1054" x2="650.4" y2="1054" stroke="#000" stroke-width="3.9"/>
<line x1="378.7" y1="1150.5" x2="378.7" y2="1156.5" stroke="#000" stroke-width="3.1"/>
<line x1="405.7" y1="1150.5" x2="405.7" y2="1153.5" stroke="#000" stroke-width="3.1"/>
<line x1="432.8" y1="1150.5" x2="432.8" y2="1156.5" stroke="#000" stroke-width="3.1"/>
<line x1="459.8" y1="1150.5" x2="459.8" y2="1153.5" stroke="#000" stroke-width="3.1"/>
<line x1="486.8" y1="1150.5" x2="486.8" y2="1156.5" stroke="#000" stroke-width="3.1"/>
<line x1="513.9" y1="1150.5" x2="513.9" y2="1153.5" stroke="#000" stroke-width="3.1"/>
<line x1="540.9" y1="1150.5" x2="540.9" y2="1156.5" stroke="#000" stroke-width="3.1"/>
<line x1="567.9" y1="1150.5" x2="567.9" y2="1153.5" stroke="#000" stroke-width="3.1"/>
<line x1="594.9" y1="1150.5" x2="594.9" y2="1156.5" stroke="#000" stroke-width="3.1"/>
<line x1="622" y1="1150.5" x2="622" y2="1153.5" stroke="#000" stroke-width="3.1"/>
<line x1="649" y1="1150.5" x2="649" y2="1156.5" stroke="#000" stroke-width="3.1"/>
<text id="tx85" x="378.7" y="1178.6" font-family='"Liberation Serif", serif' font-size="17.50" font-weight="bold" text-anchor="middle" fill="#111">538</text>
<text id="tx86" x="432.8" y="1178.6" font-family='"Liberation Serif", serif' font-size="17.50" font-weight="bold" text-anchor="middle" fill="#111">536</text>
<text id="tx87" x="486.8" y="1178.6" font-family='"Liberation Serif", serif' font-size="17.50" font-weight="bold" text-anchor="middle" fill="#111">534</text>
<text id="tx88" x="540.9" y="1178.6" font-family='"Liberation Serif", serif' font-size="17.50" font-weight="bold" text-anchor="middle" fill="#111">532</text>
<text id="tx89" x="594.9" y="1178.6" font-family='"Liberation Serif", serif' font-size="17.50" font-weight="bold" text-anchor="middle" fill="#111">530</text>
<text id="tx90" x="649" y="1178.6" font-family='"Liberation Serif", serif' font-size="17.50" font-weight="bold" text-anchor="middle" fill="#111">528</text>
<text id="tx91" x="422" y="1206.1" font-family='"Liberation Serif", serif' font-size="21.44" font-weight="bold" text-anchor="start" fill="#111" textLength="183.6" lengthAdjust="spacingAndGlyphs">Binding energy (eV)</text>
<text id="tx92" x="353.6" y="1078.3" font-family='"Liberation Serif", serif' font-size="22.13" font-weight="bold" text-anchor="start" fill="#111" transform="rotate(-90 353.6 1078.3)" textLength="137.3" lengthAdjust="spacingAndGlyphs">Intensity (a.u.)</text>
<text id="tx93" x="385.9" y="876" font-family='"Liberation Serif", serif' font-size="16.90" font-weight="bold" text-anchor="start" fill="#111" textLength="31.8" lengthAdjust="spacingAndGlyphs">O 1s</text>
<text id="tx94" x="453.8" y="880.4" font-family='"Liberation Serif", serif' font-size="13.82" font-weight="normal" text-anchor="start" fill="#444" textLength="26" lengthAdjust="spacingAndGlyphs">C=O</text>
<text id="tx95" x="570.9" y="902" font-family='"Liberation Serif", serif' font-size="14.68" font-weight="normal" text-anchor="start" fill="#444" textLength="75" lengthAdjust="spacingAndGlyphs">[C–O<tspan dy="-5" font-size="8">−</tspan><tspan dy="5">]</tspan><tspan dy="3" font-size="8">2</tspan><tspan dy="-3">Mg</tspan><tspan dy="-5" font-size="8">2+</tspan></text>
<text id="tx96" x="383" y="925.2" font-family='"Liberation Serif", serif' font-size="14.78" font-weight="normal" text-anchor="start" fill="#444" textLength="42" lengthAdjust="spacingAndGlyphs">C 2.5V</text>
<text id="tx97" x="433.6" y="1005" font-family='"Liberation Serif", serif' font-size="14.65" font-weight="normal" text-anchor="start" fill="#444" textLength="24.6" lengthAdjust="spacingAndGlyphs">C-O</text>
<text id="tx98" x="383" y="1026.6" font-family='"Liberation Serif", serif' font-size="15.04" font-weight="normal" text-anchor="start" fill="#444" textLength="43.4" lengthAdjust="spacingAndGlyphs">D 1.5V</text>
<text id="tx99" x="383" y="1129.5" font-family='"Liberation Serif", serif' font-size="14.92" font-weight="normal" text-anchor="start" fill="#444" textLength="50.6" lengthAdjust="spacingAndGlyphs">D 0.01V</text>
<line x1="477" y1="880.4" x2="489.9" y2="902.6" stroke="#2090e0" stroke-width="1.5"/><path d="M492.9,907.8 L487.3,904.1 L492.5,901.1 Z" fill="#2090e0"/>
<line x1="588.3" y1="906.4" x2="576.6" y2="918.1" stroke="#f06060" stroke-width="1.5"/><path d="M572.4,922.3 L574.5,915.9 L578.8,920.2 Z" fill="#f06060"/>
<line x1="452.4" y1="1009.3" x2="466" y2="1026.3" stroke="#30c050" stroke-width="1.5"/><path d="M469.7,1031 L463.6,1028.2 L468.3,1024.4 Z" fill="#30c050"/>
<text id="tx100" x="338.5" y="872.6" font-family='"Liberation Sans", sans-serif' font-size="28.50" font-weight="normal" text-anchor="start" fill="#111">f)</text>
<path d="M717.3,952.4 L720,955.5 L722.7,955 L725.4,952.5 L728.1,953.5 L730.8,953.1 L733.5,953.9 L736.2,954.3 L738.9,951 L741.6,950.5 L744.3,954 L747,952 L749.7,953.3 L752.4,949.5 L755.1,951.3 L757.8,952.2 L760.5,949.6 L763.2,952.4 L765.9,951.7 L768.6,947.2 L771.3,946.5 L774,948.1 L776.7,949.1 L779.4,945.5 L782.1,943.6 L784.8,943.1 L787.5,939.3 L790.2,938 L792.9,936.8 L795.6,935.1 L798.3,932.2 L801,930.4 L803.7,928.6 L806.4,928 L809.1,925.5 L811.8,922.6 L814.5,924.6 L817.2,921.5 L819.9,920.2 L822.6,916.5 L825.3,918.4 L828,915.7 L830.7,909.6 L833.4,906.6 L836.1,903.3 L838.8,898.7 L841.5,896.3 L844.2,893.1 L846.9,894.7 L849.6,893.7 L852.3,891.9 L855,893.3 L857.7,895.1 L860.4,895.7 L863.1,895.7 L865.8,898.9 L868.5,900.3 L871.2,905.9 L873.9,912.7 L876.6,915 L879.3,918.1 L882,924 L884.7,928.6 L887.4,932.5 L890.1,935.3 L892.8,939.5 L895.5,943.2 L898.2,947.1 L900.9,947.7 L903.6,948.3 L906.3,949.5 L909,947.8 L911.7,948.2 L914.4,951.5 L917.1,953.1 L919.8,951.6 L922.5,951.1 L925.2,950.4 L927.9,952.3 L930.6,954.8 L933.3,954.1 L936,953.3 L938.7,955.1 L941.4,952.4 L944.1,954 L946.8,956.3 L949.5,954.9 L952.2,954.6 L954.9,954 L957.6,955.5 L960.3,957.7 L963,953.6 L965.7,957.4 L968.4,957.9 L971.1,958.4 L973.8,958" fill="none" stroke="#f4a26c" stroke-width="2.8" stroke-linejoin="round"/>
<path d="M717.3,1049.8 L720,1049.7 L722.7,1045.6 L725.4,1045.7 L728.1,1049.2 L730.8,1048.7 L733.5,1048.4 L736.2,1046.8 L738.9,1048.1 L741.6,1048.1 L744.3,1048 L747,1046 L749.7,1047.2 L752.4,1047 L755.1,1048.5 L757.8,1049.6 L760.5,1049.3 L763.2,1047.3 L765.9,1046.7 L768.6,1045.6 L771.3,1044.3 L774,1043.8 L776.7,1045.4 L779.4,1044.1 L782.1,1043.6 L784.8,1045.1 L787.5,1042.4 L790.2,1041.4 L792.9,1038.7 L795.6,1036.5 L798.3,1036.6 L801,1034.5 L803.7,1035.2 L806.4,1036.4 L809.1,1033.8 L811.8,1030.2 L814.5,1031.7 L817.2,1028.6 L819.9,1024.6 L822.6,1020.1 L825.3,1013.4 L828,1006.5 L830.7,997.1 L833.4,992.8 L836.1,986.2 L838.8,977.1 L841.5,975.4 L844.2,971.8 L846.9,968.1 L849.6,967 L852.3,966.3 L855,968.7 L857.7,968.3 L860.4,972.9 L863.1,975.6 L865.8,985.3 L868.5,994 L871.2,1000.5 L873.9,1008.2 L876.6,1015 L879.3,1017.6 L882,1019.1 L884.7,1019.9 L887.4,1022.3 L890.1,1026.3 L892.8,1026.8 L895.5,1034 L898.2,1034.5 L900.9,1039.9 L903.6,1038.8 L906.3,1043.2 L909,1043.3 L911.7,1043.3 L914.4,1044.2 L917.1,1045.5 L919.8,1045.8 L922.5,1045 L925.2,1044.9 L927.9,1046.6 L930.6,1048.9 L933.3,1047.7 L936,1045.3 L938.7,1049 L941.4,1048.7 L944.1,1049.7 L946.8,1046.5 L949.5,1049.2 L952.2,1046.2 L954.9,1049 L957.6,1047.4 L960.3,1047.3 L963,1050.3 L965.7,1046.9 L968.4,1048.9 L971.1,1050.6 L973.8,1047.9" fill="none" stroke="#7dd3a0" stroke-width="2.8" stroke-linejoin="round"/>
<path d="M717.3,1128.9 L720,1130.1 L722.7,1129.2 L725.4,1130.1 L728.1,1130.1 L730.8,1127.3 L733.5,1126.9 L736.2,1130.6 L738.9,1127.8 L741.6,1127.5 L744.3,1130.8 L747,1128.3 L749.7,1129.8 L752.4,1128 L755.1,1128.6 L757.8,1126.2 L760.5,1128.2 L763.2,1129.1 L765.9,1127.4 L768.6,1128.2 L771.3,1127.7 L774,1124.7 L776.7,1127.8 L779.4,1126.8 L782.1,1125.3 L784.8,1123.8 L787.5,1127.4 L790.2,1125.4 L792.9,1126.3 L795.6,1126.8 L798.3,1125.8 L801,1126.4 L803.7,1123.7 L806.4,1125.2 L809.1,1123.1 L811.8,1124.7 L814.5,1123.5 L817.2,1118.9 L819.9,1117.5 L822.6,1115.4 L825.3,1115 L828,1108.3 L830.7,1104.4 L833.4,1097.4 L836.1,1092.5 L838.8,1086.2 L841.5,1080.4 L844.2,1075.7 L846.9,1069.9 L849.6,1065.6 L852.3,1058.3 L855,1052.9 L857.7,1048.9 L860.4,1048.3 L863.1,1047.5 L865.8,1046.8 L868.5,1052.5 L871.2,1056.6 L873.9,1061.7 L876.6,1066.6 L879.3,1073.5 L882,1077.4 L884.7,1086.5 L887.4,1091.4 L890.1,1095.9 L892.8,1100.4 L895.5,1109.5 L898.2,1115.1 L900.9,1114.9 L903.6,1121.1 L906.3,1121.6 L909,1121.3 L911.7,1122.4 L914.4,1125.1 L917.1,1126.1 L919.8,1122.7 L922.5,1125.7 L925.2,1123.5 L927.9,1127 L930.6,1125.5 L933.3,1128.4 L936,1129.2 L938.7,1127.3 L941.4,1129.9 L944.1,1127.1 L946.8,1126.3 L949.5,1129.1 L952.2,1126.8 L954.9,1127.8 L957.6,1129.1 L960.3,1130.4 L963,1128.6 L965.7,1128.4 L968.4,1132.5 L971.1,1130.2 L973.8,1133.5" fill="none" stroke="#9fd0f3" stroke-width="2.8" stroke-linejoin="round"/>
<line x1="848" y1="895" x2="861" y2="1049" stroke="#111" stroke-width="1.5" stroke-dasharray="1.5 1.5"/>
<rect x="716.2" y="857.2" width="261.9" height="298.9" fill="none" stroke="#000" stroke-width="3.9"/>
<line x1="716.8" y1="1156.1" x2="716.8" y2="1159.1" stroke="#000" stroke-width="3.1"/>
<line x1="742.8" y1="1156.1" x2="742.8" y2="1162.1" stroke="#000" stroke-width="3.1"/>
<line x1="768.8" y1="1156.1" x2="768.8" y2="1159.1" stroke="#000" stroke-width="3.1"/>
<line x1="794.8" y1="1156.1" x2="794.8" y2="1162.1" stroke="#000" stroke-width="3.1"/>
<line x1="820.8" y1="1156.1" x2="820.8" y2="1159.1" stroke="#000" stroke-width="3.1"/>
<line x1="846.8" y1="1156.1" x2="846.8" y2="1162.1" stroke="#000" stroke-width="3.1"/>
<line x1="872.8" y1="1156.1" x2="872.8" y2="1159.1" stroke="#000" stroke-width="3.1"/>
<line x1="898.8" y1="1156.1" x2="898.8" y2="1162.1" stroke="#000" stroke-width="3.1"/>
<line x1="924.8" y1="1156.1" x2="924.8" y2="1159.1" stroke="#000" stroke-width="3.1"/>
<line x1="950.8" y1="1156.1" x2="950.8" y2="1162.1" stroke="#000" stroke-width="3.1"/>
<text id="tx101" x="742.8" y="1182.1" font-family='"Liberation Serif", serif' font-size="17.50" font-weight="bold" text-anchor="middle" fill="#111">94</text>
<text id="tx102" x="794.8" y="1182.1" font-family='"Liberation Serif", serif' font-size="17.50" font-weight="bold" text-anchor="middle" fill="#111">92</text>
<text id="tx103" x="846.9" y="1182.1" font-family='"Liberation Serif", serif' font-size="17.50" font-weight="bold" text-anchor="middle" fill="#111">90</text>
<text id="tx104" x="898.9" y="1182.1" font-family='"Liberation Serif", serif' font-size="17.50" font-weight="bold" text-anchor="middle" fill="#111">88</text>
<text id="tx105" x="951" y="1182.1" font-family='"Liberation Serif", serif' font-size="17.50" font-weight="bold" text-anchor="middle" fill="#111">86</text>
<text id="tx106" x="752" y="1206.7" font-family='"Liberation Serif", serif' font-size="21.95" font-weight="bold" text-anchor="start" fill="#111" textLength="188" lengthAdjust="spacingAndGlyphs">Binding energy (eV)</text>
<text id="tx107" x="692.9" y="1066.9" font-family='"Liberation Serif", serif' font-size="21.90" font-weight="bold" text-anchor="start" fill="#111" transform="rotate(-90 692.9 1066.9)" textLength="135.9" lengthAdjust="spacingAndGlyphs">Intensity (a.u.)</text>
<text id="tx108" x="723.1" y="878.9" font-family='"Liberation Serif", serif' font-size="17.74" font-weight="bold" text-anchor="start" fill="#111" textLength="44.9" lengthAdjust="spacingAndGlyphs">Mg 2s</text>
<text id="tx109" x="724.6" y="946.8" font-family='"Liberation Serif", serif' font-size="15.63" font-weight="normal" text-anchor="start" fill="#444" textLength="44.8" lengthAdjust="spacingAndGlyphs">C 2.5V</text>
<text id="tx110" x="724.6" y="1034.1" font-family='"Liberation Serif", serif' font-size="15.56" font-weight="normal" text-anchor="start" fill="#444" textLength="44.8" lengthAdjust="spacingAndGlyphs">D 1.5V</text>
<text id="tx111" x="724.6" y="1118.5" font-family='"Liberation Serif", serif' font-size="15.40" font-weight="normal" text-anchor="start" fill="#444" textLength="52" lengthAdjust="spacingAndGlyphs">D 0.01V</text>
<text id="tx112" x="677" y="872.6" font-family='"Liberation Sans", sans-serif' font-size="28.50" font-weight="normal" text-anchor="start" fill="#111">g)</text>
</svg></body></html>
